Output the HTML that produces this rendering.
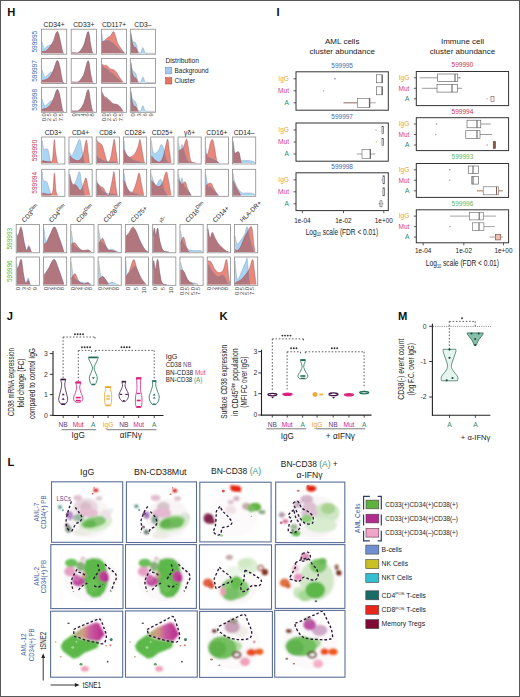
<!DOCTYPE html>
<html><head><meta charset="utf-8"><title>Figure</title>
<style>
html,body{margin:0;padding:0;background:#fff;}
body{width:520px;height:697px;overflow:hidden;}
svg{display:block;font-family:"Liberation Sans", sans-serif;}
</style></head>
<body>
<svg width="520" height="697" viewBox="0 0 520 697">
<rect x="0" y="0" width="520" height="697" fill="#fff"/>
<text x="7.2" y="16.2" font-size="11.2" fill="#111" font-weight="bold">H</text>
<text x="54.1" y="26.5" font-size="6.7" fill="#222" text-anchor="middle">CD34+</text>
<text x="83.8" y="26.5" font-size="6.7" fill="#222" text-anchor="middle">CD33+</text>
<text x="114" y="26.5" font-size="6.7" fill="#222" text-anchor="middle">CD117+</text>
<text x="142.9" y="26.5" font-size="6.7" fill="#222" text-anchor="middle">CD3–</text>
<text x="37.4" y="41.7" font-size="6.5" fill="#3f6aa8" text-anchor="middle" transform="rotate(-90 37.4 41.7)">599995</text>
<clipPath id="h1"><path d="M42.1,41.85 C42.42,43 43.22,47.96 44.02,48.72 C44.82,49.48 45.42,47.38 46.9,46.43 C48.38,45.48 51.3,45.29 52.9,43 C54.5,40.71 55.5,34.03 56.5,32.69 C57.5,31.35 57.9,31.74 58.9,34.98 C59.9,38.22 61.7,49.1 62.5,52.16 C63.3,55.21 63.5,53.11 63.7,53.3 L63.7,53.3 L42.1,53.3 Z"/></clipPath>
<path d="M42.1,41.85 C42.42,43 43.22,47.96 44.02,48.72 C44.82,49.48 45.42,47.38 46.9,46.43 C48.38,45.48 51.3,45.29 52.9,43 C54.5,40.71 55.5,34.03 56.5,32.69 C57.5,31.35 57.9,31.74 58.9,34.98 C59.9,38.22 61.7,49.1 62.5,52.16 C63.3,55.21 63.5,53.11 63.7,53.3 L63.7,53.3 L42.1,53.3 Z" fill="#a9d5f4"/>
<path d="M42.1,51.01 C42.7,51.01 44.5,51.58 45.7,51.01 C46.9,50.44 48.1,49.1 49.3,47.58 C50.5,46.05 51.62,44.52 52.9,41.85 C54.18,39.18 55.9,32.31 56.98,31.54 C58.06,30.78 58.46,34.03 59.38,37.27 C60.3,40.51 61.78,48.34 62.5,51.01 C63.22,53.68 63.5,52.92 63.7,53.3 L63.7,53.3 L42.1,53.3 Z" fill="#e8887a"/>
<path d="M42.1,51.01 C42.7,51.01 44.5,51.58 45.7,51.01 C46.9,50.44 48.1,49.1 49.3,47.58 C50.5,46.05 51.62,44.52 52.9,41.85 C54.18,39.18 55.9,32.31 56.98,31.54 C58.06,30.78 58.46,34.03 59.38,37.27 C60.3,40.51 61.78,48.34 62.5,51.01 C63.22,53.68 63.5,52.92 63.7,53.3 L63.7,53.3 L42.1,53.3 Z" fill="#b2767f" clip-path="url(#h1)"/>
<path d="M42.1,41.85 C42.42,43 43.22,47.96 44.02,48.72 C44.82,49.48 45.42,47.38 46.9,46.43 C48.38,45.48 51.3,45.29 52.9,43 C54.5,40.71 55.5,34.03 56.5,32.69 C57.5,31.35 57.9,31.74 58.9,34.98 C59.9,38.22 61.7,49.1 62.5,52.16 C63.3,55.21 63.5,53.11 63.7,53.3" fill="none" stroke="#7d8fb0" stroke-width="0.5" stroke-opacity="0.8"/>
<path d="M42.1,51.01 C42.7,51.01 44.5,51.58 45.7,51.01 C46.9,50.44 48.1,49.1 49.3,47.58 C50.5,46.05 51.62,44.52 52.9,41.85 C54.18,39.18 55.9,32.31 56.98,31.54 C58.06,30.78 58.46,34.03 59.38,37.27 C60.3,40.51 61.78,48.34 62.5,51.01 C63.22,53.68 63.5,52.92 63.7,53.3" fill="none" stroke="#8e4a55" stroke-width="0.5" stroke-opacity="0.8"/>
<rect x="41.5" y="29.2" width="25.2" height="25" fill="none" stroke="#8c8c8c" stroke-width="0.8"/>
<clipPath id="h2"><path d="M71.8,52.61 C72.2,52.65 73,52.92 74.2,52.84 C75.4,52.77 77.4,53.41 79,52.16 C80.6,50.9 82.28,48.72 83.8,45.29 C85.32,41.85 87,31.74 88.12,31.54 C89.24,31.35 89.84,40.7 90.52,44.14 C91.2,47.58 91.72,50.63 92.2,52.16 C92.68,53.68 93.2,53.11 93.4,53.3 L93.4,53.3 L71.8,53.3 Z"/></clipPath>
<path d="M71.8,52.61 C72.2,52.65 73,52.92 74.2,52.84 C75.4,52.77 77.4,53.41 79,52.16 C80.6,50.9 82.28,48.72 83.8,45.29 C85.32,41.85 87,31.74 88.12,31.54 C89.24,31.35 89.84,40.7 90.52,44.14 C91.2,47.58 91.72,50.63 92.2,52.16 C92.68,53.68 93.2,53.11 93.4,53.3 L93.4,53.3 L71.8,53.3 Z" fill="#a9d5f4"/>
<path d="M71.8,52.61 C72.2,52.65 73,52.92 74.2,52.84 C75.4,52.77 77.4,53.41 79,52.16 C80.6,50.9 82.28,48.72 83.8,45.29 C85.32,41.85 87,31.74 88.12,31.54 C89.24,31.35 89.84,40.7 90.52,44.14 C91.2,47.58 91.72,50.63 92.2,52.16 C92.68,53.68 93.2,53.11 93.4,53.3 L93.4,53.3 L71.8,53.3 Z" fill="#e8887a"/>
<path d="M71.8,52.61 C72.2,52.65 73,52.92 74.2,52.84 C75.4,52.77 77.4,53.41 79,52.16 C80.6,50.9 82.28,48.72 83.8,45.29 C85.32,41.85 87,31.74 88.12,31.54 C89.24,31.35 89.84,40.7 90.52,44.14 C91.2,47.58 91.72,50.63 92.2,52.16 C92.68,53.68 93.2,53.11 93.4,53.3 L93.4,53.3 L71.8,53.3 Z" fill="#b2767f" clip-path="url(#h2)"/>
<path d="M71.8,52.61 C72.2,52.65 73,52.92 74.2,52.84 C75.4,52.77 77.4,53.41 79,52.16 C80.6,50.9 82.28,48.72 83.8,45.29 C85.32,41.85 87,31.74 88.12,31.54 C89.24,31.35 89.84,40.7 90.52,44.14 C91.2,47.58 91.72,50.63 92.2,52.16 C92.68,53.68 93.2,53.11 93.4,53.3" fill="none" stroke="#7d8fb0" stroke-width="0.5" stroke-opacity="0.8"/>
<path d="M71.8,52.61 C72.2,52.65 73,52.92 74.2,52.84 C75.4,52.77 77.4,53.41 79,52.16 C80.6,50.9 82.28,48.72 83.8,45.29 C85.32,41.85 87,31.74 88.12,31.54 C89.24,31.35 89.84,40.7 90.52,44.14 C91.2,47.58 91.72,50.63 92.2,52.16 C92.68,53.68 93.2,53.11 93.4,53.3" fill="none" stroke="#8e4a55" stroke-width="0.5" stroke-opacity="0.8"/>
<rect x="71.2" y="29.2" width="25.2" height="25" fill="none" stroke="#8c8c8c" stroke-width="0.8"/>
<clipPath id="h3"><path d="M102,33.84 C102.16,34.98 102.36,39.56 102.96,40.7 C103.56,41.85 104.56,40.7 105.6,40.7 C106.64,40.7 108,40.32 109.2,40.7 C110.4,41.09 111.6,42.04 112.8,43 C114,43.95 115,45.09 116.4,46.43 C117.8,47.77 119.8,49.87 121.2,51.01 C122.6,52.16 124.2,52.92 124.8,53.3 L124.8,53.3 L102,53.3 Z"/></clipPath>
<path d="M102,33.84 C102.16,34.98 102.36,39.56 102.96,40.7 C103.56,41.85 104.56,40.7 105.6,40.7 C106.64,40.7 108,40.32 109.2,40.7 C110.4,41.09 111.6,42.04 112.8,43 C114,43.95 115,45.09 116.4,46.43 C117.8,47.77 119.8,49.87 121.2,51.01 C122.6,52.16 124.2,52.92 124.8,53.3 L124.8,53.3 L102,53.3 Z" fill="#a9d5f4"/>
<path d="M102,41.85 C102.4,41.66 103.4,41.47 104.4,40.7 C105.4,39.94 107,38.03 108,37.27 C109,36.51 109.48,37.08 110.4,36.12 C111.32,35.17 112.6,31.35 113.52,31.54 C114.44,31.74 115.24,35.36 115.92,37.27 C116.6,39.18 116.72,41.09 117.6,43 C118.48,44.9 120,47 121.2,48.72 C122.4,50.44 124.2,52.54 124.8,53.3 L124.8,53.3 L102,53.3 Z" fill="#e8887a"/>
<path d="M102,41.85 C102.4,41.66 103.4,41.47 104.4,40.7 C105.4,39.94 107,38.03 108,37.27 C109,36.51 109.48,37.08 110.4,36.12 C111.32,35.17 112.6,31.35 113.52,31.54 C114.44,31.74 115.24,35.36 115.92,37.27 C116.6,39.18 116.72,41.09 117.6,43 C118.48,44.9 120,47 121.2,48.72 C122.4,50.44 124.2,52.54 124.8,53.3 L124.8,53.3 L102,53.3 Z" fill="#b2767f" clip-path="url(#h3)"/>
<path d="M102,33.84 C102.16,34.98 102.36,39.56 102.96,40.7 C103.56,41.85 104.56,40.7 105.6,40.7 C106.64,40.7 108,40.32 109.2,40.7 C110.4,41.09 111.6,42.04 112.8,43 C114,43.95 115,45.09 116.4,46.43 C117.8,47.77 119.8,49.87 121.2,51.01 C122.6,52.16 124.2,52.92 124.8,53.3" fill="none" stroke="#7d8fb0" stroke-width="0.5" stroke-opacity="0.8"/>
<path d="M102,41.85 C102.4,41.66 103.4,41.47 104.4,40.7 C105.4,39.94 107,38.03 108,37.27 C109,36.51 109.48,37.08 110.4,36.12 C111.32,35.17 112.6,31.35 113.52,31.54 C114.44,31.74 115.24,35.36 115.92,37.27 C116.6,39.18 116.72,41.09 117.6,43 C118.48,44.9 120,47 121.2,48.72 C122.4,50.44 124.2,52.54 124.8,53.3" fill="none" stroke="#8e4a55" stroke-width="0.5" stroke-opacity="0.8"/>
<rect x="101.4" y="29.2" width="25.2" height="25" fill="none" stroke="#8c8c8c" stroke-width="0.8"/>
<clipPath id="h4"><path d="M130.9,32.69 C131.1,33.84 131.7,38.03 132.1,39.56 C132.5,41.09 132.7,41.28 133.3,41.85 C133.9,42.42 134.9,41.47 135.7,43 C136.5,44.52 137.46,49.37 138.1,51.01 C138.74,52.65 139.06,52.61 139.54,52.84 C140.02,53.07 140.42,53.26 140.98,52.38 C141.54,51.51 142.26,47.58 142.9,47.58 C143.54,47.58 144.22,51.47 144.82,52.38 C145.42,53.3 144.82,52.92 146.5,53.07 C148.18,53.22 153.5,53.26 154.9,53.3 L154.9,53.3 L130.9,53.3 Z"/></clipPath>
<path d="M130.9,32.69 C131.1,33.84 131.7,38.03 132.1,39.56 C132.5,41.09 132.7,41.28 133.3,41.85 C133.9,42.42 134.9,41.47 135.7,43 C136.5,44.52 137.46,49.37 138.1,51.01 C138.74,52.65 139.06,52.61 139.54,52.84 C140.02,53.07 140.42,53.26 140.98,52.38 C141.54,51.51 142.26,47.58 142.9,47.58 C143.54,47.58 144.22,51.47 144.82,52.38 C145.42,53.3 144.82,52.92 146.5,53.07 C148.18,53.22 153.5,53.26 154.9,53.3 L154.9,53.3 L130.9,53.3 Z" fill="#a9d5f4"/>
<path d="M130.9,33.84 C131.1,35.17 131.62,39.75 132.1,41.85 C132.58,43.95 133.18,45.48 133.78,46.43 C134.38,47.38 135.06,46.62 135.7,47.58 C136.34,48.53 137.14,51.2 137.62,52.16 C138.1,53.11 138.42,53.11 138.58,53.3 L138.58,53.3 L130.9,53.3 Z" fill="#e8887a"/>
<path d="M130.9,33.84 C131.1,35.17 131.62,39.75 132.1,41.85 C132.58,43.95 133.18,45.48 133.78,46.43 C134.38,47.38 135.06,46.62 135.7,47.58 C136.34,48.53 137.14,51.2 137.62,52.16 C138.1,53.11 138.42,53.11 138.58,53.3 L138.58,53.3 L130.9,53.3 Z" fill="#b2767f" clip-path="url(#h4)"/>
<path d="M130.9,32.69 C131.1,33.84 131.7,38.03 132.1,39.56 C132.5,41.09 132.7,41.28 133.3,41.85 C133.9,42.42 134.9,41.47 135.7,43 C136.5,44.52 137.46,49.37 138.1,51.01 C138.74,52.65 139.06,52.61 139.54,52.84 C140.02,53.07 140.42,53.26 140.98,52.38 C141.54,51.51 142.26,47.58 142.9,47.58 C143.54,47.58 144.22,51.47 144.82,52.38 C145.42,53.3 144.82,52.92 146.5,53.07 C148.18,53.22 153.5,53.26 154.9,53.3" fill="none" stroke="#7d8fb0" stroke-width="0.5" stroke-opacity="0.8"/>
<path d="M130.9,33.84 C131.1,35.17 131.62,39.75 132.1,41.85 C132.58,43.95 133.18,45.48 133.78,46.43 C134.38,47.38 135.06,46.62 135.7,47.58 C136.34,48.53 137.14,51.2 137.62,52.16 C138.1,53.11 138.42,53.11 138.58,53.3" fill="none" stroke="#8e4a55" stroke-width="0.5" stroke-opacity="0.8"/>
<rect x="130.3" y="29.2" width="25.2" height="25" fill="none" stroke="#8c8c8c" stroke-width="0.8"/>
<text x="37.4" y="71" font-size="6.5" fill="#3f6aa8" text-anchor="middle" transform="rotate(-90 37.4 71)">599997</text>
<clipPath id="h5"><path d="M42.1,70 C42.5,71.15 43.7,75.92 44.5,76.88 C45.3,77.83 45.9,76.49 46.9,75.73 C47.9,74.97 49.5,73.06 50.5,72.3 C51.5,71.53 51.82,73.06 52.9,71.15 C53.98,69.24 55.9,61.8 56.98,60.84 C58.06,59.89 58.46,61.99 59.38,65.42 C60.3,68.86 61.78,78.59 62.5,81.45 C63.22,84.32 63.5,82.41 63.7,82.6 L63.7,82.6 L42.1,82.6 Z"/></clipPath>
<path d="M42.1,70 C42.5,71.15 43.7,75.92 44.5,76.88 C45.3,77.83 45.9,76.49 46.9,75.73 C47.9,74.97 49.5,73.06 50.5,72.3 C51.5,71.53 51.82,73.06 52.9,71.15 C53.98,69.24 55.9,61.8 56.98,60.84 C58.06,59.89 58.46,61.99 59.38,65.42 C60.3,68.86 61.78,78.59 62.5,81.45 C63.22,84.32 63.5,82.41 63.7,82.6 L63.7,82.6 L42.1,82.6 Z" fill="#a9d5f4"/>
<path d="M42.1,80.31 C42.9,80.12 45.5,79.93 46.9,79.16 C48.3,78.4 49.3,77.45 50.5,75.73 C51.7,74.01 53.02,71.34 54.1,68.86 C55.18,66.38 56.1,61.42 56.98,60.84 C57.86,60.27 58.46,61.99 59.38,65.42 C60.3,68.86 61.78,78.59 62.5,81.45 C63.22,84.32 63.5,82.41 63.7,82.6 L63.7,82.6 L42.1,82.6 Z" fill="#e8887a"/>
<path d="M42.1,80.31 C42.9,80.12 45.5,79.93 46.9,79.16 C48.3,78.4 49.3,77.45 50.5,75.73 C51.7,74.01 53.02,71.34 54.1,68.86 C55.18,66.38 56.1,61.42 56.98,60.84 C57.86,60.27 58.46,61.99 59.38,65.42 C60.3,68.86 61.78,78.59 62.5,81.45 C63.22,84.32 63.5,82.41 63.7,82.6 L63.7,82.6 L42.1,82.6 Z" fill="#b2767f" clip-path="url(#h5)"/>
<path d="M42.1,70 C42.5,71.15 43.7,75.92 44.5,76.88 C45.3,77.83 45.9,76.49 46.9,75.73 C47.9,74.97 49.5,73.06 50.5,72.3 C51.5,71.53 51.82,73.06 52.9,71.15 C53.98,69.24 55.9,61.8 56.98,60.84 C58.06,59.89 58.46,61.99 59.38,65.42 C60.3,68.86 61.78,78.59 62.5,81.45 C63.22,84.32 63.5,82.41 63.7,82.6" fill="none" stroke="#7d8fb0" stroke-width="0.5" stroke-opacity="0.8"/>
<path d="M42.1,80.31 C42.9,80.12 45.5,79.93 46.9,79.16 C48.3,78.4 49.3,77.45 50.5,75.73 C51.7,74.01 53.02,71.34 54.1,68.86 C55.18,66.38 56.1,61.42 56.98,60.84 C57.86,60.27 58.46,61.99 59.38,65.42 C60.3,68.86 61.78,78.59 62.5,81.45 C63.22,84.32 63.5,82.41 63.7,82.6" fill="none" stroke="#8e4a55" stroke-width="0.5" stroke-opacity="0.8"/>
<rect x="41.5" y="58.5" width="25.2" height="25" fill="none" stroke="#8c8c8c" stroke-width="0.8"/>
<clipPath id="h6"><path d="M71.8,81.91 C72.2,81.95 73,82.22 74.2,82.14 C75.4,82.07 77.4,82.71 79,81.45 C80.6,80.2 82.28,78.02 83.8,74.58 C85.32,71.15 87,61.04 88.12,60.84 C89.24,60.65 89.84,70 90.52,73.44 C91.2,76.88 91.72,79.93 92.2,81.45 C92.68,82.98 93.2,82.41 93.4,82.6 L93.4,82.6 L71.8,82.6 Z"/></clipPath>
<path d="M71.8,81.91 C72.2,81.95 73,82.22 74.2,82.14 C75.4,82.07 77.4,82.71 79,81.45 C80.6,80.2 82.28,78.02 83.8,74.58 C85.32,71.15 87,61.04 88.12,60.84 C89.24,60.65 89.84,70 90.52,73.44 C91.2,76.88 91.72,79.93 92.2,81.45 C92.68,82.98 93.2,82.41 93.4,82.6 L93.4,82.6 L71.8,82.6 Z" fill="#a9d5f4"/>
<path d="M71.8,81.91 C72.2,81.95 73,82.22 74.2,82.14 C75.4,82.07 77.4,82.71 79,81.45 C80.6,80.2 82.28,78.02 83.8,74.58 C85.32,71.15 87,61.04 88.12,60.84 C89.24,60.65 89.84,70 90.52,73.44 C91.2,76.88 91.72,79.93 92.2,81.45 C92.68,82.98 93.2,82.41 93.4,82.6 L93.4,82.6 L71.8,82.6 Z" fill="#e8887a"/>
<path d="M71.8,81.91 C72.2,81.95 73,82.22 74.2,82.14 C75.4,82.07 77.4,82.71 79,81.45 C80.6,80.2 82.28,78.02 83.8,74.58 C85.32,71.15 87,61.04 88.12,60.84 C89.24,60.65 89.84,70 90.52,73.44 C91.2,76.88 91.72,79.93 92.2,81.45 C92.68,82.98 93.2,82.41 93.4,82.6 L93.4,82.6 L71.8,82.6 Z" fill="#b2767f" clip-path="url(#h6)"/>
<path d="M71.8,81.91 C72.2,81.95 73,82.22 74.2,82.14 C75.4,82.07 77.4,82.71 79,81.45 C80.6,80.2 82.28,78.02 83.8,74.58 C85.32,71.15 87,61.04 88.12,60.84 C89.24,60.65 89.84,70 90.52,73.44 C91.2,76.88 91.72,79.93 92.2,81.45 C92.68,82.98 93.2,82.41 93.4,82.6" fill="none" stroke="#7d8fb0" stroke-width="0.5" stroke-opacity="0.8"/>
<path d="M71.8,81.91 C72.2,81.95 73,82.22 74.2,82.14 C75.4,82.07 77.4,82.71 79,81.45 C80.6,80.2 82.28,78.02 83.8,74.58 C85.32,71.15 87,61.04 88.12,60.84 C89.24,60.65 89.84,70 90.52,73.44 C91.2,76.88 91.72,79.93 92.2,81.45 C92.68,82.98 93.2,82.41 93.4,82.6" fill="none" stroke="#8e4a55" stroke-width="0.5" stroke-opacity="0.8"/>
<rect x="71.2" y="58.5" width="25.2" height="25" fill="none" stroke="#8c8c8c" stroke-width="0.8"/>
<clipPath id="h7"><path d="M102,65.42 C102.4,65.81 103.6,67.14 104.4,67.72 C105.2,68.29 106,68.29 106.8,68.86 C107.6,69.43 108.2,70.39 109.2,71.15 C110.2,71.91 111.8,72.68 112.8,73.44 C113.8,74.2 114.2,74.78 115.2,75.73 C116.2,76.68 117.6,78.02 118.8,79.16 C120,80.31 121.8,82.03 122.4,82.6 L122.4,82.6 L102,82.6 Z"/></clipPath>
<path d="M102,65.42 C102.4,65.81 103.6,67.14 104.4,67.72 C105.2,68.29 106,68.29 106.8,68.86 C107.6,69.43 108.2,70.39 109.2,71.15 C110.2,71.91 111.8,72.68 112.8,73.44 C113.8,74.2 114.2,74.78 115.2,75.73 C116.2,76.68 117.6,78.02 118.8,79.16 C120,80.31 121.8,82.03 122.4,82.6 L122.4,82.6 L102,82.6 Z" fill="#a9d5f4"/>
<path d="M102,64.28 C102.4,64.47 103.6,65.23 104.4,65.42 C105.2,65.62 105.8,64.85 106.8,65.42 C107.8,66 109.2,68.1 110.4,68.86 C111.6,69.62 113,69.43 114,70 C115,70.58 115.4,70.96 116.4,72.3 C117.4,73.63 118.8,76.3 120,78.02 C121.2,79.74 123,81.84 123.6,82.6 L123.6,82.6 L102,82.6 Z" fill="#e8887a"/>
<path d="M102,64.28 C102.4,64.47 103.6,65.23 104.4,65.42 C105.2,65.62 105.8,64.85 106.8,65.42 C107.8,66 109.2,68.1 110.4,68.86 C111.6,69.62 113,69.43 114,70 C115,70.58 115.4,70.96 116.4,72.3 C117.4,73.63 118.8,76.3 120,78.02 C121.2,79.74 123,81.84 123.6,82.6 L123.6,82.6 L102,82.6 Z" fill="#b2767f" clip-path="url(#h7)"/>
<path d="M102,65.42 C102.4,65.81 103.6,67.14 104.4,67.72 C105.2,68.29 106,68.29 106.8,68.86 C107.6,69.43 108.2,70.39 109.2,71.15 C110.2,71.91 111.8,72.68 112.8,73.44 C113.8,74.2 114.2,74.78 115.2,75.73 C116.2,76.68 117.6,78.02 118.8,79.16 C120,80.31 121.8,82.03 122.4,82.6" fill="none" stroke="#7d8fb0" stroke-width="0.5" stroke-opacity="0.8"/>
<path d="M102,64.28 C102.4,64.47 103.6,65.23 104.4,65.42 C105.2,65.62 105.8,64.85 106.8,65.42 C107.8,66 109.2,68.1 110.4,68.86 C111.6,69.62 113,69.43 114,70 C115,70.58 115.4,70.96 116.4,72.3 C117.4,73.63 118.8,76.3 120,78.02 C121.2,79.74 123,81.84 123.6,82.6" fill="none" stroke="#8e4a55" stroke-width="0.5" stroke-opacity="0.8"/>
<rect x="101.4" y="58.5" width="25.2" height="25" fill="none" stroke="#8c8c8c" stroke-width="0.8"/>
<clipPath id="h8"><path d="M130.9,61.99 C131.1,63.14 131.7,67.33 132.1,68.86 C132.5,70.39 132.7,70.39 133.3,71.15 C133.9,71.91 134.9,71.72 135.7,73.44 C136.5,75.16 137.46,80 138.1,81.45 C138.74,82.91 139.06,82.1 139.54,82.14 C140.02,82.18 140.42,82.56 140.98,81.68 C141.54,80.81 142.26,76.88 142.9,76.88 C143.54,76.88 144.22,80.77 144.82,81.68 C145.42,82.6 144.82,82.22 146.5,82.37 C148.18,82.52 153.5,82.56 154.9,82.6 L154.9,82.6 L130.9,82.6 Z"/></clipPath>
<path d="M130.9,61.99 C131.1,63.14 131.7,67.33 132.1,68.86 C132.5,70.39 132.7,70.39 133.3,71.15 C133.9,71.91 134.9,71.72 135.7,73.44 C136.5,75.16 137.46,80 138.1,81.45 C138.74,82.91 139.06,82.1 139.54,82.14 C140.02,82.18 140.42,82.56 140.98,81.68 C141.54,80.81 142.26,76.88 142.9,76.88 C143.54,76.88 144.22,80.77 144.82,81.68 C145.42,82.6 144.82,82.22 146.5,82.37 C148.18,82.52 153.5,82.56 154.9,82.6 L154.9,82.6 L130.9,82.6 Z" fill="#a9d5f4"/>
<path d="M130.9,63.14 C131.1,64.66 131.62,70 132.1,72.3 C132.58,74.59 133.18,75.92 133.78,76.88 C134.38,77.83 135.06,77.18 135.7,78.02 C136.34,78.86 137.14,81.15 137.62,81.91 C138.1,82.68 138.42,82.49 138.58,82.6 L138.58,82.6 L130.9,82.6 Z" fill="#e8887a"/>
<path d="M130.9,63.14 C131.1,64.66 131.62,70 132.1,72.3 C132.58,74.59 133.18,75.92 133.78,76.88 C134.38,77.83 135.06,77.18 135.7,78.02 C136.34,78.86 137.14,81.15 137.62,81.91 C138.1,82.68 138.42,82.49 138.58,82.6 L138.58,82.6 L130.9,82.6 Z" fill="#b2767f" clip-path="url(#h8)"/>
<path d="M130.9,61.99 C131.1,63.14 131.7,67.33 132.1,68.86 C132.5,70.39 132.7,70.39 133.3,71.15 C133.9,71.91 134.9,71.72 135.7,73.44 C136.5,75.16 137.46,80 138.1,81.45 C138.74,82.91 139.06,82.1 139.54,82.14 C140.02,82.18 140.42,82.56 140.98,81.68 C141.54,80.81 142.26,76.88 142.9,76.88 C143.54,76.88 144.22,80.77 144.82,81.68 C145.42,82.6 144.82,82.22 146.5,82.37 C148.18,82.52 153.5,82.56 154.9,82.6" fill="none" stroke="#7d8fb0" stroke-width="0.5" stroke-opacity="0.8"/>
<path d="M130.9,63.14 C131.1,64.66 131.62,70 132.1,72.3 C132.58,74.59 133.18,75.92 133.78,76.88 C134.38,77.83 135.06,77.18 135.7,78.02 C136.34,78.86 137.14,81.15 137.62,81.91 C138.1,82.68 138.42,82.49 138.58,82.6" fill="none" stroke="#8e4a55" stroke-width="0.5" stroke-opacity="0.8"/>
<rect x="130.3" y="58.5" width="25.2" height="25" fill="none" stroke="#8c8c8c" stroke-width="0.8"/>
<text x="37.4" y="99.8" font-size="6.5" fill="#3f6aa8" text-anchor="middle" transform="rotate(-90 37.4 99.8)">599998</text>
<clipPath id="h9"><path d="M42.1,98.8 C42.5,99.95 43.7,104.72 44.5,105.67 C45.3,106.63 45.9,105.29 46.9,104.53 C47.9,103.77 49.5,101.86 50.5,101.09 C51.5,100.33 51.82,101.86 52.9,99.95 C53.98,98.04 55.9,90.6 56.98,89.64 C58.06,88.69 58.46,90.79 59.38,94.22 C60.3,97.66 61.78,107.39 62.5,110.25 C63.22,113.12 63.5,111.21 63.7,111.4 L63.7,111.4 L42.1,111.4 Z"/></clipPath>
<path d="M42.1,98.8 C42.5,99.95 43.7,104.72 44.5,105.67 C45.3,106.63 45.9,105.29 46.9,104.53 C47.9,103.77 49.5,101.86 50.5,101.09 C51.5,100.33 51.82,101.86 52.9,99.95 C53.98,98.04 55.9,90.6 56.98,89.64 C58.06,88.69 58.46,90.79 59.38,94.22 C60.3,97.66 61.78,107.39 62.5,110.25 C63.22,113.12 63.5,111.21 63.7,111.4 L63.7,111.4 L42.1,111.4 Z" fill="#a9d5f4"/>
<path d="M42.1,109.11 C42.9,108.92 45.5,108.73 46.9,107.96 C48.3,107.2 49.3,106.25 50.5,104.53 C51.7,102.81 53.02,100.14 54.1,97.66 C55.18,95.18 56.1,90.22 56.98,89.64 C57.86,89.07 58.46,90.79 59.38,94.22 C60.3,97.66 61.78,107.39 62.5,110.25 C63.22,113.12 63.5,111.21 63.7,111.4 L63.7,111.4 L42.1,111.4 Z" fill="#e8887a"/>
<path d="M42.1,109.11 C42.9,108.92 45.5,108.73 46.9,107.96 C48.3,107.2 49.3,106.25 50.5,104.53 C51.7,102.81 53.02,100.14 54.1,97.66 C55.18,95.18 56.1,90.22 56.98,89.64 C57.86,89.07 58.46,90.79 59.38,94.22 C60.3,97.66 61.78,107.39 62.5,110.25 C63.22,113.12 63.5,111.21 63.7,111.4 L63.7,111.4 L42.1,111.4 Z" fill="#b2767f" clip-path="url(#h9)"/>
<path d="M42.1,98.8 C42.5,99.95 43.7,104.72 44.5,105.67 C45.3,106.63 45.9,105.29 46.9,104.53 C47.9,103.77 49.5,101.86 50.5,101.09 C51.5,100.33 51.82,101.86 52.9,99.95 C53.98,98.04 55.9,90.6 56.98,89.64 C58.06,88.69 58.46,90.79 59.38,94.22 C60.3,97.66 61.78,107.39 62.5,110.25 C63.22,113.12 63.5,111.21 63.7,111.4" fill="none" stroke="#7d8fb0" stroke-width="0.5" stroke-opacity="0.8"/>
<path d="M42.1,109.11 C42.9,108.92 45.5,108.73 46.9,107.96 C48.3,107.2 49.3,106.25 50.5,104.53 C51.7,102.81 53.02,100.14 54.1,97.66 C55.18,95.18 56.1,90.22 56.98,89.64 C57.86,89.07 58.46,90.79 59.38,94.22 C60.3,97.66 61.78,107.39 62.5,110.25 C63.22,113.12 63.5,111.21 63.7,111.4" fill="none" stroke="#8e4a55" stroke-width="0.5" stroke-opacity="0.8"/>
<rect x="41.5" y="87.3" width="25.2" height="25" fill="none" stroke="#8c8c8c" stroke-width="0.8"/>
<clipPath id="h10"><path d="M71.8,110.71 C72.2,110.75 73,111.02 74.2,110.94 C75.4,110.87 77.4,111.51 79,110.25 C80.6,109 82.28,106.82 83.8,103.38 C85.32,99.95 87,89.84 88.12,89.64 C89.24,89.45 89.84,98.8 90.52,102.24 C91.2,105.67 91.72,108.73 92.2,110.25 C92.68,111.78 93.2,111.21 93.4,111.4 L93.4,111.4 L71.8,111.4 Z"/></clipPath>
<path d="M71.8,110.71 C72.2,110.75 73,111.02 74.2,110.94 C75.4,110.87 77.4,111.51 79,110.25 C80.6,109 82.28,106.82 83.8,103.38 C85.32,99.95 87,89.84 88.12,89.64 C89.24,89.45 89.84,98.8 90.52,102.24 C91.2,105.67 91.72,108.73 92.2,110.25 C92.68,111.78 93.2,111.21 93.4,111.4 L93.4,111.4 L71.8,111.4 Z" fill="#a9d5f4"/>
<path d="M71.8,110.71 C72.2,110.75 73,111.02 74.2,110.94 C75.4,110.87 77.4,111.51 79,110.25 C80.6,109 82.28,106.82 83.8,103.38 C85.32,99.95 87,89.84 88.12,89.64 C89.24,89.45 89.84,98.8 90.52,102.24 C91.2,105.67 91.72,108.73 92.2,110.25 C92.68,111.78 93.2,111.21 93.4,111.4 L93.4,111.4 L71.8,111.4 Z" fill="#e8887a"/>
<path d="M71.8,110.71 C72.2,110.75 73,111.02 74.2,110.94 C75.4,110.87 77.4,111.51 79,110.25 C80.6,109 82.28,106.82 83.8,103.38 C85.32,99.95 87,89.84 88.12,89.64 C89.24,89.45 89.84,98.8 90.52,102.24 C91.2,105.67 91.72,108.73 92.2,110.25 C92.68,111.78 93.2,111.21 93.4,111.4 L93.4,111.4 L71.8,111.4 Z" fill="#b2767f" clip-path="url(#h10)"/>
<path d="M71.8,110.71 C72.2,110.75 73,111.02 74.2,110.94 C75.4,110.87 77.4,111.51 79,110.25 C80.6,109 82.28,106.82 83.8,103.38 C85.32,99.95 87,89.84 88.12,89.64 C89.24,89.45 89.84,98.8 90.52,102.24 C91.2,105.67 91.72,108.73 92.2,110.25 C92.68,111.78 93.2,111.21 93.4,111.4" fill="none" stroke="#7d8fb0" stroke-width="0.5" stroke-opacity="0.8"/>
<path d="M71.8,110.71 C72.2,110.75 73,111.02 74.2,110.94 C75.4,110.87 77.4,111.51 79,110.25 C80.6,109 82.28,106.82 83.8,103.38 C85.32,99.95 87,89.84 88.12,89.64 C89.24,89.45 89.84,98.8 90.52,102.24 C91.2,105.67 91.72,108.73 92.2,110.25 C92.68,111.78 93.2,111.21 93.4,111.4" fill="none" stroke="#8e4a55" stroke-width="0.5" stroke-opacity="0.8"/>
<rect x="71.2" y="87.3" width="25.2" height="25" fill="none" stroke="#8c8c8c" stroke-width="0.8"/>
<clipPath id="h11"><path d="M102,93.08 C102.4,93.84 103.6,96.71 104.4,97.66 C105.2,98.61 106,98.23 106.8,98.8 C107.6,99.38 108.2,100.22 109.2,101.09 C110.2,101.97 111.8,103.5 112.8,104.07 C113.8,104.64 114.4,104.34 115.2,104.53 C116,104.72 116.8,104.76 117.6,105.22 C118.4,105.67 119.08,106.25 120,107.28 C120.92,108.31 122.6,110.71 123.12,111.4 L123.12,111.4 L102,111.4 Z"/></clipPath>
<path d="M102,93.08 C102.4,93.84 103.6,96.71 104.4,97.66 C105.2,98.61 106,98.23 106.8,98.8 C107.6,99.38 108.2,100.22 109.2,101.09 C110.2,101.97 111.8,103.5 112.8,104.07 C113.8,104.64 114.4,104.34 115.2,104.53 C116,104.72 116.8,104.76 117.6,105.22 C118.4,105.67 119.08,106.25 120,107.28 C120.92,108.31 122.6,110.71 123.12,111.4 L123.12,111.4 L102,111.4 Z" fill="#a9d5f4"/>
<path d="M102,91.94 C102.4,92.7 103.6,95.56 104.4,96.52 C105.2,97.47 106,97.09 106.8,97.66 C107.6,98.23 108.2,99 109.2,99.95 C110.2,100.9 111.8,102.7 112.8,103.38 C113.8,104.07 114.4,103.88 115.2,104.07 C116,104.26 116.8,104.07 117.6,104.53 C118.4,104.99 119.08,105.67 120,106.82 C120.92,107.96 122.6,110.64 123.12,111.4 L123.12,111.4 L102,111.4 Z" fill="#e8887a"/>
<path d="M102,91.94 C102.4,92.7 103.6,95.56 104.4,96.52 C105.2,97.47 106,97.09 106.8,97.66 C107.6,98.23 108.2,99 109.2,99.95 C110.2,100.9 111.8,102.7 112.8,103.38 C113.8,104.07 114.4,103.88 115.2,104.07 C116,104.26 116.8,104.07 117.6,104.53 C118.4,104.99 119.08,105.67 120,106.82 C120.92,107.96 122.6,110.64 123.12,111.4 L123.12,111.4 L102,111.4 Z" fill="#b2767f" clip-path="url(#h11)"/>
<path d="M102,93.08 C102.4,93.84 103.6,96.71 104.4,97.66 C105.2,98.61 106,98.23 106.8,98.8 C107.6,99.38 108.2,100.22 109.2,101.09 C110.2,101.97 111.8,103.5 112.8,104.07 C113.8,104.64 114.4,104.34 115.2,104.53 C116,104.72 116.8,104.76 117.6,105.22 C118.4,105.67 119.08,106.25 120,107.28 C120.92,108.31 122.6,110.71 123.12,111.4" fill="none" stroke="#7d8fb0" stroke-width="0.5" stroke-opacity="0.8"/>
<path d="M102,91.94 C102.4,92.7 103.6,95.56 104.4,96.52 C105.2,97.47 106,97.09 106.8,97.66 C107.6,98.23 108.2,99 109.2,99.95 C110.2,100.9 111.8,102.7 112.8,103.38 C113.8,104.07 114.4,103.88 115.2,104.07 C116,104.26 116.8,104.07 117.6,104.53 C118.4,104.99 119.08,105.67 120,106.82 C120.92,107.96 122.6,110.64 123.12,111.4" fill="none" stroke="#8e4a55" stroke-width="0.5" stroke-opacity="0.8"/>
<rect x="101.4" y="87.3" width="25.2" height="25" fill="none" stroke="#8c8c8c" stroke-width="0.8"/>
<clipPath id="h12"><path d="M130.9,90.79 C131.1,91.93 131.7,96.13 132.1,97.66 C132.5,99.19 132.7,99.19 133.3,99.95 C133.9,100.71 134.9,100.52 135.7,102.24 C136.5,103.96 137.46,108.8 138.1,110.25 C138.74,111.71 139.06,110.9 139.54,110.94 C140.02,110.98 140.42,111.36 140.98,110.48 C141.54,109.61 142.26,105.67 142.9,105.67 C143.54,105.67 144.22,109.57 144.82,110.48 C145.42,111.4 144.82,111.02 146.5,111.17 C148.18,111.32 153.5,111.36 154.9,111.4 L154.9,111.4 L130.9,111.4 Z"/></clipPath>
<path d="M130.9,90.79 C131.1,91.93 131.7,96.13 132.1,97.66 C132.5,99.19 132.7,99.19 133.3,99.95 C133.9,100.71 134.9,100.52 135.7,102.24 C136.5,103.96 137.46,108.8 138.1,110.25 C138.74,111.71 139.06,110.9 139.54,110.94 C140.02,110.98 140.42,111.36 140.98,110.48 C141.54,109.61 142.26,105.67 142.9,105.67 C143.54,105.67 144.22,109.57 144.82,110.48 C145.42,111.4 144.82,111.02 146.5,111.17 C148.18,111.32 153.5,111.36 154.9,111.4 L154.9,111.4 L130.9,111.4 Z" fill="#a9d5f4"/>
<path d="M130.9,91.94 C131.1,93.46 131.62,98.81 132.1,101.09 C132.58,103.38 133.18,104.72 133.78,105.67 C134.38,106.63 135.06,105.98 135.7,106.82 C136.34,107.66 137.14,109.95 137.62,110.71 C138.1,111.48 138.42,111.29 138.58,111.4 L138.58,111.4 L130.9,111.4 Z" fill="#e8887a"/>
<path d="M130.9,91.94 C131.1,93.46 131.62,98.81 132.1,101.09 C132.58,103.38 133.18,104.72 133.78,105.67 C134.38,106.63 135.06,105.98 135.7,106.82 C136.34,107.66 137.14,109.95 137.62,110.71 C138.1,111.48 138.42,111.29 138.58,111.4 L138.58,111.4 L130.9,111.4 Z" fill="#b2767f" clip-path="url(#h12)"/>
<path d="M130.9,90.79 C131.1,91.93 131.7,96.13 132.1,97.66 C132.5,99.19 132.7,99.19 133.3,99.95 C133.9,100.71 134.9,100.52 135.7,102.24 C136.5,103.96 137.46,108.8 138.1,110.25 C138.74,111.71 139.06,110.9 139.54,110.94 C140.02,110.98 140.42,111.36 140.98,110.48 C141.54,109.61 142.26,105.67 142.9,105.67 C143.54,105.67 144.22,109.57 144.82,110.48 C145.42,111.4 144.82,111.02 146.5,111.17 C148.18,111.32 153.5,111.36 154.9,111.4" fill="none" stroke="#7d8fb0" stroke-width="0.5" stroke-opacity="0.8"/>
<path d="M130.9,91.94 C131.1,93.46 131.62,98.81 132.1,101.09 C132.58,103.38 133.18,104.72 133.78,105.67 C134.38,106.63 135.06,105.98 135.7,106.82 C136.34,107.66 137.14,109.95 137.62,110.71 C138.1,111.48 138.42,111.29 138.58,111.4" fill="none" stroke="#8e4a55" stroke-width="0.5" stroke-opacity="0.8"/>
<rect x="130.3" y="87.3" width="25.2" height="25" fill="none" stroke="#8c8c8c" stroke-width="0.8"/>
<text x="45.92" y="113.2" font-size="5.8" fill="#444" text-anchor="end" transform="rotate(-90 45.92 113.2)">0.0</text>
<text x="51.2" y="113.2" font-size="5.8" fill="#444" text-anchor="end" transform="rotate(-90 51.2 113.2)">2.5</text>
<text x="57.2" y="113.2" font-size="5.8" fill="#444" text-anchor="end" transform="rotate(-90 57.2 113.2)">5.0</text>
<text x="62.72" y="113.2" font-size="5.8" fill="#444" text-anchor="end" transform="rotate(-90 62.72 113.2)">7.5</text>
<text x="75.62" y="113.2" font-size="5.8" fill="#444" text-anchor="end" transform="rotate(-90 75.62 113.2)">0</text>
<text x="80.18" y="113.2" font-size="5.8" fill="#444" text-anchor="end" transform="rotate(-90 80.18 113.2)">2</text>
<text x="84.74" y="113.2" font-size="5.8" fill="#444" text-anchor="end" transform="rotate(-90 84.74 113.2)">4</text>
<text x="89.3" y="113.2" font-size="5.8" fill="#444" text-anchor="end" transform="rotate(-90 89.3 113.2)">6</text>
<text x="93.86" y="113.2" font-size="5.8" fill="#444" text-anchor="end" transform="rotate(-90 93.86 113.2)">8</text>
<text x="105.82" y="113.2" font-size="5.8" fill="#444" text-anchor="end" transform="rotate(-90 105.82 113.2)">0.0</text>
<text x="111.1" y="113.2" font-size="5.8" fill="#444" text-anchor="end" transform="rotate(-90 111.1 113.2)">2.5</text>
<text x="117.1" y="113.2" font-size="5.8" fill="#444" text-anchor="end" transform="rotate(-90 117.1 113.2)">5.0</text>
<text x="122.62" y="113.2" font-size="5.8" fill="#444" text-anchor="end" transform="rotate(-90 122.62 113.2)">7.5</text>
<text x="134.72" y="113.2" font-size="5.8" fill="#444" text-anchor="end" transform="rotate(-90 134.72 113.2)">0</text>
<text x="140.72" y="113.2" font-size="5.8" fill="#444" text-anchor="end" transform="rotate(-90 140.72 113.2)">3</text>
<text x="146.72" y="113.2" font-size="5.8" fill="#444" text-anchor="end" transform="rotate(-90 146.72 113.2)">6</text>
<text x="152.72" y="113.2" font-size="5.8" fill="#444" text-anchor="end" transform="rotate(-90 152.72 113.2)">9</text>
<text x="165.4" y="62.9" font-size="6.5" fill="#222" textLength="33.6" lengthAdjust="spacingAndGlyphs">Distribution</text>
<rect x="165.6" y="67.4" width="6.2" height="6.4" fill="#a4cbee" stroke="#6f8fb5" stroke-width="0.6"/>
<rect x="165.6" y="77.6" width="6.2" height="6.4" fill="#e57468" stroke="#b05050" stroke-width="0.6"/>
<text x="174.6" y="73" font-size="6.5" fill="#222" textLength="34" lengthAdjust="spacingAndGlyphs">Background</text>
<text x="174.6" y="83.2" font-size="6.5" fill="#222">Cluster</text>
<text x="53.3" y="134.5" font-size="6.7" fill="#222" text-anchor="middle">CD3+</text>
<text x="80.56" y="134.5" font-size="6.7" fill="#222" text-anchor="middle">CD4+</text>
<text x="107.82" y="134.5" font-size="6.7" fill="#222" text-anchor="middle">CD8+</text>
<text x="135.08" y="134.5" font-size="6.7" fill="#222" text-anchor="middle">CD28+</text>
<text x="162.34" y="134.5" font-size="6.7" fill="#222" text-anchor="middle">CD25+</text>
<text x="189.6" y="134.5" font-size="6.7" fill="#222" text-anchor="middle">γδ+</text>
<text x="216.86" y="134.5" font-size="6.7" fill="#222" text-anchor="middle">CD16+</text>
<text x="244.12" y="134.5" font-size="6.7" fill="#222" text-anchor="middle">CD14–</text>
<text x="37.4" y="150.5" font-size="6.5" fill="#c8354b" text-anchor="middle" transform="rotate(-90 37.4 150.5)">599990</text>
<clipPath id="h13"><path d="M42.3,140.69 C42.48,141.94 43.03,146.71 43.4,148.16 C43.77,149.61 43.77,149.2 44.5,149.41 C45.23,149.61 46.88,147.75 47.8,149.41 C48.72,151.06 49.45,157.08 50,159.36 C50.55,161.65 50.92,162.48 51.1,163.1 L51.1,163.1 L42.3,163.1 Z"/></clipPath>
<path d="M42.3,140.69 C42.48,141.94 43.03,146.71 43.4,148.16 C43.77,149.61 43.77,149.2 44.5,149.41 C45.23,149.61 46.88,147.75 47.8,149.41 C48.72,151.06 49.45,157.08 50,159.36 C50.55,161.65 50.92,162.48 51.1,163.1 L51.1,163.1 L42.3,163.1 Z" fill="#a9d5f4"/>
<path d="M42.3,160.61 C43.4,160.82 47.25,161.85 48.9,161.85 C50.55,161.85 51.47,162.48 52.2,160.61 C52.93,158.74 52.93,154.18 53.3,150.65 C53.67,147.12 54.03,139.44 54.4,139.44 C54.77,139.44 55.02,146.91 55.5,150.65 C55.98,154.38 56.82,159.78 57.26,161.85 C57.7,163.93 57.99,162.89 58.14,163.1 L58.14,163.1 L42.3,163.1 Z" fill="#e8887a"/>
<path d="M42.3,160.61 C43.4,160.82 47.25,161.85 48.9,161.85 C50.55,161.85 51.47,162.48 52.2,160.61 C52.93,158.74 52.93,154.18 53.3,150.65 C53.67,147.12 54.03,139.44 54.4,139.44 C54.77,139.44 55.02,146.91 55.5,150.65 C55.98,154.38 56.82,159.78 57.26,161.85 C57.7,163.93 57.99,162.89 58.14,163.1 L58.14,163.1 L42.3,163.1 Z" fill="#b2767f" clip-path="url(#h13)"/>
<path d="M42.3,140.69 C42.48,141.94 43.03,146.71 43.4,148.16 C43.77,149.61 43.77,149.2 44.5,149.41 C45.23,149.61 46.88,147.75 47.8,149.41 C48.72,151.06 49.45,157.08 50,159.36 C50.55,161.65 50.92,162.48 51.1,163.1" fill="none" stroke="#7d8fb0" stroke-width="0.5" stroke-opacity="0.8"/>
<path d="M42.3,160.61 C43.4,160.82 47.25,161.85 48.9,161.85 C50.55,161.85 51.47,162.48 52.2,160.61 C52.93,158.74 52.93,154.18 53.3,150.65 C53.67,147.12 54.03,139.44 54.4,139.44 C54.77,139.44 55.02,146.91 55.5,150.65 C55.98,154.38 56.82,159.78 57.26,161.85 C57.7,163.93 57.99,162.89 58.14,163.1" fill="none" stroke="#8e4a55" stroke-width="0.5" stroke-opacity="0.8"/>
<rect x="41.7" y="137" width="23.2" height="27" fill="none" stroke="#8c8c8c" stroke-width="0.8"/>
<clipPath id="h14"><path d="M69.56,151.89 C69.93,152.52 70.84,156.04 71.76,155.63 C72.68,155.22 73.78,152.1 75.06,149.41 C76.34,146.71 78.36,139.65 79.46,139.44 C80.56,139.24 80.93,144.63 81.66,148.16 C82.39,151.69 83.31,158.12 83.86,160.61 C84.41,163.1 84.78,162.69 84.96,163.1 L84.96,163.1 L69.56,163.1 Z"/></clipPath>
<path d="M69.56,151.89 C69.93,152.52 70.84,156.04 71.76,155.63 C72.68,155.22 73.78,152.1 75.06,149.41 C76.34,146.71 78.36,139.65 79.46,139.44 C80.56,139.24 80.93,144.63 81.66,148.16 C82.39,151.69 83.31,158.12 83.86,160.61 C84.41,163.1 84.78,162.69 84.96,163.1 L84.96,163.1 L69.56,163.1 Z" fill="#a9d5f4"/>
<path d="M69.56,155.63 C70.29,156.25 72.49,158.53 73.96,159.36 C75.43,160.19 76.89,161.23 78.36,160.61 C79.83,159.99 81.59,158.53 82.76,155.63 C83.93,152.72 84.74,145.67 85.4,143.18 C86.06,140.69 86.24,139.03 86.72,140.69 C87.2,142.35 87.82,149.4 88.26,153.14 C88.7,156.88 89.18,161.44 89.36,163.1 L89.36,163.1 L69.56,163.1 Z" fill="#e8887a"/>
<path d="M69.56,155.63 C70.29,156.25 72.49,158.53 73.96,159.36 C75.43,160.19 76.89,161.23 78.36,160.61 C79.83,159.99 81.59,158.53 82.76,155.63 C83.93,152.72 84.74,145.67 85.4,143.18 C86.06,140.69 86.24,139.03 86.72,140.69 C87.2,142.35 87.82,149.4 88.26,153.14 C88.7,156.88 89.18,161.44 89.36,163.1 L89.36,163.1 L69.56,163.1 Z" fill="#b2767f" clip-path="url(#h14)"/>
<path d="M69.56,151.89 C69.93,152.52 70.84,156.04 71.76,155.63 C72.68,155.22 73.78,152.1 75.06,149.41 C76.34,146.71 78.36,139.65 79.46,139.44 C80.56,139.24 80.93,144.63 81.66,148.16 C82.39,151.69 83.31,158.12 83.86,160.61 C84.41,163.1 84.78,162.69 84.96,163.1" fill="none" stroke="#7d8fb0" stroke-width="0.5" stroke-opacity="0.8"/>
<path d="M69.56,155.63 C70.29,156.25 72.49,158.53 73.96,159.36 C75.43,160.19 76.89,161.23 78.36,160.61 C79.83,159.99 81.59,158.53 82.76,155.63 C83.93,152.72 84.74,145.67 85.4,143.18 C86.06,140.69 86.24,139.03 86.72,140.69 C87.2,142.35 87.82,149.4 88.26,153.14 C88.7,156.88 89.18,161.44 89.36,163.1" fill="none" stroke="#8e4a55" stroke-width="0.5" stroke-opacity="0.8"/>
<rect x="68.96" y="137" width="23.2" height="27" fill="none" stroke="#8c8c8c" stroke-width="0.8"/>
<clipPath id="h15"><path d="M96.82,155.63 C97.19,156.04 97.92,157.29 99.02,158.12 C100.12,158.95 101.95,159.99 103.42,160.61 C104.89,161.23 105.99,161.65 107.82,161.85 C109.65,162.06 112.77,161.65 114.42,161.85 C116.07,162.06 117.17,162.89 117.72,163.1 L117.72,163.1 L96.82,163.1 Z"/></clipPath>
<path d="M96.82,155.63 C97.19,156.04 97.92,157.29 99.02,158.12 C100.12,158.95 101.95,159.99 103.42,160.61 C104.89,161.23 105.99,161.65 107.82,161.85 C109.65,162.06 112.77,161.65 114.42,161.85 C116.07,162.06 117.17,162.89 117.72,163.1 L117.72,163.1 L96.82,163.1 Z" fill="#a9d5f4"/>
<path d="M96.82,139.44 C97,139.86 97.37,141.31 97.92,141.94 C98.47,142.56 99.39,142.56 100.12,143.18 C100.85,143.8 101.59,144.01 102.32,145.67 C103.05,147.33 103.79,150.65 104.52,153.14 C105.25,155.63 105.99,159.16 106.72,160.61 C107.45,162.06 108.19,162.69 108.92,161.85 C109.65,161.02 110.39,158.74 111.12,155.63 C111.85,152.52 112.77,145.88 113.32,143.18 C113.87,140.48 113.98,138.2 114.42,139.44 C114.86,140.69 115.41,146.71 115.96,150.65 C116.51,154.59 117.43,161.02 117.72,163.1 L117.72,163.1 L96.82,163.1 Z" fill="#e8887a"/>
<path d="M96.82,139.44 C97,139.86 97.37,141.31 97.92,141.94 C98.47,142.56 99.39,142.56 100.12,143.18 C100.85,143.8 101.59,144.01 102.32,145.67 C103.05,147.33 103.79,150.65 104.52,153.14 C105.25,155.63 105.99,159.16 106.72,160.61 C107.45,162.06 108.19,162.69 108.92,161.85 C109.65,161.02 110.39,158.74 111.12,155.63 C111.85,152.52 112.77,145.88 113.32,143.18 C113.87,140.48 113.98,138.2 114.42,139.44 C114.86,140.69 115.41,146.71 115.96,150.65 C116.51,154.59 117.43,161.02 117.72,163.1 L117.72,163.1 L96.82,163.1 Z" fill="#b2767f" clip-path="url(#h15)"/>
<path d="M96.82,155.63 C97.19,156.04 97.92,157.29 99.02,158.12 C100.12,158.95 101.95,159.99 103.42,160.61 C104.89,161.23 105.99,161.65 107.82,161.85 C109.65,162.06 112.77,161.65 114.42,161.85 C116.07,162.06 117.17,162.89 117.72,163.1" fill="none" stroke="#7d8fb0" stroke-width="0.5" stroke-opacity="0.8"/>
<path d="M96.82,139.44 C97,139.86 97.37,141.31 97.92,141.94 C98.47,142.56 99.39,142.56 100.12,143.18 C100.85,143.8 101.59,144.01 102.32,145.67 C103.05,147.33 103.79,150.65 104.52,153.14 C105.25,155.63 105.99,159.16 106.72,160.61 C107.45,162.06 108.19,162.69 108.92,161.85 C109.65,161.02 110.39,158.74 111.12,155.63 C111.85,152.52 112.77,145.88 113.32,143.18 C113.87,140.48 113.98,138.2 114.42,139.44 C114.86,140.69 115.41,146.71 115.96,150.65 C116.51,154.59 117.43,161.02 117.72,163.1" fill="none" stroke="#8e4a55" stroke-width="0.5" stroke-opacity="0.8"/>
<rect x="96.22" y="137" width="23.2" height="27" fill="none" stroke="#8c8c8c" stroke-width="0.8"/>
<clipPath id="h16"><path d="M124.08,140.69 C124.26,142.76 124.81,150.86 125.18,153.14 C125.55,155.42 125.73,153.76 126.28,154.38 C126.83,155.01 127.01,155.84 128.48,156.88 C129.95,157.91 132.51,159.57 135.08,160.61 C137.65,161.65 142.41,162.69 143.88,163.1 L143.88,163.1 L124.08,163.1 Z"/></clipPath>
<path d="M124.08,140.69 C124.26,142.76 124.81,150.86 125.18,153.14 C125.55,155.42 125.73,153.76 126.28,154.38 C126.83,155.01 127.01,155.84 128.48,156.88 C129.95,157.91 132.51,159.57 135.08,160.61 C137.65,161.65 142.41,162.69 143.88,163.1 L143.88,163.1 L124.08,163.1 Z" fill="#a9d5f4"/>
<path d="M124.08,149.41 C124.63,150.44 126.28,154.38 127.38,155.63 C128.48,156.88 129.4,157.29 130.68,156.88 C131.96,156.46 133.8,155.01 135.08,153.14 C136.36,151.27 137.57,147.95 138.38,145.67 C139.19,143.39 139.37,139.03 139.92,139.44 C140.47,139.86 141.02,144.63 141.68,148.16 C142.34,151.69 143.33,158.12 143.88,160.61 C144.43,163.1 144.8,162.69 144.98,163.1 L144.98,163.1 L124.08,163.1 Z" fill="#e8887a"/>
<path d="M124.08,149.41 C124.63,150.44 126.28,154.38 127.38,155.63 C128.48,156.88 129.4,157.29 130.68,156.88 C131.96,156.46 133.8,155.01 135.08,153.14 C136.36,151.27 137.57,147.95 138.38,145.67 C139.19,143.39 139.37,139.03 139.92,139.44 C140.47,139.86 141.02,144.63 141.68,148.16 C142.34,151.69 143.33,158.12 143.88,160.61 C144.43,163.1 144.8,162.69 144.98,163.1 L144.98,163.1 L124.08,163.1 Z" fill="#b2767f" clip-path="url(#h16)"/>
<path d="M124.08,140.69 C124.26,142.76 124.81,150.86 125.18,153.14 C125.55,155.42 125.73,153.76 126.28,154.38 C126.83,155.01 127.01,155.84 128.48,156.88 C129.95,157.91 132.51,159.57 135.08,160.61 C137.65,161.65 142.41,162.69 143.88,163.1" fill="none" stroke="#7d8fb0" stroke-width="0.5" stroke-opacity="0.8"/>
<path d="M124.08,149.41 C124.63,150.44 126.28,154.38 127.38,155.63 C128.48,156.88 129.4,157.29 130.68,156.88 C131.96,156.46 133.8,155.01 135.08,153.14 C136.36,151.27 137.57,147.95 138.38,145.67 C139.19,143.39 139.37,139.03 139.92,139.44 C140.47,139.86 141.02,144.63 141.68,148.16 C142.34,151.69 143.33,158.12 143.88,160.61 C144.43,163.1 144.8,162.69 144.98,163.1" fill="none" stroke="#8e4a55" stroke-width="0.5" stroke-opacity="0.8"/>
<rect x="123.48" y="137" width="23.2" height="27" fill="none" stroke="#8c8c8c" stroke-width="0.8"/>
<clipPath id="h17"><path d="M151.34,140.69 C151.63,142.56 152.37,149.82 153.1,151.89 C153.83,153.97 154.75,153.55 155.74,153.14 C156.73,152.72 158.12,150.86 159.04,149.41 C159.96,147.95 160.51,144.63 161.24,144.42 C161.97,144.22 162.52,145.46 163.44,148.16 C164.36,150.86 165.64,158.12 166.74,160.61 C167.84,163.1 169.49,162.69 170.04,163.1 L170.04,163.1 L151.34,163.1 Z"/></clipPath>
<path d="M151.34,140.69 C151.63,142.56 152.37,149.82 153.1,151.89 C153.83,153.97 154.75,153.55 155.74,153.14 C156.73,152.72 158.12,150.86 159.04,149.41 C159.96,147.95 160.51,144.63 161.24,144.42 C161.97,144.22 162.52,145.46 163.44,148.16 C164.36,150.86 165.64,158.12 166.74,160.61 C167.84,163.1 169.49,162.69 170.04,163.1 L170.04,163.1 L151.34,163.1 Z" fill="#a9d5f4"/>
<path d="M151.34,155.63 C152.07,156.46 154.27,159.57 155.74,160.61 C157.21,161.65 158.86,162.69 160.14,161.85 C161.42,161.02 162.41,158.74 163.44,155.63 C164.47,152.52 165.57,145.88 166.3,143.18 C167.03,140.48 167.33,138.2 167.84,139.44 C168.35,140.69 168.83,146.71 169.38,150.65 C169.93,154.59 170.85,161.02 171.14,163.1 L171.14,163.1 L151.34,163.1 Z" fill="#e8887a"/>
<path d="M151.34,155.63 C152.07,156.46 154.27,159.57 155.74,160.61 C157.21,161.65 158.86,162.69 160.14,161.85 C161.42,161.02 162.41,158.74 163.44,155.63 C164.47,152.52 165.57,145.88 166.3,143.18 C167.03,140.48 167.33,138.2 167.84,139.44 C168.35,140.69 168.83,146.71 169.38,150.65 C169.93,154.59 170.85,161.02 171.14,163.1 L171.14,163.1 L151.34,163.1 Z" fill="#b2767f" clip-path="url(#h17)"/>
<path d="M151.34,140.69 C151.63,142.56 152.37,149.82 153.1,151.89 C153.83,153.97 154.75,153.55 155.74,153.14 C156.73,152.72 158.12,150.86 159.04,149.41 C159.96,147.95 160.51,144.63 161.24,144.42 C161.97,144.22 162.52,145.46 163.44,148.16 C164.36,150.86 165.64,158.12 166.74,160.61 C167.84,163.1 169.49,162.69 170.04,163.1" fill="none" stroke="#7d8fb0" stroke-width="0.5" stroke-opacity="0.8"/>
<path d="M151.34,155.63 C152.07,156.46 154.27,159.57 155.74,160.61 C157.21,161.65 158.86,162.69 160.14,161.85 C161.42,161.02 162.41,158.74 163.44,155.63 C164.47,152.52 165.57,145.88 166.3,143.18 C167.03,140.48 167.33,138.2 167.84,139.44 C168.35,140.69 168.83,146.71 169.38,150.65 C169.93,154.59 170.85,161.02 171.14,163.1" fill="none" stroke="#8e4a55" stroke-width="0.5" stroke-opacity="0.8"/>
<rect x="150.74" y="137" width="23.2" height="27" fill="none" stroke="#8c8c8c" stroke-width="0.8"/>
<clipPath id="h18"><path d="M178.6,143.18 C178.89,144.42 179.81,150.44 180.36,150.65 C180.91,150.86 181.28,144.42 181.9,144.42 C182.52,144.42 183.18,147.95 184.1,150.65 C185.02,153.35 186.12,158.53 187.4,160.61 C188.68,162.69 191.07,162.69 191.8,163.1 L191.8,163.1 L178.6,163.1 Z"/></clipPath>
<path d="M178.6,143.18 C178.89,144.42 179.81,150.44 180.36,150.65 C180.91,150.86 181.28,144.42 181.9,144.42 C182.52,144.42 183.18,147.95 184.1,150.65 C185.02,153.35 186.12,158.53 187.4,160.61 C188.68,162.69 191.07,162.69 191.8,163.1 L191.8,163.1 L178.6,163.1 Z" fill="#a9d5f4"/>
<path d="M178.6,150.65 C179.33,150.23 181.9,149.61 183,148.16 C184.1,146.71 184.54,143.39 185.2,141.94 C185.86,140.48 186.41,138.41 186.96,139.44 C187.51,140.48 187.88,144.63 188.5,148.16 C189.12,151.69 189.78,158.2 190.7,160.61 C191.62,163.02 193.08,162.19 194,162.6 C194.92,163.02 195.83,163.02 196.2,163.1 L196.2,163.1 L178.6,163.1 Z" fill="#e8887a"/>
<path d="M178.6,150.65 C179.33,150.23 181.9,149.61 183,148.16 C184.1,146.71 184.54,143.39 185.2,141.94 C185.86,140.48 186.41,138.41 186.96,139.44 C187.51,140.48 187.88,144.63 188.5,148.16 C189.12,151.69 189.78,158.2 190.7,160.61 C191.62,163.02 193.08,162.19 194,162.6 C194.92,163.02 195.83,163.02 196.2,163.1 L196.2,163.1 L178.6,163.1 Z" fill="#b2767f" clip-path="url(#h18)"/>
<path d="M178.6,143.18 C178.89,144.42 179.81,150.44 180.36,150.65 C180.91,150.86 181.28,144.42 181.9,144.42 C182.52,144.42 183.18,147.95 184.1,150.65 C185.02,153.35 186.12,158.53 187.4,160.61 C188.68,162.69 191.07,162.69 191.8,163.1" fill="none" stroke="#7d8fb0" stroke-width="0.5" stroke-opacity="0.8"/>
<path d="M178.6,150.65 C179.33,150.23 181.9,149.61 183,148.16 C184.1,146.71 184.54,143.39 185.2,141.94 C185.86,140.48 186.41,138.41 186.96,139.44 C187.51,140.48 187.88,144.63 188.5,148.16 C189.12,151.69 189.78,158.2 190.7,160.61 C191.62,163.02 193.08,162.19 194,162.6 C194.92,163.02 195.83,163.02 196.2,163.1" fill="none" stroke="#8e4a55" stroke-width="0.5" stroke-opacity="0.8"/>
<rect x="178" y="137" width="23.2" height="27" fill="none" stroke="#8c8c8c" stroke-width="0.8"/>
<clipPath id="h19"><path d="M205.86,148.16 C206.04,149.41 206.23,153.97 206.96,155.63 C207.69,157.29 208.79,157.29 210.26,158.12 C211.73,158.95 214.29,159.78 215.76,160.61 C217.23,161.44 218.51,162.69 219.06,163.1 L219.06,163.1 L205.86,163.1 Z"/></clipPath>
<path d="M205.86,148.16 C206.04,149.41 206.23,153.97 206.96,155.63 C207.69,157.29 208.79,157.29 210.26,158.12 C211.73,158.95 214.29,159.78 215.76,160.61 C217.23,161.44 218.51,162.69 219.06,163.1 L219.06,163.1 L205.86,163.1 Z" fill="#a9d5f4"/>
<path d="M205.86,154.38 C206.23,154.18 207.33,155.01 208.06,153.14 C208.79,151.27 209.53,145.46 210.26,143.18 C210.99,140.9 211.8,139.03 212.46,139.44 C213.12,139.86 213.49,142.14 214.22,145.67 C214.95,149.2 216.05,157.7 216.86,160.61 C217.67,163.51 218.69,162.69 219.06,163.1 L219.06,163.1 L205.86,163.1 Z" fill="#e8887a"/>
<path d="M205.86,154.38 C206.23,154.18 207.33,155.01 208.06,153.14 C208.79,151.27 209.53,145.46 210.26,143.18 C210.99,140.9 211.8,139.03 212.46,139.44 C213.12,139.86 213.49,142.14 214.22,145.67 C214.95,149.2 216.05,157.7 216.86,160.61 C217.67,163.51 218.69,162.69 219.06,163.1 L219.06,163.1 L205.86,163.1 Z" fill="#b2767f" clip-path="url(#h19)"/>
<path d="M205.86,148.16 C206.04,149.41 206.23,153.97 206.96,155.63 C207.69,157.29 208.79,157.29 210.26,158.12 C211.73,158.95 214.29,159.78 215.76,160.61 C217.23,161.44 218.51,162.69 219.06,163.1" fill="none" stroke="#7d8fb0" stroke-width="0.5" stroke-opacity="0.8"/>
<path d="M205.86,154.38 C206.23,154.18 207.33,155.01 208.06,153.14 C208.79,151.27 209.53,145.46 210.26,143.18 C210.99,140.9 211.8,139.03 212.46,139.44 C213.12,139.86 213.49,142.14 214.22,145.67 C214.95,149.2 216.05,157.7 216.86,160.61 C217.67,163.51 218.69,162.69 219.06,163.1" fill="none" stroke="#8e4a55" stroke-width="0.5" stroke-opacity="0.8"/>
<rect x="205.26" y="137" width="23.2" height="27" fill="none" stroke="#8c8c8c" stroke-width="0.8"/>
<clipPath id="h20"><path d="M233.12,140.69 C233.3,142.35 233.85,148.57 234.22,150.65 C234.59,152.72 234.77,152.93 235.32,153.14 C235.87,153.35 236.86,151.89 237.52,151.89 C238.18,151.89 238.73,151.77 239.28,153.14 C239.83,154.51 240.01,158.87 240.82,160.11 C241.63,161.36 242.84,160.53 244.12,160.61 C245.4,160.69 247.24,160.53 248.52,160.61 C249.8,160.69 250.9,160.9 251.82,161.11 C252.74,161.32 253.47,161.52 254.02,161.85 C254.57,162.19 254.94,162.89 255.12,163.1 L255.12,163.1 L233.12,163.1 Z"/></clipPath>
<path d="M233.12,140.69 C233.3,142.35 233.85,148.57 234.22,150.65 C234.59,152.72 234.77,152.93 235.32,153.14 C235.87,153.35 236.86,151.89 237.52,151.89 C238.18,151.89 238.73,151.77 239.28,153.14 C239.83,154.51 240.01,158.87 240.82,160.11 C241.63,161.36 242.84,160.53 244.12,160.61 C245.4,160.69 247.24,160.53 248.52,160.61 C249.8,160.69 250.9,160.9 251.82,161.11 C252.74,161.32 253.47,161.52 254.02,161.85 C254.57,162.19 254.94,162.89 255.12,163.1 L255.12,163.1 L233.12,163.1 Z" fill="#a9d5f4"/>
<path d="M233.12,141.94 C233.3,143.59 233.85,150.03 234.22,151.89 C234.59,153.76 234.77,153.14 235.32,153.14 C235.87,153.14 236.86,151.89 237.52,151.89 C238.18,151.89 238.73,151.48 239.28,153.14 C239.83,154.8 240.38,160.19 240.82,161.85 C241.26,163.51 241.74,162.89 241.92,163.1 L241.92,163.1 L233.12,163.1 Z" fill="#e8887a"/>
<path d="M233.12,141.94 C233.3,143.59 233.85,150.03 234.22,151.89 C234.59,153.76 234.77,153.14 235.32,153.14 C235.87,153.14 236.86,151.89 237.52,151.89 C238.18,151.89 238.73,151.48 239.28,153.14 C239.83,154.8 240.38,160.19 240.82,161.85 C241.26,163.51 241.74,162.89 241.92,163.1 L241.92,163.1 L233.12,163.1 Z" fill="#b2767f" clip-path="url(#h20)"/>
<path d="M233.12,140.69 C233.3,142.35 233.85,148.57 234.22,150.65 C234.59,152.72 234.77,152.93 235.32,153.14 C235.87,153.35 236.86,151.89 237.52,151.89 C238.18,151.89 238.73,151.77 239.28,153.14 C239.83,154.51 240.01,158.87 240.82,160.11 C241.63,161.36 242.84,160.53 244.12,160.61 C245.4,160.69 247.24,160.53 248.52,160.61 C249.8,160.69 250.9,160.9 251.82,161.11 C252.74,161.32 253.47,161.52 254.02,161.85 C254.57,162.19 254.94,162.89 255.12,163.1" fill="none" stroke="#7d8fb0" stroke-width="0.5" stroke-opacity="0.8"/>
<path d="M233.12,141.94 C233.3,143.59 233.85,150.03 234.22,151.89 C234.59,153.76 234.77,153.14 235.32,153.14 C235.87,153.14 236.86,151.89 237.52,151.89 C238.18,151.89 238.73,151.48 239.28,153.14 C239.83,154.8 240.38,160.19 240.82,161.85 C241.26,163.51 241.74,162.89 241.92,163.1" fill="none" stroke="#8e4a55" stroke-width="0.5" stroke-opacity="0.8"/>
<rect x="232.52" y="137" width="23.2" height="27" fill="none" stroke="#8c8c8c" stroke-width="0.8"/>
<text x="37.4" y="182.8" font-size="6.5" fill="#c8354b" text-anchor="middle" transform="rotate(-90 37.4 182.8)">599994</text>
<clipPath id="h21"><path d="M42.3,171.75 C42.48,173.2 42.67,178.8 43.4,180.46 C44.13,182.12 45.78,180.46 46.7,181.71 C47.62,182.95 48.17,185.65 48.9,187.93 C49.63,190.21 50.73,194.16 51.1,195.4 L51.1,195.4 L42.3,195.4 Z"/></clipPath>
<path d="M42.3,171.75 C42.48,173.2 42.67,178.8 43.4,180.46 C44.13,182.12 45.78,180.46 46.7,181.71 C47.62,182.95 48.17,185.65 48.9,187.93 C49.63,190.21 50.73,194.16 51.1,195.4 L51.1,195.4 L42.3,195.4 Z" fill="#a9d5f4"/>
<path d="M42.3,192.91 C43.58,193.12 48.24,194.57 50,194.16 C51.76,193.74 52.13,193.95 52.86,190.42 C53.59,186.89 53.89,172.99 54.4,172.99 C54.91,172.99 55.39,186.69 55.94,190.42 C56.49,194.16 57.41,194.57 57.7,195.4 L57.7,195.4 L42.3,195.4 Z" fill="#e8887a"/>
<path d="M42.3,192.91 C43.58,193.12 48.24,194.57 50,194.16 C51.76,193.74 52.13,193.95 52.86,190.42 C53.59,186.89 53.89,172.99 54.4,172.99 C54.91,172.99 55.39,186.69 55.94,190.42 C56.49,194.16 57.41,194.57 57.7,195.4 L57.7,195.4 L42.3,195.4 Z" fill="#b2767f" clip-path="url(#h21)"/>
<path d="M42.3,171.75 C42.48,173.2 42.67,178.8 43.4,180.46 C44.13,182.12 45.78,180.46 46.7,181.71 C47.62,182.95 48.17,185.65 48.9,187.93 C49.63,190.21 50.73,194.16 51.1,195.4" fill="none" stroke="#7d8fb0" stroke-width="0.5" stroke-opacity="0.8"/>
<path d="M42.3,192.91 C43.58,193.12 48.24,194.57 50,194.16 C51.76,193.74 52.13,193.95 52.86,190.42 C53.59,186.89 53.89,172.99 54.4,172.99 C54.91,172.99 55.39,186.69 55.94,190.42 C56.49,194.16 57.41,194.57 57.7,195.4" fill="none" stroke="#8e4a55" stroke-width="0.5" stroke-opacity="0.8"/>
<rect x="41.7" y="169.3" width="23.2" height="27" fill="none" stroke="#8c8c8c" stroke-width="0.8"/>
<clipPath id="h22"><path d="M69.56,174.24 C70.11,176.1 71.76,184.4 72.86,185.44 C73.96,186.48 75.06,182.74 76.16,180.46 C77.26,178.18 78.54,171.33 79.46,171.75 C80.38,172.16 80.93,179.42 81.66,182.95 C82.39,186.48 83.31,190.83 83.86,192.91 C84.41,194.99 84.78,194.99 84.96,195.4 L84.96,195.4 L69.56,195.4 Z"/></clipPath>
<path d="M69.56,174.24 C70.11,176.1 71.76,184.4 72.86,185.44 C73.96,186.48 75.06,182.74 76.16,180.46 C77.26,178.18 78.54,171.33 79.46,171.75 C80.38,172.16 80.93,179.42 81.66,182.95 C82.39,186.48 83.31,190.83 83.86,192.91 C84.41,194.99 84.78,194.99 84.96,195.4 L84.96,195.4 L69.56,195.4 Z" fill="#a9d5f4"/>
<path d="M69.56,174.24 C69.93,175.69 70.66,181.08 71.76,182.95 C72.86,184.82 74.69,184.19 76.16,185.44 C77.63,186.69 79.28,190.84 80.56,190.42 C81.84,190.01 82.94,185.02 83.86,182.95 C84.78,180.88 85.33,177.14 86.06,177.97 C86.79,178.8 87.64,185.03 88.26,187.93 C88.88,190.84 89.54,194.16 89.8,195.4 L89.8,195.4 L69.56,195.4 Z" fill="#e8887a"/>
<path d="M69.56,174.24 C69.93,175.69 70.66,181.08 71.76,182.95 C72.86,184.82 74.69,184.19 76.16,185.44 C77.63,186.69 79.28,190.84 80.56,190.42 C81.84,190.01 82.94,185.02 83.86,182.95 C84.78,180.88 85.33,177.14 86.06,177.97 C86.79,178.8 87.64,185.03 88.26,187.93 C88.88,190.84 89.54,194.16 89.8,195.4 L89.8,195.4 L69.56,195.4 Z" fill="#b2767f" clip-path="url(#h22)"/>
<path d="M69.56,174.24 C70.11,176.1 71.76,184.4 72.86,185.44 C73.96,186.48 75.06,182.74 76.16,180.46 C77.26,178.18 78.54,171.33 79.46,171.75 C80.38,172.16 80.93,179.42 81.66,182.95 C82.39,186.48 83.31,190.83 83.86,192.91 C84.41,194.99 84.78,194.99 84.96,195.4" fill="none" stroke="#7d8fb0" stroke-width="0.5" stroke-opacity="0.8"/>
<path d="M69.56,174.24 C69.93,175.69 70.66,181.08 71.76,182.95 C72.86,184.82 74.69,184.19 76.16,185.44 C77.63,186.69 79.28,190.84 80.56,190.42 C81.84,190.01 82.94,185.02 83.86,182.95 C84.78,180.88 85.33,177.14 86.06,177.97 C86.79,178.8 87.64,185.03 88.26,187.93 C88.88,190.84 89.54,194.16 89.8,195.4" fill="none" stroke="#8e4a55" stroke-width="0.5" stroke-opacity="0.8"/>
<rect x="68.96" y="169.3" width="23.2" height="27" fill="none" stroke="#8c8c8c" stroke-width="0.8"/>
<clipPath id="h23"><path d="M96.82,180.46 C97.37,181.71 98.65,185.86 100.12,187.93 C101.59,190 103.24,191.87 105.62,192.91 C108,193.95 112.4,193.74 114.42,194.16 C116.44,194.57 117.17,195.19 117.72,195.4 L117.72,195.4 L96.82,195.4 Z"/></clipPath>
<path d="M96.82,180.46 C97.37,181.71 98.65,185.86 100.12,187.93 C101.59,190 103.24,191.87 105.62,192.91 C108,193.95 112.4,193.74 114.42,194.16 C116.44,194.57 117.17,195.19 117.72,195.4 L117.72,195.4 L96.82,195.4 Z" fill="#a9d5f4"/>
<path d="M96.82,182.95 C97.55,183.57 100.12,185.85 101.22,186.69 C102.32,187.52 102.5,186.69 103.42,187.93 C104.34,189.18 105.8,192.99 106.72,194.16 C107.64,195.32 108,197.18 108.92,194.9 C109.84,192.62 111.38,184.32 112.22,180.46 C113.06,176.6 113.39,170.92 113.98,171.75 C114.57,172.57 115.19,181.5 115.74,185.44 C116.29,189.38 117.02,193.74 117.28,195.4 L117.28,195.4 L96.82,195.4 Z" fill="#e8887a"/>
<path d="M96.82,182.95 C97.55,183.57 100.12,185.85 101.22,186.69 C102.32,187.52 102.5,186.69 103.42,187.93 C104.34,189.18 105.8,192.99 106.72,194.16 C107.64,195.32 108,197.18 108.92,194.9 C109.84,192.62 111.38,184.32 112.22,180.46 C113.06,176.6 113.39,170.92 113.98,171.75 C114.57,172.57 115.19,181.5 115.74,185.44 C116.29,189.38 117.02,193.74 117.28,195.4 L117.28,195.4 L96.82,195.4 Z" fill="#b2767f" clip-path="url(#h23)"/>
<path d="M96.82,180.46 C97.37,181.71 98.65,185.86 100.12,187.93 C101.59,190 103.24,191.87 105.62,192.91 C108,193.95 112.4,193.74 114.42,194.16 C116.44,194.57 117.17,195.19 117.72,195.4" fill="none" stroke="#7d8fb0" stroke-width="0.5" stroke-opacity="0.8"/>
<path d="M96.82,182.95 C97.55,183.57 100.12,185.85 101.22,186.69 C102.32,187.52 102.5,186.69 103.42,187.93 C104.34,189.18 105.8,192.99 106.72,194.16 C107.64,195.32 108,197.18 108.92,194.9 C109.84,192.62 111.38,184.32 112.22,180.46 C113.06,176.6 113.39,170.92 113.98,171.75 C114.57,172.57 115.19,181.5 115.74,185.44 C116.29,189.38 117.02,193.74 117.28,195.4" fill="none" stroke="#8e4a55" stroke-width="0.5" stroke-opacity="0.8"/>
<rect x="96.22" y="169.3" width="23.2" height="27" fill="none" stroke="#8c8c8c" stroke-width="0.8"/>
<clipPath id="h24"><path d="M124.08,172.99 C124.52,175.48 125.62,184.82 126.72,187.93 C127.82,191.04 128.92,190.63 130.68,191.66 C132.44,192.7 135.08,193.53 137.28,194.16 C139.48,194.78 142.78,195.19 143.88,195.4 L143.88,195.4 L124.08,195.4 Z"/></clipPath>
<path d="M124.08,172.99 C124.52,175.48 125.62,184.82 126.72,187.93 C127.82,191.04 128.92,190.63 130.68,191.66 C132.44,192.7 135.08,193.53 137.28,194.16 C139.48,194.78 142.78,195.19 143.88,195.4 L143.88,195.4 L124.08,195.4 Z" fill="#a9d5f4"/>
<path d="M124.08,180.46 C124.63,181.71 126.1,185.86 127.38,187.93 C128.66,190 130.31,193.74 131.78,192.91 C133.25,192.08 134.97,186.27 136.18,182.95 C137.39,179.63 138.2,172.99 139.04,172.99 C139.88,172.99 140.43,179.21 141.24,182.95 C142.05,186.69 143.44,193.32 143.88,195.4 L143.88,195.4 L124.08,195.4 Z" fill="#e8887a"/>
<path d="M124.08,180.46 C124.63,181.71 126.1,185.86 127.38,187.93 C128.66,190 130.31,193.74 131.78,192.91 C133.25,192.08 134.97,186.27 136.18,182.95 C137.39,179.63 138.2,172.99 139.04,172.99 C139.88,172.99 140.43,179.21 141.24,182.95 C142.05,186.69 143.44,193.32 143.88,195.4 L143.88,195.4 L124.08,195.4 Z" fill="#b2767f" clip-path="url(#h24)"/>
<path d="M124.08,172.99 C124.52,175.48 125.62,184.82 126.72,187.93 C127.82,191.04 128.92,190.63 130.68,191.66 C132.44,192.7 135.08,193.53 137.28,194.16 C139.48,194.78 142.78,195.19 143.88,195.4" fill="none" stroke="#7d8fb0" stroke-width="0.5" stroke-opacity="0.8"/>
<path d="M124.08,180.46 C124.63,181.71 126.1,185.86 127.38,187.93 C128.66,190 130.31,193.74 131.78,192.91 C133.25,192.08 134.97,186.27 136.18,182.95 C137.39,179.63 138.2,172.99 139.04,172.99 C139.88,172.99 140.43,179.21 141.24,182.95 C142.05,186.69 143.44,193.32 143.88,195.4" fill="none" stroke="#8e4a55" stroke-width="0.5" stroke-opacity="0.8"/>
<rect x="123.48" y="169.3" width="23.2" height="27" fill="none" stroke="#8c8c8c" stroke-width="0.8"/>
<clipPath id="h25"><path d="M151.34,174.24 C152.07,176.1 154.2,184.61 155.74,185.44 C157.28,186.27 159.11,178.38 160.58,179.22 C162.05,180.05 163.33,187.72 164.54,190.42 C165.75,193.12 167.29,194.57 167.84,195.4 L167.84,195.4 L151.34,195.4 Z"/></clipPath>
<path d="M151.34,174.24 C152.07,176.1 154.2,184.61 155.74,185.44 C157.28,186.27 159.11,178.38 160.58,179.22 C162.05,180.05 163.33,187.72 164.54,190.42 C165.75,193.12 167.29,194.57 167.84,195.4 L167.84,195.4 L151.34,195.4 Z" fill="#a9d5f4"/>
<path d="M151.34,180.46 C152.44,181.5 156.11,186.27 157.94,186.69 C159.77,187.1 160.95,185.44 162.34,182.95 C163.73,180.46 165.2,171.75 166.3,171.75 C167.4,171.75 168.13,179.01 168.94,182.95 C169.75,186.89 170.77,193.32 171.14,195.4 L171.14,195.4 L151.34,195.4 Z" fill="#e8887a"/>
<path d="M151.34,180.46 C152.44,181.5 156.11,186.27 157.94,186.69 C159.77,187.1 160.95,185.44 162.34,182.95 C163.73,180.46 165.2,171.75 166.3,171.75 C167.4,171.75 168.13,179.01 168.94,182.95 C169.75,186.89 170.77,193.32 171.14,195.4 L171.14,195.4 L151.34,195.4 Z" fill="#b2767f" clip-path="url(#h25)"/>
<path d="M151.34,174.24 C152.07,176.1 154.2,184.61 155.74,185.44 C157.28,186.27 159.11,178.38 160.58,179.22 C162.05,180.05 163.33,187.72 164.54,190.42 C165.75,193.12 167.29,194.57 167.84,195.4" fill="none" stroke="#7d8fb0" stroke-width="0.5" stroke-opacity="0.8"/>
<path d="M151.34,180.46 C152.44,181.5 156.11,186.27 157.94,186.69 C159.77,187.1 160.95,185.44 162.34,182.95 C163.73,180.46 165.2,171.75 166.3,171.75 C167.4,171.75 168.13,179.01 168.94,182.95 C169.75,186.89 170.77,193.32 171.14,195.4" fill="none" stroke="#8e4a55" stroke-width="0.5" stroke-opacity="0.8"/>
<rect x="150.74" y="169.3" width="23.2" height="27" fill="none" stroke="#8c8c8c" stroke-width="0.8"/>
<clipPath id="h26"><path d="M178.6,174.24 C178.97,175.69 180.25,182.33 180.8,182.95 C181.35,183.57 181.35,177.56 181.9,177.97 C182.45,178.38 182.82,182.95 184.1,185.44 C185.38,187.93 188.32,191.25 189.6,192.91 C190.88,194.57 191.43,194.99 191.8,195.4 L191.8,195.4 L178.6,195.4 Z"/></clipPath>
<path d="M178.6,174.24 C178.97,175.69 180.25,182.33 180.8,182.95 C181.35,183.57 181.35,177.56 181.9,177.97 C182.45,178.38 182.82,182.95 184.1,185.44 C185.38,187.93 188.32,191.25 189.6,192.91 C190.88,194.57 191.43,194.99 191.8,195.4 L191.8,195.4 L178.6,195.4 Z" fill="#a9d5f4"/>
<path d="M178.6,179.22 C179.15,180.05 180.8,183.78 181.9,184.19 C183,184.61 184.28,181.08 185.2,181.71 C186.12,182.33 186.48,185.65 187.4,187.93 C188.32,190.21 190.15,194.16 190.7,195.4 L190.7,195.4 L178.6,195.4 Z" fill="#e8887a"/>
<path d="M178.6,179.22 C179.15,180.05 180.8,183.78 181.9,184.19 C183,184.61 184.28,181.08 185.2,181.71 C186.12,182.33 186.48,185.65 187.4,187.93 C188.32,190.21 190.15,194.16 190.7,195.4 L190.7,195.4 L178.6,195.4 Z" fill="#b2767f" clip-path="url(#h26)"/>
<path d="M178.6,174.24 C178.97,175.69 180.25,182.33 180.8,182.95 C181.35,183.57 181.35,177.56 181.9,177.97 C182.45,178.38 182.82,182.95 184.1,185.44 C185.38,187.93 188.32,191.25 189.6,192.91 C190.88,194.57 191.43,194.99 191.8,195.4" fill="none" stroke="#7d8fb0" stroke-width="0.5" stroke-opacity="0.8"/>
<path d="M178.6,179.22 C179.15,180.05 180.8,183.78 181.9,184.19 C183,184.61 184.28,181.08 185.2,181.71 C186.12,182.33 186.48,185.65 187.4,187.93 C188.32,190.21 190.15,194.16 190.7,195.4" fill="none" stroke="#8e4a55" stroke-width="0.5" stroke-opacity="0.8"/>
<rect x="178" y="169.3" width="23.2" height="27" fill="none" stroke="#8c8c8c" stroke-width="0.8"/>
<clipPath id="h27"><path d="M205.86,174.24 C206.23,176.31 207.33,184.61 208.06,186.69 C208.79,188.76 208.98,185.65 210.26,186.69 C211.54,187.72 214.29,191.46 215.76,192.91 C217.23,194.36 218.51,194.99 219.06,195.4 L219.06,195.4 L205.86,195.4 Z"/></clipPath>
<path d="M205.86,174.24 C206.23,176.31 207.33,184.61 208.06,186.69 C208.79,188.76 208.98,185.65 210.26,186.69 C211.54,187.72 214.29,191.46 215.76,192.91 C217.23,194.36 218.51,194.99 219.06,195.4 L219.06,195.4 L205.86,195.4 Z" fill="#a9d5f4"/>
<path d="M205.86,185.44 C206.67,185.03 209.42,182.53 210.7,182.95 C211.98,183.36 212.35,185.86 213.56,187.93 C214.77,190 217.23,194.16 217.96,195.4 L217.96,195.4 L205.86,195.4 Z" fill="#e8887a"/>
<path d="M205.86,185.44 C206.67,185.03 209.42,182.53 210.7,182.95 C211.98,183.36 212.35,185.86 213.56,187.93 C214.77,190 217.23,194.16 217.96,195.4 L217.96,195.4 L205.86,195.4 Z" fill="#b2767f" clip-path="url(#h27)"/>
<path d="M205.86,174.24 C206.23,176.31 207.33,184.61 208.06,186.69 C208.79,188.76 208.98,185.65 210.26,186.69 C211.54,187.72 214.29,191.46 215.76,192.91 C217.23,194.36 218.51,194.99 219.06,195.4" fill="none" stroke="#7d8fb0" stroke-width="0.5" stroke-opacity="0.8"/>
<path d="M205.86,185.44 C206.67,185.03 209.42,182.53 210.7,182.95 C211.98,183.36 212.35,185.86 213.56,187.93 C214.77,190 217.23,194.16 217.96,195.4" fill="none" stroke="#8e4a55" stroke-width="0.5" stroke-opacity="0.8"/>
<rect x="205.26" y="169.3" width="23.2" height="27" fill="none" stroke="#8c8c8c" stroke-width="0.8"/>
<clipPath id="h28"><path d="M233.12,172.99 C233.3,174.24 233.85,178.8 234.22,180.46 C234.59,182.12 234.77,181.7 235.32,182.95 C235.87,184.19 236.42,186.27 237.52,187.93 C238.62,189.59 240.45,192.08 241.92,192.91 C243.39,193.74 244.49,192.83 246.32,192.91 C248.15,192.99 251.45,192.99 252.92,193.41 C254.39,193.82 254.75,195.07 255.12,195.4 L255.12,195.4 L233.12,195.4 Z"/></clipPath>
<path d="M233.12,172.99 C233.3,174.24 233.85,178.8 234.22,180.46 C234.59,182.12 234.77,181.7 235.32,182.95 C235.87,184.19 236.42,186.27 237.52,187.93 C238.62,189.59 240.45,192.08 241.92,192.91 C243.39,193.74 244.49,192.83 246.32,192.91 C248.15,192.99 251.45,192.99 252.92,193.41 C254.39,193.82 254.75,195.07 255.12,195.4 L255.12,195.4 L233.12,195.4 Z" fill="#a9d5f4"/>
<path d="M233.12,180.46 C233.67,181.71 235.14,185.44 236.42,187.93 C237.7,190.42 240.09,194.16 240.82,195.4 L240.82,195.4 L233.12,195.4 Z" fill="#e8887a"/>
<path d="M233.12,180.46 C233.67,181.71 235.14,185.44 236.42,187.93 C237.7,190.42 240.09,194.16 240.82,195.4 L240.82,195.4 L233.12,195.4 Z" fill="#b2767f" clip-path="url(#h28)"/>
<path d="M233.12,172.99 C233.3,174.24 233.85,178.8 234.22,180.46 C234.59,182.12 234.77,181.7 235.32,182.95 C235.87,184.19 236.42,186.27 237.52,187.93 C238.62,189.59 240.45,192.08 241.92,192.91 C243.39,193.74 244.49,192.83 246.32,192.91 C248.15,192.99 251.45,192.99 252.92,193.41 C254.39,193.82 254.75,195.07 255.12,195.4" fill="none" stroke="#7d8fb0" stroke-width="0.5" stroke-opacity="0.8"/>
<path d="M233.12,180.46 C233.67,181.71 235.14,185.44 236.42,187.93 C237.7,190.42 240.09,194.16 240.82,195.4" fill="none" stroke="#8e4a55" stroke-width="0.5" stroke-opacity="0.8"/>
<rect x="232.52" y="169.3" width="23.2" height="27" fill="none" stroke="#8c8c8c" stroke-width="0.8"/>
<text x="24.2" y="222.8" font-size="6.4" fill="#222" transform="rotate(-45 24.2 222.8)">CD3<tspan font-size="5" dy="-2.8">Dim</tspan></text>
<text x="51.49" y="222.8" font-size="6.4" fill="#222" transform="rotate(-45 51.49 222.8)">CD4<tspan font-size="5" dy="-2.8">Dim</tspan></text>
<text x="78.78" y="222.8" font-size="6.4" fill="#222" transform="rotate(-45 78.78 222.8)">CD8<tspan font-size="5" dy="-2.8">Dim</tspan></text>
<text x="106.07" y="222.8" font-size="6.4" fill="#222" transform="rotate(-45 106.07 222.8)">CD28<tspan font-size="5" dy="-2.8">Dim</tspan></text>
<text x="133.36" y="222.8" font-size="6.4" fill="#222" transform="rotate(-45 133.36 222.8)">CD25+</text>
<text x="160.65" y="222.8" font-size="4.6" fill="#222" transform="rotate(-45 160.65 222.8)">γδ–</text>
<text x="187.94" y="222.8" font-size="6.4" fill="#222" transform="rotate(-45 187.94 222.8)">CD16<tspan font-size="5" dy="-2.8">Dim</tspan></text>
<text x="215.23" y="222.8" font-size="6.4" fill="#222" transform="rotate(-45 215.23 222.8)">CD14+</text>
<text x="242.52" y="222.8" font-size="6.4" fill="#222" transform="rotate(-45 242.52 222.8)">HLA-DR+</text>
<text x="12.4" y="238.65" font-size="6.5" fill="#4cb84c" text-anchor="middle" transform="rotate(-90 12.4 238.65)">599993</text>
<clipPath id="h29"><path d="M16.8,233.56 C16.98,234 17.17,237.05 17.9,236.18 C18.63,235.31 20.1,227.01 21.2,228.32 C22.3,229.63 23.58,240.33 24.5,244.04 C25.42,247.75 25.97,250.37 26.7,250.59 C27.43,250.81 28.17,245.22 28.9,245.35 C29.63,245.48 30.55,250.28 31.1,251.38 C31.65,252.47 32.02,251.81 32.2,251.9 L32.2,251.9 L16.8,251.9 Z"/></clipPath>
<path d="M16.8,233.56 C16.98,234 17.17,237.05 17.9,236.18 C18.63,235.31 20.1,227.01 21.2,228.32 C22.3,229.63 23.58,240.33 24.5,244.04 C25.42,247.75 25.97,250.37 26.7,250.59 C27.43,250.81 28.17,245.22 28.9,245.35 C29.63,245.48 30.55,250.28 31.1,251.38 C31.65,252.47 32.02,251.81 32.2,251.9 L32.2,251.9 L16.8,251.9 Z" fill="#a9d5f4"/>
<path d="M16.8,236.18 C17.17,235.74 18.27,235.09 19,233.56 C19.73,232.03 20.28,225.26 21.2,227.01 C22.12,228.76 23.58,240.11 24.5,244.04 C25.42,247.97 25.97,250.15 26.7,250.59 C27.43,251.03 28.17,246.44 28.9,246.66 C29.63,246.88 30.73,251.03 31.1,251.9 L31.1,251.9 L16.8,251.9 Z" fill="#e8887a"/>
<path d="M16.8,236.18 C17.17,235.74 18.27,235.09 19,233.56 C19.73,232.03 20.28,225.26 21.2,227.01 C22.12,228.76 23.58,240.11 24.5,244.04 C25.42,247.97 25.97,250.15 26.7,250.59 C27.43,251.03 28.17,246.44 28.9,246.66 C29.63,246.88 30.73,251.03 31.1,251.9 L31.1,251.9 L16.8,251.9 Z" fill="#b2767f" clip-path="url(#h29)"/>
<path d="M16.8,233.56 C16.98,234 17.17,237.05 17.9,236.18 C18.63,235.31 20.1,227.01 21.2,228.32 C22.3,229.63 23.58,240.33 24.5,244.04 C25.42,247.75 25.97,250.37 26.7,250.59 C27.43,250.81 28.17,245.22 28.9,245.35 C29.63,245.48 30.55,250.28 31.1,251.38 C31.65,252.47 32.02,251.81 32.2,251.9" fill="none" stroke="#7d8fb0" stroke-width="0.5" stroke-opacity="0.8"/>
<path d="M16.8,236.18 C17.17,235.74 18.27,235.09 19,233.56 C19.73,232.03 20.28,225.26 21.2,227.01 C22.12,228.76 23.58,240.11 24.5,244.04 C25.42,247.97 25.97,250.15 26.7,250.59 C27.43,251.03 28.17,246.44 28.9,246.66 C29.63,246.88 30.73,251.03 31.1,251.9" fill="none" stroke="#8e4a55" stroke-width="0.5" stroke-opacity="0.8"/>
<rect x="16.2" y="224.5" width="23.2" height="28.3" fill="none" stroke="#8c8c8c" stroke-width="0.8"/>
<clipPath id="h30"><path d="M44.09,228.32 C44.27,230.07 44.82,236.62 45.19,238.8 C45.56,240.98 45.37,242.29 46.29,241.42 C47.21,240.55 49.3,235.96 50.69,233.56 C52.08,231.16 53.18,226.14 54.65,227.01 C56.12,227.88 57.95,234.65 59.49,238.8 C61.03,242.95 63.16,249.72 63.89,251.9 L63.89,251.9 L44.09,251.9 Z"/></clipPath>
<path d="M44.09,228.32 C44.27,230.07 44.82,236.62 45.19,238.8 C45.56,240.98 45.37,242.29 46.29,241.42 C47.21,240.55 49.3,235.96 50.69,233.56 C52.08,231.16 53.18,226.14 54.65,227.01 C56.12,227.88 57.95,234.65 59.49,238.8 C61.03,242.95 63.16,249.72 63.89,251.9 L63.89,251.9 L44.09,251.9 Z" fill="#a9d5f4"/>
<path d="M44.09,244.04 C44.64,243.6 46.29,243.17 47.39,241.42 C48.49,239.67 49.48,235.96 50.69,233.56 C51.9,231.16 53.18,226.14 54.65,227.01 C56.12,227.88 57.95,234.65 59.49,238.8 C61.03,242.95 63.16,249.72 63.89,251.9 L63.89,251.9 L44.09,251.9 Z" fill="#e8887a"/>
<path d="M44.09,244.04 C44.64,243.6 46.29,243.17 47.39,241.42 C48.49,239.67 49.48,235.96 50.69,233.56 C51.9,231.16 53.18,226.14 54.65,227.01 C56.12,227.88 57.95,234.65 59.49,238.8 C61.03,242.95 63.16,249.72 63.89,251.9 L63.89,251.9 L44.09,251.9 Z" fill="#b2767f" clip-path="url(#h30)"/>
<path d="M44.09,228.32 C44.27,230.07 44.82,236.62 45.19,238.8 C45.56,240.98 45.37,242.29 46.29,241.42 C47.21,240.55 49.3,235.96 50.69,233.56 C52.08,231.16 53.18,226.14 54.65,227.01 C56.12,227.88 57.95,234.65 59.49,238.8 C61.03,242.95 63.16,249.72 63.89,251.9" fill="none" stroke="#7d8fb0" stroke-width="0.5" stroke-opacity="0.8"/>
<path d="M44.09,244.04 C44.64,243.6 46.29,243.17 47.39,241.42 C48.49,239.67 49.48,235.96 50.69,233.56 C51.9,231.16 53.18,226.14 54.65,227.01 C56.12,227.88 57.95,234.65 59.49,238.8 C61.03,242.95 63.16,249.72 63.89,251.9" fill="none" stroke="#8e4a55" stroke-width="0.5" stroke-opacity="0.8"/>
<rect x="43.49" y="224.5" width="23.2" height="28.3" fill="none" stroke="#8c8c8c" stroke-width="0.8"/>
<clipPath id="h31"><path d="M71.38,230.94 C71.75,233.12 72.48,241.2 73.58,244.04 C74.68,246.88 76.51,246.88 77.98,247.97 C79.45,249.06 80.73,250.15 82.38,250.59 C84.03,251.03 86.41,250.37 87.88,250.59 C89.35,250.81 90.63,251.68 91.18,251.9 L91.18,251.9 L71.38,251.9 Z"/></clipPath>
<path d="M71.38,230.94 C71.75,233.12 72.48,241.2 73.58,244.04 C74.68,246.88 76.51,246.88 77.98,247.97 C79.45,249.06 80.73,250.15 82.38,250.59 C84.03,251.03 86.41,250.37 87.88,250.59 C89.35,250.81 90.63,251.68 91.18,251.9 L91.18,251.9 L71.38,251.9 Z" fill="#a9d5f4"/>
<path d="M71.38,244.04 C71.93,243.82 73.58,242.29 74.68,242.73 C75.78,243.17 76.7,245.35 77.98,246.66 C79.26,247.97 80.73,250.07 82.38,250.59 C84.03,251.11 86.41,249.59 87.88,249.8 C89.35,250.02 90.63,251.55 91.18,251.9 L91.18,251.9 L71.38,251.9 Z" fill="#e8887a"/>
<path d="M71.38,244.04 C71.93,243.82 73.58,242.29 74.68,242.73 C75.78,243.17 76.7,245.35 77.98,246.66 C79.26,247.97 80.73,250.07 82.38,250.59 C84.03,251.11 86.41,249.59 87.88,249.8 C89.35,250.02 90.63,251.55 91.18,251.9 L91.18,251.9 L71.38,251.9 Z" fill="#b2767f" clip-path="url(#h31)"/>
<path d="M71.38,230.94 C71.75,233.12 72.48,241.2 73.58,244.04 C74.68,246.88 76.51,246.88 77.98,247.97 C79.45,249.06 80.73,250.15 82.38,250.59 C84.03,251.03 86.41,250.37 87.88,250.59 C89.35,250.81 90.63,251.68 91.18,251.9" fill="none" stroke="#7d8fb0" stroke-width="0.5" stroke-opacity="0.8"/>
<path d="M71.38,244.04 C71.93,243.82 73.58,242.29 74.68,242.73 C75.78,243.17 76.7,245.35 77.98,246.66 C79.26,247.97 80.73,250.07 82.38,250.59 C84.03,251.11 86.41,249.59 87.88,249.8 C89.35,250.02 90.63,251.55 91.18,251.9" fill="none" stroke="#8e4a55" stroke-width="0.5" stroke-opacity="0.8"/>
<rect x="70.78" y="224.5" width="23.2" height="28.3" fill="none" stroke="#8c8c8c" stroke-width="0.8"/>
<clipPath id="h32"><path d="M98.67,229.63 C99.04,231.59 100.14,239.24 100.87,241.42 C101.6,243.6 101.79,241.42 103.07,242.73 C104.35,244.04 107.1,248.19 108.57,249.28 C110.04,250.37 110.22,248.84 111.87,249.28 C113.52,249.72 117.37,251.46 118.47,251.9 L118.47,251.9 L98.67,251.9 Z"/></clipPath>
<path d="M98.67,229.63 C99.04,231.59 100.14,239.24 100.87,241.42 C101.6,243.6 101.79,241.42 103.07,242.73 C104.35,244.04 107.1,248.19 108.57,249.28 C110.04,250.37 110.22,248.84 111.87,249.28 C113.52,249.72 117.37,251.46 118.47,251.9 L118.47,251.9 L98.67,251.9 Z" fill="#a9d5f4"/>
<path d="M98.67,244.04 C99.04,243.38 100.14,240.98 100.87,240.11 C101.6,239.24 101.97,237.27 103.07,238.8 C104.17,240.33 106,247.31 107.47,249.28 C108.94,251.25 110.4,250.15 111.87,250.59 C113.34,251.03 115.54,251.68 116.27,251.9 L116.27,251.9 L98.67,251.9 Z" fill="#e8887a"/>
<path d="M98.67,244.04 C99.04,243.38 100.14,240.98 100.87,240.11 C101.6,239.24 101.97,237.27 103.07,238.8 C104.17,240.33 106,247.31 107.47,249.28 C108.94,251.25 110.4,250.15 111.87,250.59 C113.34,251.03 115.54,251.68 116.27,251.9 L116.27,251.9 L98.67,251.9 Z" fill="#b2767f" clip-path="url(#h32)"/>
<path d="M98.67,229.63 C99.04,231.59 100.14,239.24 100.87,241.42 C101.6,243.6 101.79,241.42 103.07,242.73 C104.35,244.04 107.1,248.19 108.57,249.28 C110.04,250.37 110.22,248.84 111.87,249.28 C113.52,249.72 117.37,251.46 118.47,251.9" fill="none" stroke="#7d8fb0" stroke-width="0.5" stroke-opacity="0.8"/>
<path d="M98.67,244.04 C99.04,243.38 100.14,240.98 100.87,240.11 C101.6,239.24 101.97,237.27 103.07,238.8 C104.17,240.33 106,247.31 107.47,249.28 C108.94,251.25 110.4,250.15 111.87,250.59 C113.34,251.03 115.54,251.68 116.27,251.9" fill="none" stroke="#8e4a55" stroke-width="0.5" stroke-opacity="0.8"/>
<rect x="98.07" y="224.5" width="23.2" height="28.3" fill="none" stroke="#8c8c8c" stroke-width="0.8"/>
<clipPath id="h33"><path d="M125.96,236.18 C126.51,235.74 128.16,234.87 129.26,233.56 C130.36,232.25 131.46,228.76 132.56,228.32 C133.66,227.88 134.58,228.76 135.86,230.94 C137.14,233.12 138.79,238.36 140.26,241.42 C141.73,244.48 143.38,247.53 144.66,249.28 C145.94,251.03 147.41,251.46 147.96,251.9 L147.96,251.9 L125.96,251.9 Z"/></clipPath>
<path d="M125.96,236.18 C126.51,235.74 128.16,234.87 129.26,233.56 C130.36,232.25 131.46,228.76 132.56,228.32 C133.66,227.88 134.58,228.76 135.86,230.94 C137.14,233.12 138.79,238.36 140.26,241.42 C141.73,244.48 143.38,247.53 144.66,249.28 C145.94,251.03 147.41,251.46 147.96,251.9 L147.96,251.9 L125.96,251.9 Z" fill="#a9d5f4"/>
<path d="M125.96,236.18 C126.51,235.53 128.16,233.78 129.26,232.25 C130.36,230.72 131.46,227.23 132.56,227.01 C133.66,226.79 134.58,228.54 135.86,230.94 C137.14,233.34 138.79,238.36 140.26,241.42 C141.73,244.48 143.38,247.53 144.66,249.28 C145.94,251.03 147.41,251.46 147.96,251.9 L147.96,251.9 L125.96,251.9 Z" fill="#e8887a"/>
<path d="M125.96,236.18 C126.51,235.53 128.16,233.78 129.26,232.25 C130.36,230.72 131.46,227.23 132.56,227.01 C133.66,226.79 134.58,228.54 135.86,230.94 C137.14,233.34 138.79,238.36 140.26,241.42 C141.73,244.48 143.38,247.53 144.66,249.28 C145.94,251.03 147.41,251.46 147.96,251.9 L147.96,251.9 L125.96,251.9 Z" fill="#b2767f" clip-path="url(#h33)"/>
<path d="M125.96,236.18 C126.51,235.74 128.16,234.87 129.26,233.56 C130.36,232.25 131.46,228.76 132.56,228.32 C133.66,227.88 134.58,228.76 135.86,230.94 C137.14,233.12 138.79,238.36 140.26,241.42 C141.73,244.48 143.38,247.53 144.66,249.28 C145.94,251.03 147.41,251.46 147.96,251.9" fill="none" stroke="#7d8fb0" stroke-width="0.5" stroke-opacity="0.8"/>
<path d="M125.96,236.18 C126.51,235.53 128.16,233.78 129.26,232.25 C130.36,230.72 131.46,227.23 132.56,227.01 C133.66,226.79 134.58,228.54 135.86,230.94 C137.14,233.34 138.79,238.36 140.26,241.42 C141.73,244.48 143.38,247.53 144.66,249.28 C145.94,251.03 147.41,251.46 147.96,251.9" fill="none" stroke="#8e4a55" stroke-width="0.5" stroke-opacity="0.8"/>
<rect x="125.36" y="224.5" width="23.2" height="28.3" fill="none" stroke="#8c8c8c" stroke-width="0.8"/>
<clipPath id="h34"><path d="M153.25,236.18 C153.43,234.87 153.91,228.32 154.35,228.32 C154.79,228.32 155.34,236.18 155.89,236.18 C156.44,236.18 156.99,227.45 157.65,228.32 C158.31,229.19 158.93,237.71 159.85,241.42 C160.77,245.13 161.68,248.84 163.15,250.59 C164.62,252.34 167.73,251.68 168.65,251.9 L168.65,251.9 L153.25,251.9 Z"/></clipPath>
<path d="M153.25,236.18 C153.43,234.87 153.91,228.32 154.35,228.32 C154.79,228.32 155.34,236.18 155.89,236.18 C156.44,236.18 156.99,227.45 157.65,228.32 C158.31,229.19 158.93,237.71 159.85,241.42 C160.77,245.13 161.68,248.84 163.15,250.59 C164.62,252.34 167.73,251.68 168.65,251.9 L168.65,251.9 L153.25,251.9 Z" fill="#a9d5f4"/>
<path d="M153.25,236.18 C153.43,234.87 153.91,228.32 154.35,228.32 C154.79,228.32 155.34,236.18 155.89,236.18 C156.44,236.18 156.99,227.45 157.65,228.32 C158.31,229.19 158.93,237.71 159.85,241.42 C160.77,245.13 161.68,248.84 163.15,250.59 C164.62,252.34 167.73,251.68 168.65,251.9 L168.65,251.9 L153.25,251.9 Z" fill="#e8887a"/>
<path d="M153.25,236.18 C153.43,234.87 153.91,228.32 154.35,228.32 C154.79,228.32 155.34,236.18 155.89,236.18 C156.44,236.18 156.99,227.45 157.65,228.32 C158.31,229.19 158.93,237.71 159.85,241.42 C160.77,245.13 161.68,248.84 163.15,250.59 C164.62,252.34 167.73,251.68 168.65,251.9 L168.65,251.9 L153.25,251.9 Z" fill="#b2767f" clip-path="url(#h34)"/>
<path d="M153.25,236.18 C153.43,234.87 153.91,228.32 154.35,228.32 C154.79,228.32 155.34,236.18 155.89,236.18 C156.44,236.18 156.99,227.45 157.65,228.32 C158.31,229.19 158.93,237.71 159.85,241.42 C160.77,245.13 161.68,248.84 163.15,250.59 C164.62,252.34 167.73,251.68 168.65,251.9" fill="none" stroke="#7d8fb0" stroke-width="0.5" stroke-opacity="0.8"/>
<path d="M153.25,236.18 C153.43,234.87 153.91,228.32 154.35,228.32 C154.79,228.32 155.34,236.18 155.89,236.18 C156.44,236.18 156.99,227.45 157.65,228.32 C158.31,229.19 158.93,237.71 159.85,241.42 C160.77,245.13 161.68,248.84 163.15,250.59 C164.62,252.34 167.73,251.68 168.65,251.9" fill="none" stroke="#8e4a55" stroke-width="0.5" stroke-opacity="0.8"/>
<rect x="152.65" y="224.5" width="23.2" height="28.3" fill="none" stroke="#8c8c8c" stroke-width="0.8"/>
<clipPath id="h35"><path d="M180.54,230.94 C180.91,232.69 181.46,238.36 182.74,241.42 C184.02,244.48 186.41,247.75 188.24,249.28 C190.07,250.81 191.72,250.37 193.74,250.59 C195.76,250.81 198.87,250.37 200.34,250.59 C201.81,250.81 202.17,251.68 202.54,251.9 L202.54,251.9 L180.54,251.9 Z"/></clipPath>
<path d="M180.54,230.94 C180.91,232.69 181.46,238.36 182.74,241.42 C184.02,244.48 186.41,247.75 188.24,249.28 C190.07,250.81 191.72,250.37 193.74,250.59 C195.76,250.81 198.87,250.37 200.34,250.59 C201.81,250.81 202.17,251.68 202.54,251.9 L202.54,251.9 L180.54,251.9 Z" fill="#a9d5f4"/>
<path d="M180.54,244.04 C180.72,243.38 181.09,241.2 181.64,240.11 C182.19,239.02 182.92,235.96 183.84,237.49 C184.76,239.02 186.22,246.88 187.14,249.28 C188.06,251.68 188.97,251.46 189.34,251.9 L189.34,251.9 L180.54,251.9 Z" fill="#e8887a"/>
<path d="M180.54,244.04 C180.72,243.38 181.09,241.2 181.64,240.11 C182.19,239.02 182.92,235.96 183.84,237.49 C184.76,239.02 186.22,246.88 187.14,249.28 C188.06,251.68 188.97,251.46 189.34,251.9 L189.34,251.9 L180.54,251.9 Z" fill="#b2767f" clip-path="url(#h35)"/>
<path d="M180.54,230.94 C180.91,232.69 181.46,238.36 182.74,241.42 C184.02,244.48 186.41,247.75 188.24,249.28 C190.07,250.81 191.72,250.37 193.74,250.59 C195.76,250.81 198.87,250.37 200.34,250.59 C201.81,250.81 202.17,251.68 202.54,251.9" fill="none" stroke="#7d8fb0" stroke-width="0.5" stroke-opacity="0.8"/>
<path d="M180.54,244.04 C180.72,243.38 181.09,241.2 181.64,240.11 C182.19,239.02 182.92,235.96 183.84,237.49 C184.76,239.02 186.22,246.88 187.14,249.28 C188.06,251.68 188.97,251.46 189.34,251.9" fill="none" stroke="#8e4a55" stroke-width="0.5" stroke-opacity="0.8"/>
<rect x="179.94" y="224.5" width="23.2" height="28.3" fill="none" stroke="#8c8c8c" stroke-width="0.8"/>
<clipPath id="h36"><path d="M207.83,228.32 C208.2,230.07 209.3,237.93 210.03,238.8 C210.76,239.67 211.31,233.34 212.23,233.56 C213.15,233.78 214.43,238.14 215.53,240.11 C216.63,242.07 217.18,243.6 218.83,245.35 C220.48,247.1 223.78,249.5 225.43,250.59 C227.08,251.68 228.18,251.68 228.73,251.9 L228.73,251.9 L207.83,251.9 Z"/></clipPath>
<path d="M207.83,228.32 C208.2,230.07 209.3,237.93 210.03,238.8 C210.76,239.67 211.31,233.34 212.23,233.56 C213.15,233.78 214.43,238.14 215.53,240.11 C216.63,242.07 217.18,243.6 218.83,245.35 C220.48,247.1 223.78,249.5 225.43,250.59 C227.08,251.68 228.18,251.68 228.73,251.9 L228.73,251.9 L207.83,251.9 Z" fill="#a9d5f4"/>
<path d="M207.83,228.32 C208.2,230.07 209.3,238.15 210.03,238.8 C210.76,239.46 211.31,232.25 212.23,232.25 C213.15,232.25 214.43,236.84 215.53,238.8 C216.63,240.77 217.18,242.07 218.83,244.04 C220.48,246 223.78,249.28 225.43,250.59 C227.08,251.9 228.18,251.68 228.73,251.9 L228.73,251.9 L207.83,251.9 Z" fill="#e8887a"/>
<path d="M207.83,228.32 C208.2,230.07 209.3,238.15 210.03,238.8 C210.76,239.46 211.31,232.25 212.23,232.25 C213.15,232.25 214.43,236.84 215.53,238.8 C216.63,240.77 217.18,242.07 218.83,244.04 C220.48,246 223.78,249.28 225.43,250.59 C227.08,251.9 228.18,251.68 228.73,251.9 L228.73,251.9 L207.83,251.9 Z" fill="#b2767f" clip-path="url(#h36)"/>
<path d="M207.83,228.32 C208.2,230.07 209.3,237.93 210.03,238.8 C210.76,239.67 211.31,233.34 212.23,233.56 C213.15,233.78 214.43,238.14 215.53,240.11 C216.63,242.07 217.18,243.6 218.83,245.35 C220.48,247.1 223.78,249.5 225.43,250.59 C227.08,251.68 228.18,251.68 228.73,251.9" fill="none" stroke="#7d8fb0" stroke-width="0.5" stroke-opacity="0.8"/>
<path d="M207.83,228.32 C208.2,230.07 209.3,238.15 210.03,238.8 C210.76,239.46 211.31,232.25 212.23,232.25 C213.15,232.25 214.43,236.84 215.53,238.8 C216.63,240.77 217.18,242.07 218.83,244.04 C220.48,246 223.78,249.28 225.43,250.59 C227.08,251.9 228.18,251.68 228.73,251.9" fill="none" stroke="#8e4a55" stroke-width="0.5" stroke-opacity="0.8"/>
<rect x="207.23" y="224.5" width="23.2" height="28.3" fill="none" stroke="#8c8c8c" stroke-width="0.8"/>
<clipPath id="h37"><path d="M235.12,236.18 C235.49,237.49 236.22,243.6 237.32,244.04 C238.42,244.48 240.44,240.55 241.72,238.8 C243,237.05 244.1,235.53 245.02,233.56 C245.94,231.59 246.3,225.7 247.22,227.01 C248.14,228.32 249.42,237.27 250.52,241.42 C251.62,245.57 253.27,250.15 253.82,251.9 L253.82,251.9 L235.12,251.9 Z"/></clipPath>
<path d="M235.12,236.18 C235.49,237.49 236.22,243.6 237.32,244.04 C238.42,244.48 240.44,240.55 241.72,238.8 C243,237.05 244.1,235.53 245.02,233.56 C245.94,231.59 246.3,225.7 247.22,227.01 C248.14,228.32 249.42,237.27 250.52,241.42 C251.62,245.57 253.27,250.15 253.82,251.9 L253.82,251.9 L235.12,251.9 Z" fill="#a9d5f4"/>
<path d="M235.12,249.28 C235.49,249.5 236.4,251.03 237.32,250.59 C238.24,250.15 239.52,248.62 240.62,246.66 C241.72,244.69 242.82,241.2 243.92,238.8 C245.02,236.4 245.94,234.22 247.22,232.25 C248.5,230.28 250.52,225.04 251.62,227.01 C252.72,228.97 253.27,239.89 253.82,244.04 C254.37,248.19 254.74,250.59 254.92,251.9 L254.92,251.9 L235.12,251.9 Z" fill="#e8887a"/>
<path d="M235.12,249.28 C235.49,249.5 236.4,251.03 237.32,250.59 C238.24,250.15 239.52,248.62 240.62,246.66 C241.72,244.69 242.82,241.2 243.92,238.8 C245.02,236.4 245.94,234.22 247.22,232.25 C248.5,230.28 250.52,225.04 251.62,227.01 C252.72,228.97 253.27,239.89 253.82,244.04 C254.37,248.19 254.74,250.59 254.92,251.9 L254.92,251.9 L235.12,251.9 Z" fill="#b2767f" clip-path="url(#h37)"/>
<path d="M235.12,236.18 C235.49,237.49 236.22,243.6 237.32,244.04 C238.42,244.48 240.44,240.55 241.72,238.8 C243,237.05 244.1,235.53 245.02,233.56 C245.94,231.59 246.3,225.7 247.22,227.01 C248.14,228.32 249.42,237.27 250.52,241.42 C251.62,245.57 253.27,250.15 253.82,251.9" fill="none" stroke="#7d8fb0" stroke-width="0.5" stroke-opacity="0.8"/>
<path d="M235.12,249.28 C235.49,249.5 236.4,251.03 237.32,250.59 C238.24,250.15 239.52,248.62 240.62,246.66 C241.72,244.69 242.82,241.2 243.92,238.8 C245.02,236.4 245.94,234.22 247.22,232.25 C248.5,230.28 250.52,225.04 251.62,227.01 C252.72,228.97 253.27,239.89 253.82,244.04 C254.37,248.19 254.74,250.59 254.92,251.9" fill="none" stroke="#8e4a55" stroke-width="0.5" stroke-opacity="0.8"/>
<rect x="234.52" y="224.5" width="23.2" height="28.3" fill="none" stroke="#8c8c8c" stroke-width="0.8"/>
<text x="12.4" y="271.15" font-size="6.5" fill="#4cb84c" text-anchor="middle" transform="rotate(-90 12.4 271.15)">599996</text>
<clipPath id="h38"><path d="M16.8,263.44 C16.98,264.31 17.17,269.34 17.9,268.68 C18.63,268.02 20.28,258.64 21.2,259.51 C22.12,260.38 22.67,269.99 23.4,273.92 C24.13,277.85 24.79,282.44 25.6,283.09 C26.41,283.75 27.51,277.72 28.24,277.85 C28.97,277.98 29.52,282.78 30,283.88 C30.48,284.97 30.92,284.31 31.1,284.4 L31.1,284.4 L16.8,284.4 Z"/></clipPath>
<path d="M16.8,263.44 C16.98,264.31 17.17,269.34 17.9,268.68 C18.63,268.02 20.28,258.64 21.2,259.51 C22.12,260.38 22.67,269.99 23.4,273.92 C24.13,277.85 24.79,282.44 25.6,283.09 C26.41,283.75 27.51,277.72 28.24,277.85 C28.97,277.98 29.52,282.78 30,283.88 C30.48,284.97 30.92,284.31 31.1,284.4 L31.1,284.4 L16.8,284.4 Z" fill="#a9d5f4"/>
<path d="M16.8,268.68 C17.17,268.24 18.27,267.59 19,266.06 C19.73,264.53 20.47,258.2 21.2,259.51 C21.93,260.82 22.67,269.99 23.4,273.92 C24.13,277.85 24.79,282 25.6,283.09 C26.41,284.18 27.51,280.25 28.24,280.47 C28.97,280.69 29.71,283.75 30,284.4 L30,284.4 L16.8,284.4 Z" fill="#e8887a"/>
<path d="M16.8,268.68 C17.17,268.24 18.27,267.59 19,266.06 C19.73,264.53 20.47,258.2 21.2,259.51 C21.93,260.82 22.67,269.99 23.4,273.92 C24.13,277.85 24.79,282 25.6,283.09 C26.41,284.18 27.51,280.25 28.24,280.47 C28.97,280.69 29.71,283.75 30,284.4 L30,284.4 L16.8,284.4 Z" fill="#b2767f" clip-path="url(#h38)"/>
<path d="M16.8,263.44 C16.98,264.31 17.17,269.34 17.9,268.68 C18.63,268.02 20.28,258.64 21.2,259.51 C22.12,260.38 22.67,269.99 23.4,273.92 C24.13,277.85 24.79,282.44 25.6,283.09 C26.41,283.75 27.51,277.72 28.24,277.85 C28.97,277.98 29.52,282.78 30,283.88 C30.48,284.97 30.92,284.31 31.1,284.4" fill="none" stroke="#7d8fb0" stroke-width="0.5" stroke-opacity="0.8"/>
<path d="M16.8,268.68 C17.17,268.24 18.27,267.59 19,266.06 C19.73,264.53 20.47,258.2 21.2,259.51 C21.93,260.82 22.67,269.99 23.4,273.92 C24.13,277.85 24.79,282 25.6,283.09 C26.41,284.18 27.51,280.25 28.24,280.47 C28.97,280.69 29.71,283.75 30,284.4" fill="none" stroke="#8e4a55" stroke-width="0.5" stroke-opacity="0.8"/>
<rect x="16.2" y="257" width="23.2" height="28.3" fill="none" stroke="#8c8c8c" stroke-width="0.8"/>
<clipPath id="h39"><path d="M44.09,275.23 C44.82,274.14 46.84,271.3 48.49,268.68 C50.14,266.06 52.34,259.51 53.99,259.51 C55.64,259.51 56.74,264.53 58.39,268.68 C60.04,272.83 62.97,281.78 63.89,284.4 L63.89,284.4 L44.09,284.4 Z"/></clipPath>
<path d="M44.09,275.23 C44.82,274.14 46.84,271.3 48.49,268.68 C50.14,266.06 52.34,259.51 53.99,259.51 C55.64,259.51 56.74,264.53 58.39,268.68 C60.04,272.83 62.97,281.78 63.89,284.4 L63.89,284.4 L44.09,284.4 Z" fill="#a9d5f4"/>
<path d="M44.09,275.23 C44.82,274.14 46.84,271.3 48.49,268.68 C50.14,266.06 52.34,259.51 53.99,259.51 C55.64,259.51 56.74,264.53 58.39,268.68 C60.04,272.83 62.97,281.78 63.89,284.4 L63.89,284.4 L44.09,284.4 Z" fill="#e8887a"/>
<path d="M44.09,275.23 C44.82,274.14 46.84,271.3 48.49,268.68 C50.14,266.06 52.34,259.51 53.99,259.51 C55.64,259.51 56.74,264.53 58.39,268.68 C60.04,272.83 62.97,281.78 63.89,284.4 L63.89,284.4 L44.09,284.4 Z" fill="#b2767f" clip-path="url(#h39)"/>
<path d="M44.09,275.23 C44.82,274.14 46.84,271.3 48.49,268.68 C50.14,266.06 52.34,259.51 53.99,259.51 C55.64,259.51 56.74,264.53 58.39,268.68 C60.04,272.83 62.97,281.78 63.89,284.4" fill="none" stroke="#7d8fb0" stroke-width="0.5" stroke-opacity="0.8"/>
<path d="M44.09,275.23 C44.82,274.14 46.84,271.3 48.49,268.68 C50.14,266.06 52.34,259.51 53.99,259.51 C55.64,259.51 56.74,264.53 58.39,268.68 C60.04,272.83 62.97,281.78 63.89,284.4" fill="none" stroke="#8e4a55" stroke-width="0.5" stroke-opacity="0.8"/>
<rect x="43.49" y="257" width="23.2" height="28.3" fill="none" stroke="#8c8c8c" stroke-width="0.8"/>
<clipPath id="h40"><path d="M71.38,262.13 C71.75,264.53 72.11,273.26 73.58,276.54 C75.05,279.82 77.8,280.69 80.18,281.78 C82.56,282.87 86.05,282.65 87.88,283.09 C89.71,283.53 90.63,284.18 91.18,284.4 L91.18,284.4 L71.38,284.4 Z"/></clipPath>
<path d="M71.38,262.13 C71.75,264.53 72.11,273.26 73.58,276.54 C75.05,279.82 77.8,280.69 80.18,281.78 C82.56,282.87 86.05,282.65 87.88,283.09 C89.71,283.53 90.63,284.18 91.18,284.4 L91.18,284.4 L71.38,284.4 Z" fill="#a9d5f4"/>
<path d="M71.38,279.16 C71.56,278.72 71.82,277.41 72.48,276.54 C73.14,275.67 74.24,273.05 75.34,273.92 C76.44,274.79 77.54,280.12 79.08,281.78 C80.62,283.44 83.11,283.79 84.58,283.88 C86.05,283.96 86.96,282.22 87.88,282.3 C88.8,282.39 89.71,284.05 90.08,284.4 L90.08,284.4 L71.38,284.4 Z" fill="#e8887a"/>
<path d="M71.38,279.16 C71.56,278.72 71.82,277.41 72.48,276.54 C73.14,275.67 74.24,273.05 75.34,273.92 C76.44,274.79 77.54,280.12 79.08,281.78 C80.62,283.44 83.11,283.79 84.58,283.88 C86.05,283.96 86.96,282.22 87.88,282.3 C88.8,282.39 89.71,284.05 90.08,284.4 L90.08,284.4 L71.38,284.4 Z" fill="#b2767f" clip-path="url(#h40)"/>
<path d="M71.38,262.13 C71.75,264.53 72.11,273.26 73.58,276.54 C75.05,279.82 77.8,280.69 80.18,281.78 C82.56,282.87 86.05,282.65 87.88,283.09 C89.71,283.53 90.63,284.18 91.18,284.4" fill="none" stroke="#7d8fb0" stroke-width="0.5" stroke-opacity="0.8"/>
<path d="M71.38,279.16 C71.56,278.72 71.82,277.41 72.48,276.54 C73.14,275.67 74.24,273.05 75.34,273.92 C76.44,274.79 77.54,280.12 79.08,281.78 C80.62,283.44 83.11,283.79 84.58,283.88 C86.05,283.96 86.96,282.22 87.88,282.3 C88.8,282.39 89.71,284.05 90.08,284.4" fill="none" stroke="#8e4a55" stroke-width="0.5" stroke-opacity="0.8"/>
<rect x="70.78" y="257" width="23.2" height="28.3" fill="none" stroke="#8c8c8c" stroke-width="0.8"/>
<clipPath id="h41"><path d="M98.67,260.82 C99.04,263.44 100.14,273.92 100.87,276.54 C101.6,279.16 101.79,275.45 103.07,276.54 C104.35,277.63 107.1,282.13 108.57,283.09 C110.04,284.05 110.59,282.17 111.87,282.3 C113.15,282.44 115.17,283.53 116.27,283.88 C117.37,284.23 118.1,284.31 118.47,284.4 L118.47,284.4 L98.67,284.4 Z"/></clipPath>
<path d="M98.67,260.82 C99.04,263.44 100.14,273.92 100.87,276.54 C101.6,279.16 101.79,275.45 103.07,276.54 C104.35,277.63 107.1,282.13 108.57,283.09 C110.04,284.05 110.59,282.17 111.87,282.3 C113.15,282.44 115.17,283.53 116.27,283.88 C117.37,284.23 118.1,284.31 118.47,284.4 L118.47,284.4 L98.67,284.4 Z" fill="#a9d5f4"/>
<path d="M98.67,279.16 C99.04,278.94 100.14,278.29 100.87,277.85 C101.6,277.41 101.79,275.45 103.07,276.54 C104.35,277.63 107.65,283.09 108.57,284.4 L108.57,284.4 L98.67,284.4 Z" fill="#e8887a"/>
<path d="M98.67,279.16 C99.04,278.94 100.14,278.29 100.87,277.85 C101.6,277.41 101.79,275.45 103.07,276.54 C104.35,277.63 107.65,283.09 108.57,284.4 L108.57,284.4 L98.67,284.4 Z" fill="#b2767f" clip-path="url(#h41)"/>
<path d="M98.67,260.82 C99.04,263.44 100.14,273.92 100.87,276.54 C101.6,279.16 101.79,275.45 103.07,276.54 C104.35,277.63 107.1,282.13 108.57,283.09 C110.04,284.05 110.59,282.17 111.87,282.3 C113.15,282.44 115.17,283.53 116.27,283.88 C117.37,284.23 118.1,284.31 118.47,284.4" fill="none" stroke="#7d8fb0" stroke-width="0.5" stroke-opacity="0.8"/>
<path d="M98.67,279.16 C99.04,278.94 100.14,278.29 100.87,277.85 C101.6,277.41 101.79,275.45 103.07,276.54 C104.35,277.63 107.65,283.09 108.57,284.4" fill="none" stroke="#8e4a55" stroke-width="0.5" stroke-opacity="0.8"/>
<rect x="98.07" y="257" width="23.2" height="28.3" fill="none" stroke="#8c8c8c" stroke-width="0.8"/>
<clipPath id="h42"><path d="M125.96,260.82 C126.14,263 126.33,272.17 127.06,273.92 C127.79,275.67 129.08,272.61 130.36,271.3 C131.64,269.99 133.48,266.06 134.76,266.06 C136.04,266.06 136.96,269.12 138.06,271.3 C139.16,273.48 140.08,276.98 141.36,279.16 C142.64,281.34 145.03,283.53 145.76,284.4 L145.76,284.4 L125.96,284.4 Z"/></clipPath>
<path d="M125.96,260.82 C126.14,263 126.33,272.17 127.06,273.92 C127.79,275.67 129.08,272.61 130.36,271.3 C131.64,269.99 133.48,266.06 134.76,266.06 C136.04,266.06 136.96,269.12 138.06,271.3 C139.16,273.48 140.08,276.98 141.36,279.16 C142.64,281.34 145.03,283.53 145.76,284.4 L145.76,284.4 L125.96,284.4 Z" fill="#a9d5f4"/>
<path d="M125.96,276.54 C126.51,275.67 127.98,274.14 129.26,271.3 C130.54,268.46 132.38,259.95 133.66,259.51 C134.94,259.07 135.86,265.84 136.96,268.68 C138.06,271.52 138.79,273.92 140.26,276.54 C141.73,279.16 144.84,283.09 145.76,284.4 L145.76,284.4 L125.96,284.4 Z" fill="#e8887a"/>
<path d="M125.96,276.54 C126.51,275.67 127.98,274.14 129.26,271.3 C130.54,268.46 132.38,259.95 133.66,259.51 C134.94,259.07 135.86,265.84 136.96,268.68 C138.06,271.52 138.79,273.92 140.26,276.54 C141.73,279.16 144.84,283.09 145.76,284.4 L145.76,284.4 L125.96,284.4 Z" fill="#b2767f" clip-path="url(#h42)"/>
<path d="M125.96,260.82 C126.14,263 126.33,272.17 127.06,273.92 C127.79,275.67 129.08,272.61 130.36,271.3 C131.64,269.99 133.48,266.06 134.76,266.06 C136.04,266.06 136.96,269.12 138.06,271.3 C139.16,273.48 140.08,276.98 141.36,279.16 C142.64,281.34 145.03,283.53 145.76,284.4" fill="none" stroke="#7d8fb0" stroke-width="0.5" stroke-opacity="0.8"/>
<path d="M125.96,276.54 C126.51,275.67 127.98,274.14 129.26,271.3 C130.54,268.46 132.38,259.95 133.66,259.51 C134.94,259.07 135.86,265.84 136.96,268.68 C138.06,271.52 138.79,273.92 140.26,276.54 C141.73,279.16 144.84,283.09 145.76,284.4" fill="none" stroke="#8e4a55" stroke-width="0.5" stroke-opacity="0.8"/>
<rect x="125.36" y="257" width="23.2" height="28.3" fill="none" stroke="#8c8c8c" stroke-width="0.8"/>
<clipPath id="h43"><path d="M153.25,268.68 C153.32,267.37 153.32,260.6 153.69,260.82 C154.06,261.04 154.79,270.21 155.45,269.99 C156.11,269.77 156.92,258.86 157.65,259.51 C158.38,260.16 159.12,269.99 159.85,273.92 C160.58,277.85 160.95,281.34 162.05,283.09 C163.15,284.84 165.72,284.18 166.45,284.4 L166.45,284.4 L153.25,284.4 Z"/></clipPath>
<path d="M153.25,268.68 C153.32,267.37 153.32,260.6 153.69,260.82 C154.06,261.04 154.79,270.21 155.45,269.99 C156.11,269.77 156.92,258.86 157.65,259.51 C158.38,260.16 159.12,269.99 159.85,273.92 C160.58,277.85 160.95,281.34 162.05,283.09 C163.15,284.84 165.72,284.18 166.45,284.4 L166.45,284.4 L153.25,284.4 Z" fill="#a9d5f4"/>
<path d="M153.25,268.68 C153.32,267.37 153.32,260.6 153.69,260.82 C154.06,261.04 154.79,270.21 155.45,269.99 C156.11,269.77 156.92,258.86 157.65,259.51 C158.38,260.16 159.12,269.99 159.85,273.92 C160.58,277.85 160.95,281.34 162.05,283.09 C163.15,284.84 165.72,284.18 166.45,284.4 L166.45,284.4 L153.25,284.4 Z" fill="#e8887a"/>
<path d="M153.25,268.68 C153.32,267.37 153.32,260.6 153.69,260.82 C154.06,261.04 154.79,270.21 155.45,269.99 C156.11,269.77 156.92,258.86 157.65,259.51 C158.38,260.16 159.12,269.99 159.85,273.92 C160.58,277.85 160.95,281.34 162.05,283.09 C163.15,284.84 165.72,284.18 166.45,284.4 L166.45,284.4 L153.25,284.4 Z" fill="#b2767f" clip-path="url(#h43)"/>
<path d="M153.25,268.68 C153.32,267.37 153.32,260.6 153.69,260.82 C154.06,261.04 154.79,270.21 155.45,269.99 C156.11,269.77 156.92,258.86 157.65,259.51 C158.38,260.16 159.12,269.99 159.85,273.92 C160.58,277.85 160.95,281.34 162.05,283.09 C163.15,284.84 165.72,284.18 166.45,284.4" fill="none" stroke="#7d8fb0" stroke-width="0.5" stroke-opacity="0.8"/>
<path d="M153.25,268.68 C153.32,267.37 153.32,260.6 153.69,260.82 C154.06,261.04 154.79,270.21 155.45,269.99 C156.11,269.77 156.92,258.86 157.65,259.51 C158.38,260.16 159.12,269.99 159.85,273.92 C160.58,277.85 160.95,281.34 162.05,283.09 C163.15,284.84 165.72,284.18 166.45,284.4" fill="none" stroke="#8e4a55" stroke-width="0.5" stroke-opacity="0.8"/>
<rect x="152.65" y="257" width="23.2" height="28.3" fill="none" stroke="#8c8c8c" stroke-width="0.8"/>
<clipPath id="h44"><path d="M180.54,262.13 C180.91,263.44 182.01,268.02 182.74,269.99 C183.47,271.96 183.84,271.96 184.94,273.92 C186.04,275.88 187.69,280.25 189.34,281.78 C190.99,283.31 193.37,282.65 194.84,283.09 C196.31,283.53 197.59,284.18 198.14,284.4 L198.14,284.4 L180.54,284.4 Z"/></clipPath>
<path d="M180.54,262.13 C180.91,263.44 182.01,268.02 182.74,269.99 C183.47,271.96 183.84,271.96 184.94,273.92 C186.04,275.88 187.69,280.25 189.34,281.78 C190.99,283.31 193.37,282.65 194.84,283.09 C196.31,283.53 197.59,284.18 198.14,284.4 L198.14,284.4 L180.54,284.4 Z" fill="#a9d5f4"/>
<path d="M180.54,269.99 C181.09,270.21 182.74,269.77 183.84,271.3 C184.94,272.83 185.86,277.2 187.14,279.16 C188.42,281.12 190.44,282.22 191.54,283.09 C192.64,283.96 193.37,284.18 193.74,284.4 L193.74,284.4 L180.54,284.4 Z" fill="#e8887a"/>
<path d="M180.54,269.99 C181.09,270.21 182.74,269.77 183.84,271.3 C184.94,272.83 185.86,277.2 187.14,279.16 C188.42,281.12 190.44,282.22 191.54,283.09 C192.64,283.96 193.37,284.18 193.74,284.4 L193.74,284.4 L180.54,284.4 Z" fill="#b2767f" clip-path="url(#h44)"/>
<path d="M180.54,262.13 C180.91,263.44 182.01,268.02 182.74,269.99 C183.47,271.96 183.84,271.96 184.94,273.92 C186.04,275.88 187.69,280.25 189.34,281.78 C190.99,283.31 193.37,282.65 194.84,283.09 C196.31,283.53 197.59,284.18 198.14,284.4" fill="none" stroke="#7d8fb0" stroke-width="0.5" stroke-opacity="0.8"/>
<path d="M180.54,269.99 C181.09,270.21 182.74,269.77 183.84,271.3 C184.94,272.83 185.86,277.2 187.14,279.16 C188.42,281.12 190.44,282.22 191.54,283.09 C192.64,283.96 193.37,284.18 193.74,284.4" fill="none" stroke="#8e4a55" stroke-width="0.5" stroke-opacity="0.8"/>
<rect x="179.94" y="257" width="23.2" height="28.3" fill="none" stroke="#8c8c8c" stroke-width="0.8"/>
<clipPath id="h45"><path d="M207.83,263.44 C208.56,264.75 210.58,269.12 212.23,271.3 C213.88,273.48 215.9,275.88 217.73,276.54 C219.56,277.2 221.58,274.14 223.23,275.23 C224.88,276.32 226.53,281.56 227.63,283.09 C228.73,284.62 229.46,284.18 229.83,284.4 L229.83,284.4 L207.83,284.4 Z"/></clipPath>
<path d="M207.83,263.44 C208.56,264.75 210.58,269.12 212.23,271.3 C213.88,273.48 215.9,275.88 217.73,276.54 C219.56,277.2 221.58,274.14 223.23,275.23 C224.88,276.32 226.53,281.56 227.63,283.09 C228.73,284.62 229.46,284.18 229.83,284.4 L229.83,284.4 L207.83,284.4 Z" fill="#a9d5f4"/>
<path d="M207.83,260.82 C208.38,261.04 210.03,260.82 211.13,262.13 C212.23,263.44 213.15,266.93 214.43,268.68 C215.71,270.43 217.36,272.39 218.83,272.61 C220.3,272.83 221.95,272.17 223.23,269.99 C224.51,267.81 225.61,258.42 226.53,259.51 C227.45,260.6 228.18,272.39 228.73,276.54 C229.28,280.69 229.65,283.09 229.83,284.4 L229.83,284.4 L207.83,284.4 Z" fill="#e8887a"/>
<path d="M207.83,260.82 C208.38,261.04 210.03,260.82 211.13,262.13 C212.23,263.44 213.15,266.93 214.43,268.68 C215.71,270.43 217.36,272.39 218.83,272.61 C220.3,272.83 221.95,272.17 223.23,269.99 C224.51,267.81 225.61,258.42 226.53,259.51 C227.45,260.6 228.18,272.39 228.73,276.54 C229.28,280.69 229.65,283.09 229.83,284.4 L229.83,284.4 L207.83,284.4 Z" fill="#b2767f" clip-path="url(#h45)"/>
<path d="M207.83,263.44 C208.56,264.75 210.58,269.12 212.23,271.3 C213.88,273.48 215.9,275.88 217.73,276.54 C219.56,277.2 221.58,274.14 223.23,275.23 C224.88,276.32 226.53,281.56 227.63,283.09 C228.73,284.62 229.46,284.18 229.83,284.4" fill="none" stroke="#7d8fb0" stroke-width="0.5" stroke-opacity="0.8"/>
<path d="M207.83,260.82 C208.38,261.04 210.03,260.82 211.13,262.13 C212.23,263.44 213.15,266.93 214.43,268.68 C215.71,270.43 217.36,272.39 218.83,272.61 C220.3,272.83 221.95,272.17 223.23,269.99 C224.51,267.81 225.61,258.42 226.53,259.51 C227.45,260.6 228.18,272.39 228.73,276.54 C229.28,280.69 229.65,283.09 229.83,284.4" fill="none" stroke="#8e4a55" stroke-width="0.5" stroke-opacity="0.8"/>
<rect x="207.23" y="257" width="23.2" height="28.3" fill="none" stroke="#8c8c8c" stroke-width="0.8"/>
<clipPath id="h46"><path d="M235.12,260.82 C235.49,263.88 236.22,277.41 237.32,279.16 C238.42,280.91 240.25,274.36 241.72,271.3 C243.19,268.24 245.2,262.78 246.12,260.82 C247.04,258.86 246.67,256.02 247.22,259.51 C247.77,263 248.87,277.63 249.42,281.78 C249.97,285.93 250.34,283.96 250.52,284.4 L250.52,284.4 L235.12,284.4 Z"/></clipPath>
<path d="M235.12,260.82 C235.49,263.88 236.22,277.41 237.32,279.16 C238.42,280.91 240.25,274.36 241.72,271.3 C243.19,268.24 245.2,262.78 246.12,260.82 C247.04,258.86 246.67,256.02 247.22,259.51 C247.77,263 248.87,277.63 249.42,281.78 C249.97,285.93 250.34,283.96 250.52,284.4 L250.52,284.4 L235.12,284.4 Z" fill="#a9d5f4"/>
<path d="M235.12,283.09 C235.49,282.87 236.22,282.44 237.32,281.78 C238.42,281.12 240.25,280.47 241.72,279.16 C243.19,277.85 244.84,275.67 246.12,273.92 C247.4,272.17 248.32,271.08 249.42,268.68 C250.52,266.28 251.88,259.07 252.72,259.51 C253.56,259.95 253.93,267.15 254.48,271.3 C255.03,275.45 255.76,282.22 256.02,284.4 L256.02,284.4 L235.12,284.4 Z" fill="#e8887a"/>
<path d="M235.12,283.09 C235.49,282.87 236.22,282.44 237.32,281.78 C238.42,281.12 240.25,280.47 241.72,279.16 C243.19,277.85 244.84,275.67 246.12,273.92 C247.4,272.17 248.32,271.08 249.42,268.68 C250.52,266.28 251.88,259.07 252.72,259.51 C253.56,259.95 253.93,267.15 254.48,271.3 C255.03,275.45 255.76,282.22 256.02,284.4 L256.02,284.4 L235.12,284.4 Z" fill="#b2767f" clip-path="url(#h46)"/>
<path d="M235.12,260.82 C235.49,263.88 236.22,277.41 237.32,279.16 C238.42,280.91 240.25,274.36 241.72,271.3 C243.19,268.24 245.2,262.78 246.12,260.82 C247.04,258.86 246.67,256.02 247.22,259.51 C247.77,263 248.87,277.63 249.42,281.78 C249.97,285.93 250.34,283.96 250.52,284.4" fill="none" stroke="#7d8fb0" stroke-width="0.5" stroke-opacity="0.8"/>
<path d="M235.12,283.09 C235.49,282.87 236.22,282.44 237.32,281.78 C238.42,281.12 240.25,280.47 241.72,279.16 C243.19,277.85 244.84,275.67 246.12,273.92 C247.4,272.17 248.32,271.08 249.42,268.68 C250.52,266.28 251.88,259.07 252.72,259.51 C253.56,259.95 253.93,267.15 254.48,271.3 C255.03,275.45 255.76,282.22 256.02,284.4" fill="none" stroke="#8e4a55" stroke-width="0.5" stroke-opacity="0.8"/>
<rect x="234.52" y="257" width="23.2" height="28.3" fill="none" stroke="#8c8c8c" stroke-width="0.8"/>
<text x="20.46" y="287" font-size="5.8" fill="#444" text-anchor="end" transform="rotate(-90 20.46 287)">0</text>
<text x="25.96" y="287" font-size="5.8" fill="#444" text-anchor="end" transform="rotate(-90 25.96 287)">3</text>
<text x="31.46" y="287" font-size="5.8" fill="#444" text-anchor="end" transform="rotate(-90 31.46 287)">6</text>
<text x="36.96" y="287" font-size="5.8" fill="#444" text-anchor="end" transform="rotate(-90 36.96 287)">9</text>
<text x="47.75" y="287" font-size="5.8" fill="#444" text-anchor="end" transform="rotate(-90 47.75 287)">0</text>
<text x="51.93" y="287" font-size="5.8" fill="#444" text-anchor="end" transform="rotate(-90 51.93 287)">2</text>
<text x="56.11" y="287" font-size="5.8" fill="#444" text-anchor="end" transform="rotate(-90 56.11 287)">4</text>
<text x="60.29" y="287" font-size="5.8" fill="#444" text-anchor="end" transform="rotate(-90 60.29 287)">6</text>
<text x="64.47" y="287" font-size="5.8" fill="#444" text-anchor="end" transform="rotate(-90 64.47 287)">8</text>
<text x="75.04" y="287" font-size="5.8" fill="#444" text-anchor="end" transform="rotate(-90 75.04 287)">0</text>
<text x="79.22" y="287" font-size="5.8" fill="#444" text-anchor="end" transform="rotate(-90 79.22 287)">2</text>
<text x="83.4" y="287" font-size="5.8" fill="#444" text-anchor="end" transform="rotate(-90 83.4 287)">4</text>
<text x="87.58" y="287" font-size="5.8" fill="#444" text-anchor="end" transform="rotate(-90 87.58 287)">6</text>
<text x="91.76" y="287" font-size="5.8" fill="#444" text-anchor="end" transform="rotate(-90 91.76 287)">8</text>
<text x="102.33" y="287" font-size="5.8" fill="#444" text-anchor="end" transform="rotate(-90 102.33 287)">0</text>
<text x="106.51" y="287" font-size="5.8" fill="#444" text-anchor="end" transform="rotate(-90 106.51 287)">2</text>
<text x="110.69" y="287" font-size="5.8" fill="#444" text-anchor="end" transform="rotate(-90 110.69 287)">4</text>
<text x="114.87" y="287" font-size="5.8" fill="#444" text-anchor="end" transform="rotate(-90 114.87 287)">6</text>
<text x="119.05" y="287" font-size="5.8" fill="#444" text-anchor="end" transform="rotate(-90 119.05 287)">8</text>
<text x="129.62" y="287" font-size="5.8" fill="#444" text-anchor="end" transform="rotate(-90 129.62 287)">0</text>
<text x="137.76" y="287" font-size="5.8" fill="#444" text-anchor="end" transform="rotate(-90 137.76 287)">5</text>
<text x="145.9" y="287" font-size="5.8" fill="#444" text-anchor="end" transform="rotate(-90 145.9 287)">10</text>
<text x="156.91" y="287" font-size="5.8" fill="#444" text-anchor="end" transform="rotate(-90 156.91 287)">0</text>
<text x="165.05" y="287" font-size="5.8" fill="#444" text-anchor="end" transform="rotate(-90 165.05 287)">5</text>
<text x="173.19" y="287" font-size="5.8" fill="#444" text-anchor="end" transform="rotate(-90 173.19 287)">10</text>
<text x="184.2" y="287" font-size="5.8" fill="#444" text-anchor="end" transform="rotate(-90 184.2 287)">0.0</text>
<text x="189.04" y="287" font-size="5.8" fill="#444" text-anchor="end" transform="rotate(-90 189.04 287)">2.5</text>
<text x="194.54" y="287" font-size="5.8" fill="#444" text-anchor="end" transform="rotate(-90 194.54 287)">5.0</text>
<text x="199.6" y="287" font-size="5.8" fill="#444" text-anchor="end" transform="rotate(-90 199.6 287)">7.5</text>
<text x="211.49" y="287" font-size="5.8" fill="#444" text-anchor="end" transform="rotate(-90 211.49 287)">0</text>
<text x="215.67" y="287" font-size="5.8" fill="#444" text-anchor="end" transform="rotate(-90 215.67 287)">2</text>
<text x="219.85" y="287" font-size="5.8" fill="#444" text-anchor="end" transform="rotate(-90 219.85 287)">4</text>
<text x="224.03" y="287" font-size="5.8" fill="#444" text-anchor="end" transform="rotate(-90 224.03 287)">6</text>
<text x="228.21" y="287" font-size="5.8" fill="#444" text-anchor="end" transform="rotate(-90 228.21 287)">8</text>
<text x="238.78" y="287" font-size="5.8" fill="#444" text-anchor="end" transform="rotate(-90 238.78 287)">0.0</text>
<text x="243.62" y="287" font-size="5.8" fill="#444" text-anchor="end" transform="rotate(-90 243.62 287)">2.5</text>
<text x="249.12" y="287" font-size="5.8" fill="#444" text-anchor="end" transform="rotate(-90 249.12 287)">5.0</text>
<text x="254.18" y="287" font-size="5.8" fill="#444" text-anchor="end" transform="rotate(-90 254.18 287)">7.5</text>
<text x="276.6" y="15.9" font-size="11.2" fill="#111" font-weight="bold">I</text>
<text x="342.2" y="43.8" font-size="8" fill="#222" text-anchor="middle">AML cells</text>
<text x="342.2" y="54" font-size="8" fill="#222" text-anchor="middle" textLength="65.5" lengthAdjust="spacingAndGlyphs">cluster abundance</text>
<text x="462.5" y="43.8" font-size="8" fill="#222" text-anchor="middle">Immune cell</text>
<text x="462.5" y="54" font-size="8" fill="#222" text-anchor="middle" textLength="65.5" lengthAdjust="spacingAndGlyphs">cluster abundance</text>
<text x="342.15" y="67.6" font-size="6.5" fill="#3f6aa8" text-anchor="middle">599995</text>
<rect x="296.0" y="71.8" width="92.3" height="38.4" fill="none" stroke="#333" stroke-width="1"/>
<text x="289" y="81.1" font-size="6.6" fill="#eea23a" text-anchor="end">IgG</text>
<line x1="293.6" y1="78.8" x2="296" y2="78.8" stroke="#333" stroke-width="0.8"/>
<text x="289" y="93.1" font-size="6.6" fill="#d63b9a" text-anchor="end">Mut</text>
<line x1="293.6" y1="90.8" x2="296" y2="90.8" stroke="#333" stroke-width="0.8"/>
<text x="289" y="105.1" font-size="6.6" fill="#2f8a70" text-anchor="end">A</text>
<line x1="293.6" y1="102.8" x2="296" y2="102.8" stroke="#333" stroke-width="0.8"/>
<text x="342.15" y="118.8" font-size="6.5" fill="#3f6aa8" text-anchor="middle">599997</text>
<rect x="296.0" y="123.0" width="92.3" height="38.2" fill="none" stroke="#333" stroke-width="1"/>
<text x="289" y="132.3" font-size="6.6" fill="#eea23a" text-anchor="end">IgG</text>
<line x1="293.6" y1="130" x2="296" y2="130" stroke="#333" stroke-width="0.8"/>
<text x="289" y="144.3" font-size="6.6" fill="#d63b9a" text-anchor="end">Mut</text>
<line x1="293.6" y1="142" x2="296" y2="142" stroke="#333" stroke-width="0.8"/>
<text x="289" y="156.3" font-size="6.6" fill="#2f8a70" text-anchor="end">A</text>
<line x1="293.6" y1="154" x2="296" y2="154" stroke="#333" stroke-width="0.8"/>
<text x="342.15" y="168.6" font-size="6.5" fill="#3f6aa8" text-anchor="middle">599998</text>
<rect x="296.0" y="172.8" width="92.3" height="37.8" fill="none" stroke="#333" stroke-width="1"/>
<text x="289" y="182.1" font-size="6.6" fill="#eea23a" text-anchor="end">IgG</text>
<line x1="293.6" y1="179.8" x2="296" y2="179.8" stroke="#333" stroke-width="0.8"/>
<text x="289" y="194.1" font-size="6.6" fill="#d63b9a" text-anchor="end">Mut</text>
<line x1="293.6" y1="191.8" x2="296" y2="191.8" stroke="#333" stroke-width="0.8"/>
<text x="289" y="206.1" font-size="6.6" fill="#2f8a70" text-anchor="end">A</text>
<line x1="293.6" y1="203.8" x2="296" y2="203.8" stroke="#333" stroke-width="0.8"/>
<circle cx="335" cy="78.8" r="0.8" fill="#6f86c8"/>
<rect x="376.6" y="74.8" width="6" height="8" fill="#fff" stroke="#555" stroke-width="0.6"/>
<line x1="382" y1="74.8" x2="382" y2="82.8" stroke="#444" stroke-width="0.8999999999999999"/>
<circle cx="323.5" cy="90.8" r="0.8" fill="#c9b4a4"/>
<rect x="376.6" y="86.8" width="6" height="8" fill="#fff" stroke="#555" stroke-width="0.6"/>
<line x1="382" y1="86.8" x2="382" y2="94.8" stroke="#444" stroke-width="0.8999999999999999"/>
<line x1="343.5" y1="102.8" x2="357.3" y2="102.8" stroke="#6a6a6a" stroke-width="0.6"/>
<line x1="370" y1="102.8" x2="375.8" y2="102.8" stroke="#6a6a6a" stroke-width="0.6"/>
<rect x="357.3" y="98.3" width="12.7" height="9" fill="#fff" stroke="#6a6a6a" stroke-width="0.6"/>
<line x1="369.4" y1="98.3" x2="369.4" y2="107.3" stroke="#8a3030" stroke-width="0.8999999999999999"/>
<line x1="343.5" y1="102.8" x2="357.3" y2="102.8" stroke="#b07070" stroke-width="0.7"/>
<circle cx="376" cy="130" r="0.7" fill="#9fb0a0"/>
<rect x="382" y="126.5" width="1.4" height="7" fill="#fff" stroke="#444" stroke-width="0.6"/>
<circle cx="376.3" cy="142" r="0.7" fill="#c0c890"/>
<rect x="382" y="138.5" width="1.4" height="7" fill="#fff" stroke="#444" stroke-width="0.6"/>
<line x1="356.8" y1="154" x2="362" y2="154" stroke="#666" stroke-width="0.6"/>
<line x1="370.7" y1="154" x2="375.3" y2="154" stroke="#666" stroke-width="0.6"/>
<rect x="362" y="149.5" width="8.7" height="9" fill="#fff" stroke="#666" stroke-width="0.6"/>
<line x1="370.2" y1="149.5" x2="370.2" y2="158.5" stroke="#444" stroke-width="0.8999999999999999"/>
<rect x="383" y="175.8" width="1.4" height="8" fill="#fff" stroke="#444" stroke-width="0.6"/>
<circle cx="382" cy="179.8" r="0.6" fill="#7f90c8"/>
<rect x="383" y="187.8" width="1.4" height="8" fill="#fff" stroke="#444" stroke-width="0.6"/>
<circle cx="382" cy="191.8" r="0.6" fill="#b0c070"/>
<line x1="378.5" y1="203.8" x2="380" y2="203.8" stroke="#555" stroke-width="0.6"/>
<line x1="382" y1="203.8" x2="383.5" y2="203.8" stroke="#555" stroke-width="0.6"/>
<rect x="380" y="200.8" width="2" height="6" fill="#fff" stroke="#555" stroke-width="0.6"/>
<circle cx="380" cy="203.8" r="0.6" fill="#c07060"/>
<line x1="302.4" y1="210.6" x2="302.4" y2="213.2" stroke="#333" stroke-width="0.8"/>
<text x="302.4" y="222.6" font-size="6.4" fill="#222" text-anchor="middle">1e-04</text>
<line x1="343.5" y1="210.6" x2="343.5" y2="213.2" stroke="#333" stroke-width="0.8"/>
<text x="343.5" y="222.6" font-size="6.4" fill="#222" text-anchor="middle">1e-02</text>
<line x1="383.8" y1="210.6" x2="383.8" y2="213.2" stroke="#333" stroke-width="0.8"/>
<text x="383.8" y="222.6" font-size="6.4" fill="#222" text-anchor="middle">1e+00</text>
<text x="305.7" y="234.8" font-size="8.6" fill="#222" textLength="72.4" lengthAdjust="spacingAndGlyphs">Log<tspan font-size="5" dy="1.6">10</tspan><tspan dy="-1.6"> scale (FDR &lt; 0.01)</tspan></text>
<text x="462.45" y="67.3" font-size="6.5" fill="#c8354b" text-anchor="middle">599990</text>
<rect x="416.3" y="71.5" width="92.3" height="34.1" fill="none" stroke="#333" stroke-width="1"/>
<text x="409.4" y="80.1" font-size="6.6" fill="#eea23a" text-anchor="end">IgG</text>
<line x1="413.9" y1="77.8" x2="416.3" y2="77.8" stroke="#333" stroke-width="0.8"/>
<text x="409.4" y="90.6" font-size="6.6" fill="#d63b9a" text-anchor="end">Mut</text>
<line x1="413.9" y1="88.3" x2="416.3" y2="88.3" stroke="#333" stroke-width="0.8"/>
<text x="409.4" y="101.1" font-size="6.6" fill="#2f8a70" text-anchor="end">A</text>
<line x1="413.9" y1="98.8" x2="416.3" y2="98.8" stroke="#333" stroke-width="0.8"/>
<text x="462.45" y="113.5" font-size="6.5" fill="#c8354b" text-anchor="middle">599994</text>
<rect x="416.3" y="117.7" width="92.3" height="32.9" fill="none" stroke="#333" stroke-width="1"/>
<text x="409.4" y="126.3" font-size="6.6" fill="#eea23a" text-anchor="end">IgG</text>
<line x1="413.9" y1="124" x2="416.3" y2="124" stroke="#333" stroke-width="0.8"/>
<text x="409.4" y="136.8" font-size="6.6" fill="#d63b9a" text-anchor="end">Mut</text>
<line x1="413.9" y1="134.5" x2="416.3" y2="134.5" stroke="#333" stroke-width="0.8"/>
<text x="409.4" y="147.3" font-size="6.6" fill="#2f8a70" text-anchor="end">A</text>
<line x1="413.9" y1="145" x2="416.3" y2="145" stroke="#333" stroke-width="0.8"/>
<text x="462.45" y="159.3" font-size="6.5" fill="#5cb85c" text-anchor="middle">599993</text>
<rect x="416.3" y="163.5" width="92.3" height="33.9" fill="none" stroke="#333" stroke-width="1"/>
<text x="409.4" y="172.1" font-size="6.6" fill="#eea23a" text-anchor="end">IgG</text>
<line x1="413.9" y1="169.8" x2="416.3" y2="169.8" stroke="#333" stroke-width="0.8"/>
<text x="409.4" y="182.6" font-size="6.6" fill="#d63b9a" text-anchor="end">Mut</text>
<line x1="413.9" y1="180.3" x2="416.3" y2="180.3" stroke="#333" stroke-width="0.8"/>
<text x="409.4" y="193.1" font-size="6.6" fill="#2f8a70" text-anchor="end">A</text>
<line x1="413.9" y1="190.8" x2="416.3" y2="190.8" stroke="#333" stroke-width="0.8"/>
<text x="462.45" y="205.6" font-size="6.5" fill="#5cb85c" text-anchor="middle">599996</text>
<rect x="416.3" y="209.8" width="92.3" height="33" fill="none" stroke="#333" stroke-width="1"/>
<text x="409.4" y="218.4" font-size="6.6" fill="#eea23a" text-anchor="end">IgG</text>
<line x1="413.9" y1="216.1" x2="416.3" y2="216.1" stroke="#333" stroke-width="0.8"/>
<text x="409.4" y="228.9" font-size="6.6" fill="#d63b9a" text-anchor="end">Mut</text>
<line x1="413.9" y1="226.6" x2="416.3" y2="226.6" stroke="#333" stroke-width="0.8"/>
<text x="409.4" y="239.4" font-size="6.6" fill="#2f8a70" text-anchor="end">A</text>
<line x1="413.9" y1="237.1" x2="416.3" y2="237.1" stroke="#333" stroke-width="0.8"/>
<line x1="419.7" y1="77.8" x2="437.7" y2="77.8" stroke="#555" stroke-width="0.6"/>
<line x1="457.8" y1="77.8" x2="459.6" y2="77.8" stroke="#555" stroke-width="0.6"/>
<rect x="437.7" y="74" width="20.1" height="7.6" fill="#fff" stroke="#555" stroke-width="0.6"/>
<line x1="455" y1="74" x2="455" y2="81.6" stroke="#444" stroke-width="0.8999999999999999"/>
<circle cx="459.8" cy="77.8" r="0.8" fill="#6f86c8"/>
<line x1="422" y1="88.3" x2="437" y2="88.3" stroke="#555" stroke-width="0.6"/>
<line x1="457.3" y1="88.3" x2="462" y2="88.3" stroke="#555" stroke-width="0.6"/>
<rect x="437" y="84.5" width="20.3" height="7.6" fill="#fff" stroke="#555" stroke-width="0.6"/>
<line x1="452" y1="84.5" x2="452" y2="92.1" stroke="#444" stroke-width="0.8999999999999999"/>
<rect x="491" y="96.3" width="3" height="5" fill="#fff" stroke="#7a5040" stroke-width="0.6"/>
<circle cx="487" cy="98.8" r="0.7" fill="#e0a080"/>
<circle cx="436.5" cy="124" r="0.8" fill="#999"/>
<line x1="480.8" y1="124" x2="490.8" y2="124" stroke="#555" stroke-width="0.6"/>
<rect x="467" y="120.2" width="13.8" height="7.6" fill="#fff" stroke="#555" stroke-width="0.6"/>
<line x1="477" y1="120.2" x2="477" y2="127.8" stroke="#444" stroke-width="0.8999999999999999"/>
<circle cx="435.8" cy="134.5" r="0.8" fill="#aaa"/>
<line x1="480" y1="134.5" x2="492" y2="134.5" stroke="#555" stroke-width="0.6"/>
<rect x="465.8" y="130.7" width="14.2" height="7.6" fill="#fff" stroke="#555" stroke-width="0.6"/>
<line x1="477" y1="130.7" x2="477" y2="138.3" stroke="#444" stroke-width="0.8999999999999999"/>
<rect x="493.2" y="141.4" width="2.4" height="7.2" fill="#8a5a48" stroke="#5a3a30" stroke-width="0.5"/>
<circle cx="487.3" cy="145" r="0.7" fill="#e08070"/>
<circle cx="449.7" cy="169.8" r="0.8" fill="#999"/>
<rect x="468.4" y="166" width="10.1" height="7.6" fill="#fff" stroke="#555" stroke-width="0.6"/>
<line x1="473" y1="166" x2="473" y2="173.6" stroke="#444" stroke-width="0.8999999999999999"/>
<circle cx="449.7" cy="180.3" r="0.8" fill="#aaa"/>
<rect x="471.8" y="176.5" width="6.7" height="7.6" fill="#fff" stroke="#555" stroke-width="0.6"/>
<line x1="473" y1="176.5" x2="473" y2="184.1" stroke="#444" stroke-width="0.8999999999999999"/>
<line x1="477" y1="190.8" x2="483.2" y2="190.8" stroke="#666" stroke-width="0.6"/>
<line x1="498.4" y1="190.8" x2="502.8" y2="190.8" stroke="#666" stroke-width="0.6"/>
<rect x="483.2" y="186.8" width="15.2" height="8" fill="#fff" stroke="#666" stroke-width="0.6"/>
<line x1="496.5" y1="186.8" x2="496.5" y2="194.8" stroke="#7a4a3a" stroke-width="0.8999999999999999"/>
<line x1="477" y1="190.8" x2="483.2" y2="190.8" stroke="#d09070" stroke-width="0.8"/>
<line x1="498.4" y1="190.8" x2="502.8" y2="190.8" stroke="#d09070" stroke-width="0.8"/>
<line x1="450" y1="216.1" x2="469.3" y2="216.1" stroke="#666" stroke-width="0.6"/>
<line x1="483.4" y1="216.1" x2="495.9" y2="216.1" stroke="#666" stroke-width="0.6"/>
<rect x="469.3" y="212.3" width="14.1" height="7.6" fill="#fff" stroke="#666" stroke-width="0.6"/>
<line x1="479.2" y1="212.3" x2="479.2" y2="219.9" stroke="#444" stroke-width="0.8999999999999999"/>
<line x1="483.9" y1="226.6" x2="494.7" y2="226.6" stroke="#666" stroke-width="0.6"/>
<rect x="472.3" y="222.8" width="11.6" height="7.6" fill="#fff" stroke="#666" stroke-width="0.6"/>
<line x1="479" y1="222.8" x2="479" y2="230.4" stroke="#444" stroke-width="0.8999999999999999"/>
<circle cx="450" cy="226.6" r="0.8" fill="#aaa"/>
<line x1="489.6" y1="237.1" x2="495.4" y2="237.1" stroke="#8a5a4a" stroke-width="0.6"/>
<line x1="500.7" y1="237.1" x2="503" y2="237.1" stroke="#8a5a4a" stroke-width="0.6"/>
<rect x="495.4" y="234.35" width="5.3" height="5.5" fill="#fff" stroke="#8a5a4a" stroke-width="0.6"/>
<line x1="499.5" y1="234.35" x2="499.5" y2="239.85" stroke="#6a3a30" stroke-width="0.8999999999999999"/>
<rect x="495.4" y="234.35" width="5.3" height="5.5" fill="#ecc2b6" stroke="#8a5a4a" stroke-width="0.6"/>
<line x1="423.2" y1="242.8" x2="423.2" y2="245.4" stroke="#333" stroke-width="0.8"/>
<text x="423.2" y="253" font-size="6.4" fill="#222" text-anchor="middle">1e-04</text>
<line x1="463.8" y1="242.8" x2="463.8" y2="245.4" stroke="#333" stroke-width="0.8"/>
<text x="463.8" y="253" font-size="6.4" fill="#222" text-anchor="middle">1e-02</text>
<line x1="503.5" y1="242.8" x2="503.5" y2="245.4" stroke="#333" stroke-width="0.8"/>
<text x="503.5" y="253" font-size="6.4" fill="#222" text-anchor="middle">1e+00</text>
<text x="425.8" y="266.3" font-size="8.6" fill="#222" textLength="73.2" lengthAdjust="spacingAndGlyphs">Log<tspan font-size="5" dy="1.6">10</tspan><tspan dy="-1.6"> scale (FDR &lt; 0.01)</tspan></text>
<text x="6.8" y="320.3" font-size="11.2" fill="#111" font-weight="bold">J</text>
<text x="13.99" y="382.2" font-size="8.8" fill="#222" text-anchor="middle" textLength="68.3" lengthAdjust="spacingAndGlyphs" transform="rotate(-90 13.99 382.2)">CD38 mRNA expression</text>
<text x="24.29" y="383" font-size="8.8" fill="#222" text-anchor="middle" textLength="49" lengthAdjust="spacingAndGlyphs" transform="rotate(-90 24.29 383)">fold change (FC)</text>
<text x="34.69" y="383.5" font-size="8.8" fill="#222" text-anchor="middle" textLength="71" lengthAdjust="spacingAndGlyphs" transform="rotate(-90 34.69 383.5)">compared to control IgG</text>
<line x1="53" y1="350.9" x2="53" y2="416" stroke="#222" stroke-width="1.1"/>
<line x1="52.5" y1="415.5" x2="163.5" y2="415.5" stroke="#222" stroke-width="1.1"/>
<line x1="49.8" y1="353.6" x2="53" y2="353.6" stroke="#222" stroke-width="0.9"/>
<text x="47.8" y="356" font-size="6.8" fill="#333" text-anchor="end">3</text>
<line x1="49.8" y1="374.3" x2="53" y2="374.3" stroke="#222" stroke-width="0.9"/>
<text x="47.8" y="376.7" font-size="6.8" fill="#333" text-anchor="end">2</text>
<line x1="49.8" y1="394.6" x2="53" y2="394.6" stroke="#222" stroke-width="0.9"/>
<text x="47.8" y="397" font-size="6.8" fill="#333" text-anchor="end">1</text>
<line x1="49.8" y1="415.3" x2="53" y2="415.3" stroke="#222" stroke-width="0.9"/>
<text x="47.8" y="417.7" font-size="6.8" fill="#333" text-anchor="end">0</text>
<line x1="63.2" y1="415.5" x2="63.2" y2="418" stroke="#222" stroke-width="0.8"/>
<line x1="78.2" y1="415.5" x2="78.2" y2="418" stroke="#222" stroke-width="0.8"/>
<line x1="93.3" y1="415.5" x2="93.3" y2="418" stroke="#222" stroke-width="0.8"/>
<line x1="108.1" y1="415.5" x2="108.1" y2="418" stroke="#222" stroke-width="0.8"/>
<line x1="123.8" y1="415.5" x2="123.8" y2="418" stroke="#222" stroke-width="0.8"/>
<line x1="138.7" y1="415.5" x2="138.7" y2="418" stroke="#222" stroke-width="0.8"/>
<line x1="154.2" y1="415.5" x2="154.2" y2="418" stroke="#222" stroke-width="0.8"/>
<line x1="63.1" y1="337" x2="95" y2="337" stroke="#505050" stroke-width="0.95" stroke-dasharray="1.5 1.8"/>
<line x1="63.1" y1="337" x2="63.1" y2="378.5" stroke="#505050" stroke-width="0.95" stroke-dasharray="1.5 1.8"/>
<line x1="95" y1="337" x2="95" y2="340" stroke="#505050" stroke-width="0.95" stroke-dasharray="1.5 1.8"/>
<circle cx="74.95" cy="334.3" r="0.95" fill="#333"/>
<circle cx="77.65" cy="334.3" r="0.95" fill="#333"/>
<circle cx="80.35" cy="334.3" r="0.95" fill="#333"/>
<circle cx="83.05" cy="334.3" r="0.95" fill="#333"/>
<line x1="78.3" y1="350.4" x2="91.4" y2="350.4" stroke="#505050" stroke-width="0.95" stroke-dasharray="1.5 1.8"/>
<line x1="78.3" y1="350.4" x2="78.3" y2="381.5" stroke="#505050" stroke-width="0.95" stroke-dasharray="1.5 1.8"/>
<line x1="91.4" y1="350.4" x2="91.4" y2="354" stroke="#505050" stroke-width="0.95" stroke-dasharray="1.5 1.8"/>
<circle cx="81.95" cy="347.3" r="0.95" fill="#333"/>
<circle cx="84.65" cy="347.3" r="0.95" fill="#333"/>
<circle cx="87.35" cy="347.3" r="0.95" fill="#333"/>
<circle cx="90.05" cy="347.3" r="0.95" fill="#333"/>
<line x1="95.2" y1="350.4" x2="154.2" y2="350.4" stroke="#505050" stroke-width="0.95" stroke-dasharray="1.5 1.8"/>
<line x1="95.2" y1="350.4" x2="95.2" y2="354" stroke="#505050" stroke-width="0.95" stroke-dasharray="1.5 1.8"/>
<line x1="154.2" y1="350.4" x2="154.2" y2="380" stroke="#505050" stroke-width="0.95" stroke-dasharray="1.5 1.8"/>
<circle cx="121.45" cy="347.3" r="0.95" fill="#333"/>
<circle cx="124.15" cy="347.3" r="0.95" fill="#333"/>
<circle cx="126.85" cy="347.3" r="0.95" fill="#333"/>
<circle cx="129.55" cy="347.3" r="0.95" fill="#333"/>
<path d="M65.6,379.1 C65.57,379.44 65.55,380.29 65.4,381.13 C65.25,381.98 64.7,382.83 64.7,384.18 C64.7,385.53 65.07,387.57 65.4,389.26 C65.73,390.95 66.32,392.73 66.7,394.34 C67.08,395.95 67.65,397.64 67.7,398.91 C67.75,400.18 67.45,401.03 67,401.96 C66.55,402.89 65.33,404.08 65,404.5 L61.4,404.5 C61.07,404.08 59.85,402.89 59.4,401.96 C58.95,401.03 58.65,400.18 58.7,398.91 C58.75,397.64 59.32,395.95 59.7,394.34 C60.08,392.73 60.67,390.95 61,389.26 C61.33,387.57 61.7,385.53 61.7,384.18 C61.7,382.83 61.15,381.98 61,381.13 C60.85,380.29 60.83,379.44 60.8,379.1 Z" fill="#fff" stroke="#3d1447" stroke-width="0.8"/>
<rect x="60.9" y="378.9" width="4.6" height="1.4" fill="#3d1447"/>
<path d="M61.7,395.2 L64.7,395.2 L63.2,393.2 Z" fill="#3d1447"/>
<path d="M61.6,399.8 L64.8,399.8 L63.2,397.8 Z" fill="#3d1447"/>
<rect x="61.2" y="403.3" width="4" height="1.4" fill="#3d1447"/>
<path d="M80.8,382 C80.73,382.34 80.58,383.18 80.4,384.03 C80.22,384.88 79.65,385.72 79.7,387.07 C79.75,388.43 80.18,390.46 80.7,392.15 C81.22,393.84 82.52,395.87 82.8,397.23 C83.08,398.58 82.83,399.42 82.4,400.27 C81.97,401.12 80.57,401.96 80.2,402.3 L76.2,402.3 C75.83,401.96 74.43,401.12 74,400.27 C73.57,399.42 73.32,398.58 73.6,397.23 C73.88,395.87 75.18,393.84 75.7,392.15 C76.22,390.46 76.65,388.43 76.7,387.07 C76.75,385.72 76.18,384.88 76,384.03 C75.82,383.18 75.67,382.34 75.6,382 Z" fill="#fff" stroke="#d8207e" stroke-width="0.8"/>
<rect x="75.6" y="381.6" width="5.2" height="2" fill="#d8207e"/>
<rect x="75.7" y="396.8" width="5" height="1.6" fill="#d8207e"/>
<rect x="75.7" y="399.8" width="5" height="1.6" fill="#d8207e"/>
<path d="M98.3,357 C98.17,357.47 98.17,358.16 97.5,359.79 C96.83,361.42 94.75,364.9 94.3,366.76 C93.85,368.62 94.33,369.32 94.8,370.95 C95.27,372.58 96.75,374.9 97.1,376.53 C97.45,378.16 97.12,379.55 96.9,380.71 C96.68,381.88 96.15,382.81 95.8,383.5 C95.45,384.2 94.97,384.67 94.8,384.9 L91.8,384.9 C91.63,384.67 91.15,384.2 90.8,383.5 C90.45,382.81 89.92,381.88 89.7,380.71 C89.48,379.55 89.15,378.16 89.5,376.53 C89.85,374.9 91.33,372.58 91.8,370.95 C92.27,369.32 92.75,368.62 92.3,366.76 C91.85,364.9 89.77,361.42 89.1,359.79 C88.43,358.16 88.43,357.47 88.3,357 Z" fill="#fff" stroke="#1e6e58" stroke-width="0.8"/>
<rect x="89.05" y="356.9" width="8.5" height="1.4" fill="#1e6e58"/>
<path d="M91.8,377.3 L94.8,377.3 L93.3,379.3 Z" fill="#1e6e58"/>
<rect x="91.55" y="383.7" width="3.5" height="1.2" fill="#1e6e58"/>
<path d="M110.9,386.7 C110.87,386.95 110.8,387.75 110.7,388.23 C110.6,388.71 110.18,388.86 110.3,389.56 C110.42,390.27 111.17,391.32 111.4,392.43 C111.63,393.54 111.67,394.98 111.7,396.25 C111.73,397.52 111.7,398.8 111.6,400.07 C111.5,401.34 111.28,402.94 111.1,403.89 C110.92,404.84 110.6,405.48 110.5,405.8 L105.7,405.8 C105.6,405.48 105.28,404.84 105.1,403.89 C104.92,402.94 104.7,401.34 104.6,400.07 C104.5,398.8 104.47,397.52 104.5,396.25 C104.53,394.98 104.57,393.54 104.8,392.43 C105.03,391.32 105.78,390.27 105.9,389.56 C106.02,388.86 105.6,388.71 105.5,388.23 C105.4,387.75 105.33,386.95 105.3,386.7 Z" fill="#fff" stroke="#f0a028" stroke-width="0.8"/>
<rect x="105.6" y="386.6" width="5" height="1.4" fill="#f0a028"/>
<rect x="106.35" y="395.4" width="3.5" height="1.2" fill="#f0a028"/>
<rect x="106.35" y="398.4" width="3.5" height="1.2" fill="#f0a028"/>
<rect x="106.1" y="404.6" width="4" height="1.2" fill="#f0a028"/>
<path d="M125.8,381.3 C125.73,381.64 125.52,382.48 125.4,383.33 C125.28,384.18 124.78,385.02 125.1,386.38 C125.42,387.73 126.72,390.1 127.3,391.45 C127.88,392.8 128.52,393.31 128.6,394.5 C128.68,395.68 128.37,397.37 127.8,398.56 C127.23,399.74 125.63,401.09 125.2,401.6 L122.4,401.6 C121.97,401.09 120.37,399.74 119.8,398.56 C119.23,397.37 118.92,395.68 119,394.5 C119.08,393.31 119.72,392.8 120.3,391.45 C120.88,390.1 122.18,387.73 122.5,386.38 C122.82,385.02 122.32,384.18 122.2,383.33 C122.08,382.48 121.87,381.64 121.8,381.3 Z" fill="#fff" stroke="#3d1447" stroke-width="0.8"/>
<rect x="122" y="381.1" width="3.6" height="1.4" fill="#3d1447"/>
<rect x="119.8" y="393.8" width="2.4" height="1.2" fill="#3d1447"/>
<rect x="125.4" y="393.8" width="2.4" height="1.2" fill="#3d1447"/>
<path d="M122.5,399.9 L125.1,399.9 L123.8,401.5 Z" fill="#3d1447"/>
<path d="M141.2,377.7 C141.12,378.1 140.82,378.1 140.7,380.08 C140.58,382.07 140.33,387.04 140.5,389.62 C140.67,392.2 141.45,393.84 141.7,395.58 C141.95,397.32 141.98,398.56 142,400.05 C142.02,401.54 141.98,403.28 141.8,404.52 C141.62,405.76 141.05,407 140.9,407.5 L136.5,407.5 C136.35,407 135.78,405.76 135.6,404.52 C135.42,403.28 135.38,401.54 135.4,400.05 C135.42,398.56 135.45,397.32 135.7,395.58 C135.95,393.84 136.73,392.2 136.9,389.62 C137.07,387.04 136.82,382.07 136.7,380.08 C136.58,378.1 136.28,378.1 136.2,377.7 Z" fill="#fff" stroke="#d8207e" stroke-width="0.8"/>
<rect x="136.2" y="377.4" width="5" height="2" fill="#d8207e"/>
<rect x="136.95" y="392.9" width="3.5" height="1.2" fill="#d8207e"/>
<rect x="136.7" y="399.7" width="4" height="1.6" fill="#d8207e"/>
<rect x="136.5" y="406" width="4.4" height="1.6" fill="#d8207e"/>
<path d="M156.2,380.7 C156.13,381.1 155.83,382.09 155.8,383.09 C155.77,384.09 155.63,385.08 156,386.68 C156.37,388.27 157.47,391.06 158,392.65 C158.53,394.24 159.12,394.84 159.2,396.24 C159.28,397.63 159.07,399.62 158.5,401.02 C157.93,402.41 156.25,404 155.8,404.6 L152.6,404.6 C152.15,404 150.47,402.41 149.9,401.02 C149.33,399.62 149.12,397.63 149.2,396.24 C149.28,394.84 149.87,394.24 150.4,392.65 C150.93,391.06 152.03,388.27 152.4,386.68 C152.77,385.08 152.63,384.09 152.6,383.09 C152.57,382.09 152.27,381.1 152.2,380.7 Z" fill="#fff" stroke="#1e6e58" stroke-width="0.8"/>
<rect x="152.4" y="380.5" width="3.6" height="1.4" fill="#1e6e58"/>
<path d="M152.7,395.4 L155.7,395.4 L154.2,393.6 Z" fill="#1e6e58"/>
<path d="M152.7,398.5 L155.7,398.5 L154.2,396.7 Z" fill="#1e6e58"/>
<rect x="152.7" y="403.5" width="3" height="1.2" fill="#1e6e58"/>
<text x="63.2" y="426.5" font-size="6.6" fill="#5e3a78" text-anchor="middle">NB</text>
<text x="78.2" y="426.5" font-size="6.6" fill="#d8207e" text-anchor="middle">Mut</text>
<text x="93.3" y="426.5" font-size="6.6" fill="#2f8a70" text-anchor="middle">A</text>
<text x="108.1" y="426.5" font-size="6.6" fill="#f0a028" text-anchor="middle">IgG</text>
<text x="123.8" y="426.5" font-size="6.6" fill="#5e3a78" text-anchor="middle">NB</text>
<text x="138.7" y="426.5" font-size="6.6" fill="#d8207e" text-anchor="middle">Mut</text>
<text x="154.2" y="426.5" font-size="6.6" fill="#2f8a70" text-anchor="middle">A</text>
<line x1="61.5" y1="429.7" x2="96.2" y2="429.7" stroke="#444" stroke-width="0.7"/>
<line x1="106.5" y1="429.7" x2="156.6" y2="429.7" stroke="#444" stroke-width="0.7"/>
<text x="78.2" y="438" font-size="8.2" fill="#222" text-anchor="middle">IgG</text>
<text x="130.8" y="438" font-size="8.2" fill="#222" text-anchor="middle">αIFNγ</text>
<text x="165.8" y="358.8" font-size="7.2" fill="#222">IgG</text>
<text x="165.8" y="366.7" font-size="7.2" fill="#222" textLength="25.7" lengthAdjust="spacingAndGlyphs">CD38 <tspan fill="#6a4a80">NB</tspan></text>
<text x="165.8" y="374.5" font-size="7.2" fill="#222" textLength="39.8" lengthAdjust="spacingAndGlyphs">BN-CD38 <tspan fill="#e0408f">Mut</tspan></text>
<text x="165.8" y="382.2" font-size="7.2" fill="#222" textLength="36.5" lengthAdjust="spacingAndGlyphs">BN-CD38 <tspan fill="#3a9a80">(A)</tspan></text>
<text x="219.6" y="320.2" font-size="11.2" fill="#111" font-weight="bold">K</text>
<text x="227.19" y="381.8" font-size="8.8" fill="#222" text-anchor="middle" textLength="74" lengthAdjust="spacingAndGlyphs" transform="rotate(-90 227.19 381.8)">Surface CD38 expression</text>
<text x="238.0" y="382.5" font-size="8.8" fill="#222" text-anchor="middle" textLength="67.7" lengthAdjust="spacingAndGlyphs" transform="rotate(-90 237.6 382.5)">in CD45<tspan font-size="5.4" dy="-3">Dim</tspan><tspan dy="3"> population</tspan></text>
<text x="247.19" y="382.2" font-size="8.8" fill="#222" text-anchor="middle" textLength="51" lengthAdjust="spacingAndGlyphs" transform="rotate(-90 247.19 382.2)">(MFI FC over IgG)</text>
<line x1="261.5" y1="349.7" x2="261.5" y2="415.6" stroke="#222" stroke-width="1.1"/>
<line x1="261" y1="415.1" x2="371.5" y2="415.1" stroke="#222" stroke-width="1.1"/>
<line x1="258.3" y1="351.6" x2="261.5" y2="351.6" stroke="#222" stroke-width="0.9"/>
<text x="257.2" y="354" font-size="6.8" fill="#333" text-anchor="end">3</text>
<line x1="258.3" y1="372.9" x2="261.5" y2="372.9" stroke="#222" stroke-width="0.9"/>
<text x="257.2" y="375.3" font-size="6.8" fill="#333" text-anchor="end">2</text>
<line x1="258.3" y1="393.7" x2="261.5" y2="393.7" stroke="#222" stroke-width="0.9"/>
<text x="257.2" y="396.1" font-size="6.8" fill="#333" text-anchor="end">1</text>
<line x1="258.3" y1="415" x2="261.5" y2="415" stroke="#222" stroke-width="0.9"/>
<text x="257.2" y="417.4" font-size="6.8" fill="#333" text-anchor="end">0</text>
<line x1="272.3" y1="415.1" x2="272.3" y2="417.6" stroke="#222" stroke-width="0.8"/>
<line x1="287.2" y1="415.1" x2="287.2" y2="417.6" stroke="#222" stroke-width="0.8"/>
<line x1="302.6" y1="415.1" x2="302.6" y2="417.6" stroke="#222" stroke-width="0.8"/>
<line x1="317.1" y1="415.1" x2="317.1" y2="417.6" stroke="#222" stroke-width="0.8"/>
<line x1="333.2" y1="415.1" x2="333.2" y2="417.6" stroke="#222" stroke-width="0.8"/>
<line x1="348.9" y1="415.1" x2="348.9" y2="417.6" stroke="#222" stroke-width="0.8"/>
<line x1="364.2" y1="415.1" x2="364.2" y2="417.6" stroke="#222" stroke-width="0.8"/>
<line x1="272.3" y1="338.9" x2="303.4" y2="338.9" stroke="#505050" stroke-width="0.95" stroke-dasharray="1.5 1.8"/>
<line x1="272.3" y1="338.9" x2="272.3" y2="391" stroke="#505050" stroke-width="0.95" stroke-dasharray="1.5 1.8"/>
<line x1="303.4" y1="338.9" x2="303.4" y2="341.5" stroke="#505050" stroke-width="0.95" stroke-dasharray="1.5 1.8"/>
<circle cx="282.35" cy="335.6" r="0.95" fill="#333"/>
<circle cx="285.05" cy="335.6" r="0.95" fill="#333"/>
<circle cx="287.75" cy="335.6" r="0.95" fill="#333"/>
<circle cx="290.45" cy="335.6" r="0.95" fill="#333"/>
<line x1="287.1" y1="351.8" x2="300.5" y2="351.8" stroke="#505050" stroke-width="0.95" stroke-dasharray="1.5 1.8"/>
<line x1="287.1" y1="351.8" x2="287.1" y2="389.4" stroke="#505050" stroke-width="0.95" stroke-dasharray="1.5 1.8"/>
<line x1="300.5" y1="351.8" x2="300.5" y2="355" stroke="#505050" stroke-width="0.95" stroke-dasharray="1.5 1.8"/>
<circle cx="291.1" cy="348.2" r="0.95" fill="#333"/>
<circle cx="293.8" cy="348.2" r="0.95" fill="#333"/>
<circle cx="296.5" cy="348.2" r="0.95" fill="#333"/>
<line x1="305.3" y1="351.8" x2="364.1" y2="351.8" stroke="#505050" stroke-width="0.95" stroke-dasharray="1.5 1.8"/>
<line x1="305.3" y1="351.8" x2="305.3" y2="355" stroke="#505050" stroke-width="0.95" stroke-dasharray="1.5 1.8"/>
<line x1="364.1" y1="351.8" x2="364.1" y2="386.5" stroke="#505050" stroke-width="0.95" stroke-dasharray="1.5 1.8"/>
<circle cx="331.8" cy="348.2" r="0.95" fill="#333"/>
<circle cx="334.5" cy="348.2" r="0.95" fill="#333"/>
<circle cx="337.2" cy="348.2" r="0.95" fill="#333"/>
<path d="M305.4,359.6 C305.35,359.92 305.38,360.4 305.1,361.52 C304.82,362.64 303.67,364.72 303.7,366.32 C303.73,367.92 304.6,369.52 305.3,371.12 C306,372.72 307.77,374.64 307.9,375.92 C308.03,377.2 306.4,378.32 306.1,378.8 L299.7,378.8 C299.4,378.32 297.77,377.2 297.9,375.92 C298.03,374.64 299.8,372.72 300.5,371.12 C301.2,369.52 302.07,367.92 302.1,366.32 C302.13,364.72 300.98,362.64 300.7,361.52 C300.42,360.4 300.45,359.92 300.4,359.6 Z" fill="#fff" stroke="#1e6e58" stroke-width="0.8"/>
<rect x="300.6" y="359.4" width="4.6" height="1.6" fill="#1e6e58"/>
<rect x="300.4" y="375.2" width="5" height="1.6" fill="#1e6e58"/>
<rect x="300.9" y="377.7" width="4" height="1.2" fill="#1e6e58"/>
<ellipse cx="272.4" cy="394.6" rx="4.5" ry="1.3" fill="none" stroke="#3d1447" stroke-width="1.3"/>
<path d="M269,393 L271.6,393 L270.3,394.8 Z" fill="#3d1447"/>
<path d="M273.7,393.2 L276.3,393.2 L275,395 Z" fill="#3d1447"/>
<path d="M271.2,396.7 L274,396.7 L272.6,398.5 Z" fill="#3d1447"/>
<ellipse cx="287.5" cy="394.2" rx="4.6" ry="1.1" fill="none" stroke="#d8207e" stroke-width="1.3"/>
<rect x="284" y="393.3" width="7" height="1.8" fill="#d8207e"/>
<circle cx="315.0" cy="394.5" r="2.1" fill="#f2b030" stroke="#e09010" stroke-width="0.6"/>
<rect x="319.4" y="393.6" width="3.6" height="1.8" fill="#f2b030"/>
<ellipse cx="333.5" cy="394.3" rx="4.5" ry="1.4" fill="none" stroke="#3d1447" stroke-width="1.3"/>
<path d="M329.7,392.8 L332.3,392.8 L331,394.6 Z" fill="#3d1447"/>
<path d="M334.9,393 L337.5,393 L336.2,394.8 Z" fill="#3d1447"/>
<path d="M332.2,396.9 L335,396.9 L333.6,398.7 Z" fill="#3d1447"/>
<ellipse cx="349" cy="394.8" rx="4.5" ry="1.1" fill="none" stroke="#d8207e" stroke-width="1.3"/>
<rect x="345.5" y="393.9" width="7" height="1.8" fill="#d8207e"/>
<ellipse cx="364.2" cy="392.6" rx="4.5" ry="1.2" fill="none" stroke="#1e6e58" stroke-width="1.3"/>
<path d="M362.7,392.2 L365.7,392.2 L364.2,390.4 Z" fill="#1e6e58"/>
<rect x="360.25" y="392.5" width="2.5" height="1.4" fill="#1e6e58"/>
<rect x="365.65" y="392.5" width="2.5" height="1.4" fill="#1e6e58"/>
<text x="272.3" y="426.5" font-size="6.6" fill="#5e3a78" text-anchor="middle">NB</text>
<text x="287.2" y="426.5" font-size="6.6" fill="#d8207e" text-anchor="middle">Mut</text>
<text x="302.6" y="426.5" font-size="6.6" fill="#2f8a70" text-anchor="middle">A</text>
<text x="317.1" y="426.5" font-size="6.6" fill="#f0a028" text-anchor="middle">IgG</text>
<text x="333.2" y="426.5" font-size="6.6" fill="#5e3a78" text-anchor="middle">NB</text>
<text x="348.9" y="426.5" font-size="6.6" fill="#d8207e" text-anchor="middle">Mut</text>
<text x="364.2" y="426.5" font-size="6.6" fill="#2f8a70" text-anchor="middle">A</text>
<line x1="266.5" y1="428.8" x2="306.2" y2="428.8" stroke="#444" stroke-width="0.7"/>
<line x1="316.2" y1="428.8" x2="365.3" y2="428.8" stroke="#444" stroke-width="0.7"/>
<text x="287.3" y="439" font-size="8.2" fill="#222" text-anchor="middle">IgG</text>
<text x="340.4" y="439" font-size="8.2" fill="#222" text-anchor="middle">+ αIFNγ</text>
<text x="398" y="320.2" font-size="11.2" fill="#111" font-weight="bold">M</text>
<text x="403.79" y="369.2" font-size="8.8" fill="#222" text-anchor="middle" textLength="61" lengthAdjust="spacingAndGlyphs" transform="rotate(-90 403.79 369.2)">CD38(-) event count</text>
<text x="413.79" y="369.2" font-size="8.8" fill="#222" text-anchor="middle" textLength="52.3" lengthAdjust="spacingAndGlyphs" transform="rotate(-90 413.79 369.2)">(log F.C. over IgG)</text>
<line x1="432.4" y1="323.7" x2="432.4" y2="415.7" stroke="#222" stroke-width="1.1"/>
<line x1="431.9" y1="415.2" x2="490.4" y2="415.2" stroke="#222" stroke-width="1.1"/>
<line x1="429.2" y1="326.3" x2="432.4" y2="326.3" stroke="#222" stroke-width="0.9"/>
<text x="426.6" y="328.7" font-size="6.8" fill="#333" text-anchor="end">0</text>
<line x1="429.2" y1="361.5" x2="432.4" y2="361.5" stroke="#222" stroke-width="0.9"/>
<text x="426.6" y="363.9" font-size="6.8" fill="#333" text-anchor="end">-1</text>
<line x1="429.2" y1="397" x2="432.4" y2="397" stroke="#222" stroke-width="0.9"/>
<text x="426.6" y="399.4" font-size="6.8" fill="#333" text-anchor="end">-2</text>
<line x1="433" y1="326.4" x2="491" y2="326.4" stroke="#555" stroke-width="0.8" stroke-dasharray="0.9 1.3"/>
<line x1="449.5" y1="415.2" x2="449.5" y2="417.8" stroke="#222" stroke-width="0.8"/>
<line x1="475.4" y1="415.2" x2="475.4" y2="417.8" stroke="#222" stroke-width="0.8"/>
<line x1="449.3" y1="321.4" x2="475.2" y2="321.4" stroke="#505050" stroke-width="0.95" stroke-dasharray="1.5 1.8"/>
<line x1="449.3" y1="321.4" x2="449.3" y2="349" stroke="#505050" stroke-width="0.95" stroke-dasharray="1.5 1.8"/>
<line x1="475.2" y1="321.4" x2="475.2" y2="327" stroke="#505050" stroke-width="0.95" stroke-dasharray="1.5 1.8"/>
<circle cx="462" cy="318.2" r="0.95" fill="#333"/>
<path d="M455.9,349.3 C455.88,349.72 456.12,350.51 455.8,351.82 C455.48,353.13 454.72,354.97 454,357.18 C453.28,359.38 451.75,362.95 451.5,365.05 C451.25,367.15 451.53,367.94 452.5,369.78 C453.47,371.61 456.42,374.5 457.3,376.07 C458.18,377.65 457.77,378.44 457.8,379.23 C457.83,380.01 457.55,380.54 457.5,380.8 L441.5,380.8 C441.45,380.54 441.17,380.01 441.2,379.23 C441.23,378.44 440.82,377.65 441.7,376.07 C442.58,374.5 445.53,371.61 446.5,369.78 C447.47,367.94 447.75,367.15 447.5,365.05 C447.25,362.95 445.72,359.38 445,357.18 C444.28,354.97 443.52,353.13 443.2,351.82 C442.88,350.51 443.12,349.72 443.1,349.3 Z" fill="#e6f4ee" stroke="#2a6a5a" stroke-width="0.7"/>
<circle cx="449.5" cy="349.6" r="1.1" fill="#1a4a3a"/>
<circle cx="449.5" cy="357.8" r="1.1" fill="#1a4a3a"/>
<circle cx="452.5" cy="378.0" r="1.1" fill="#1a4a3a"/>
<circle cx="446.7" cy="380.3" r="1.1" fill="#1a4a3a"/>
<path d="M483.2,332.9 C483.12,333.21 483.37,333.73 482.7,334.76 C482.03,335.79 480.12,337.76 479.2,339.1 C478.28,340.44 477.67,341.79 477.2,342.82 C476.73,343.85 476.53,344.89 476.4,345.3 L474,345.3 C473.87,344.89 473.67,343.85 473.2,342.82 C472.73,341.79 472.12,340.44 471.2,339.1 C470.28,337.76 468.37,335.79 467.7,334.76 C467.03,333.73 467.28,333.21 467.2,332.9 Z" fill="#86bfaa" stroke="#2a5a4a" stroke-width="0.7"/>
<circle cx="471.5" cy="333.6" r="1.0" fill="#1a4a3a"/>
<circle cx="478.7" cy="333.6" r="1.0" fill="#1a4a3a"/>
<circle cx="475.2" cy="339.0" r="1.0" fill="#1a4a3a"/>
<circle cx="475.2" cy="345.0" r="1.0" fill="#1a4a3a"/>
<text x="449.5" y="426.8" font-size="6.8" fill="#2f8a70" text-anchor="middle">A</text>
<text x="475.6" y="426.8" font-size="6.8" fill="#2f8a70" text-anchor="middle">A</text>
<text x="475.6" y="440" font-size="7.6" fill="#222" text-anchor="middle">+ α-IFNγ</text>
<text x="7.6" y="465.8" font-size="11.2" fill="#111" font-weight="bold">L</text>
<text x="87.2" y="474.7" font-size="8.8" fill="#222" text-anchor="middle">IgG</text>
<text x="160.3" y="474.7" font-size="8.8" fill="#222" text-anchor="middle" textLength="52.5" lengthAdjust="spacingAndGlyphs">BN-CD38Mut</text>
<text x="211.0" y="474.4" font-size="8.8" fill="#222" textLength="50" lengthAdjust="spacingAndGlyphs">BN-CD38 <tspan fill="#2f9a78">(A)</tspan></text>
<text x="280.8" y="467.3" font-size="8.8" fill="#222" textLength="57" lengthAdjust="spacingAndGlyphs">BN-CD38 <tspan fill="#2f9a78">(A)</tspan> +</text>
<text x="309.6" y="478" font-size="8.8" fill="#222" text-anchor="middle" textLength="26" lengthAdjust="spacingAndGlyphs">α-IFNγ</text>
<text x="38.78" y="512" font-size="6.4" fill="#3e5c9a" text-anchor="middle" transform="rotate(-90 38.78 512)">AML-7</text>
<text x="46.28" y="512.1" font-size="6.4" fill="#3e5c9a" text-anchor="middle" textLength="33.2" lengthAdjust="spacingAndGlyphs" transform="rotate(-90 46.28 512.1)">CD34(+) PB</text>
<text x="38.78" y="576.4" font-size="6.4" fill="#3e5c9a" text-anchor="middle" transform="rotate(-90 38.78 576.4)">AML-2</text>
<text x="46.28" y="576.6" font-size="6.4" fill="#3e5c9a" text-anchor="middle" textLength="33.2" lengthAdjust="spacingAndGlyphs" transform="rotate(-90 46.28 576.6)">CD34(+) PB</text>
<text x="26.38" y="644.5" font-size="6.4" fill="#3e5c9a" text-anchor="middle" transform="rotate(-90 26.38 644.5)">AML-12</text>
<text x="34.18" y="644.8" font-size="6.4" fill="#3e5c9a" text-anchor="middle" textLength="32.7" lengthAdjust="spacingAndGlyphs" transform="rotate(-90 34.18 644.8)">CD34(+) PB</text>
<line x1="43.2" y1="680.5" x2="43.2" y2="656.5" stroke="#222" stroke-width="0.9"/>
<path d="M43.2,653.3 L41.3,658 L45.1,658 Z" fill="#222"/>
<text x="45.99" y="640.6" font-size="8.2" fill="#222" text-anchor="middle" textLength="17.8" lengthAdjust="spacingAndGlyphs" transform="rotate(-90 45.99 640.6)">tSNE2</text>
<line x1="50.6" y1="685" x2="76.5" y2="685" stroke="#222" stroke-width="0.9"/>
<path d="M79.6,685 L74.9,683.1 L74.9,686.9 Z" fill="#222"/>
<text x="82.7" y="688" font-size="8.2" fill="#222" textLength="18.5" lengthAdjust="spacingAndGlyphs">tSNE1</text>
<g fill="none" stroke="#2b3f6e" stroke-width="1.2"><path d="M369.8,496.3 L363.6,496.3 L363.6,509.5"/><path d="M363.6,514.5 L363.6,525.5"/><path d="M363.6,530.8 L363.6,540.8 L369.8,540.8"/><path d="M377.6,496.3 L381.3,496.3 L381.3,509.5"/><path d="M381.3,514.5 L381.3,525.5"/><path d="M381.3,530.8 L381.3,540.8 L377.6,540.8"/></g>
<text x="360.01" y="518.2" font-size="6.8" fill="#3e5c9a" text-anchor="middle" textLength="29.5" lengthAdjust="spacingAndGlyphs" transform="rotate(-90 360.01 518.2)">AML Cells</text>
<rect x="366.0" y="500.1" width="12.8" height="8.7" fill="#5bb33d" stroke="#5a3a4a" stroke-width="0.6"/>
<text x="385.3" y="506.7" font-size="6.6" fill="#222" textLength="72.5" lengthAdjust="spacingAndGlyphs">CD33(+)CD34(+)CD38(+)</text>
<rect x="366.0" y="514.2" width="12.8" height="8.7" fill="#b02d8d" stroke="#5a3a4a" stroke-width="0.6"/>
<text x="385.3" y="520.8" font-size="6.6" fill="#222" textLength="72.5" lengthAdjust="spacingAndGlyphs">CD33(+)CD34(+)CD38(–)</text>
<rect x="366.0" y="528.4" width="12.8" height="8.7" fill="#f2a3c8" stroke="#5a3a4a" stroke-width="0.6"/>
<text x="385.3" y="535" font-size="6.6" fill="#222" textLength="72.5" lengthAdjust="spacingAndGlyphs">CD33(+)CD34(–)CD38(+)</text>
<rect x="365.8" y="545.1" width="13" height="9" fill="#6f8fd2" stroke="#444" stroke-width="0.6"/>
<text x="381.6" y="551.9" font-size="6.8" fill="#222">B-cells</text>
<rect x="365.8" y="559.6" width="13" height="9" fill="#c8c024" stroke="#444" stroke-width="0.6"/>
<text x="381.6" y="566.4" font-size="6.8" fill="#222">NK Cells</text>
<rect x="365.8" y="573.5" width="13" height="9" fill="#33bfcf" stroke="#444" stroke-width="0.6"/>
<text x="381.6" y="580.3" font-size="6.8" fill="#222">NKT Cells</text>
<rect x="365.8" y="590.8" width="13" height="9" fill="#1a6a66" stroke="#444" stroke-width="0.6"/>
<text x="381.6" y="597.6" font-size="6.8" fill="#222">CD4<tspan font-size="4.4" dy="-2.6">POS</tspan><tspan dy="2.6"> T-cells</tspan></text>
<rect x="365.8" y="605.3" width="13" height="9" fill="#e8261a" stroke="#444" stroke-width="0.6"/>
<text x="381.6" y="612.1" font-size="6.8" fill="#222">CD8<tspan font-size="4.4" dy="-2.6">POS</tspan><tspan dy="2.6"> T-cells</tspan></text>
<rect x="365.8" y="619.6" width="13" height="9" fill="#7f0a36" stroke="#444" stroke-width="0.6"/>
<text x="381.6" y="626.4" font-size="6.8" fill="#222">Memory Tregs</text>
<filter id="bl" x="-10%" y="-10%" width="120%" height="120%"><feGaussianBlur stdDeviation="0.9"/></filter>
<clipPath id="c00"><rect x="51.5" y="481.8" width="71.2" height="60.5"/></clipPath>
<g clip-path="url(#c00)"><g filter="url(#bl)">
<ellipse cx="89.85" cy="517.71" rx="21.35" ry="19.92" fill="#f4eef1" fill-opacity="0.6"/>
<ellipse cx="95.54" cy="523.4" rx="17.08" ry="8.25" fill="#d4edc8" fill-opacity="0.9" transform="rotate(-12 95.54 523.4)"/>
<ellipse cx="85.58" cy="507.04" rx="12.1" ry="8.54" fill="#e6d4dc" fill-opacity="0.9"/>
<ellipse cx="77.75" cy="497.79" rx="4.27" ry="2.85" fill="#e4c0d2" fill-opacity="1"/>
<ellipse cx="99.1" cy="498.22" rx="3.13" ry="1.99" fill="#dcc2cc" fill-opacity="1"/>
<ellipse cx="85.58" cy="506.33" rx="5.69" ry="4.27" fill="#d6bcc6" fill-opacity="1"/>
<ellipse cx="88.42" cy="512.73" rx="9.96" ry="4.27" fill="#e6bcd2" fill-opacity="1"/>
<ellipse cx="105.5" cy="514.87" rx="5.69" ry="5.69" fill="#ece2e6" fill-opacity="1"/>
<ellipse cx="78.46" cy="517.71" rx="5.41" ry="3.98" fill="#9ab8a0" fill-opacity="1"/>
<ellipse cx="93.4" cy="522.41" rx="12.52" ry="5.41" fill="#86c874" fill-opacity="1" transform="rotate(-12 93.4 522.41)"/>
<ellipse cx="90.56" cy="523.83" rx="7.12" ry="3.7" fill="#64b450" fill-opacity="1" transform="rotate(-12 90.56 523.83)"/>
<ellipse cx="100.09" cy="520.56" rx="5.69" ry="4.27" fill="#84c474" fill-opacity="1"/>
<ellipse cx="59.96" cy="507.04" rx="1.85" ry="1.85" fill="#3a8a80" fill-opacity="1"/>
<ellipse cx="69.92" cy="515.58" rx="3.13" ry="4.55" fill="#b888c8" fill-opacity="1"/>
<ellipse cx="68.5" cy="529.1" rx="3.13" ry="3.7" fill="#7a927a" fill-opacity="1"/>
<ellipse cx="67.08" cy="525.25" rx="1.99" ry="1.99" fill="#8a6a8a" fill-opacity="1"/>
<ellipse cx="81.31" cy="532.65" rx="8.54" ry="3.56" fill="#ebebe4" fill-opacity="1"/>
<ellipse cx="95.82" cy="490.25" rx="2.56" ry="1.85" fill="#d01818" fill-opacity="1"/>
<ellipse cx="111.19" cy="510.6" rx="2.13" ry="2.85" fill="#e6ecee" fill-opacity="1"/>
</g>
<ellipse cx="62.81" cy="510.17" rx="1.02" ry="1.02" fill="#4a9a90" fill-opacity="0.85"/>
<ellipse cx="67.36" cy="514.15" rx="1.54" ry="1.54" fill="#7a4a8a" fill-opacity="0.85"/>
<ellipse cx="92.69" cy="493.66" rx="1.02" ry="0.77" fill="#e03030" fill-opacity="0.85"/>
<ellipse cx="94.12" cy="487.83" rx="0.77" ry="0.64" fill="#e04040" fill-opacity="0.85"/>
<text x="56.6" y="500.6" font-size="7.0" fill="#6a3d80" textLength="14.2" lengthAdjust="spacingAndGlyphs">LSCs</text>
<path d="M71.35,501.35 C71.11,502.11 70.44,504.29 69.92,505.9 C69.4,507.51 68.74,509.22 68.22,511.02 C67.69,512.83 67.17,514.82 66.79,516.72 C66.41,518.61 65.89,520.58 65.94,522.41 C65.99,524.23 66.46,526.27 67.08,527.67 C67.69,529.07 69.21,530.28 69.64,530.8" fill="none" stroke="#2a1a36" stroke-width="1.35" stroke-dasharray="2.6 2.0"/>
<path d="M75.33,507.32 C75.9,508.11 77.66,510.36 78.75,512.02 C79.84,513.68 81.64,515.7 81.88,517.28 C82.11,518.87 81.12,520.51 80.17,521.55 C79.22,522.6 77.28,522.53 76.18,523.55 C75.09,524.57 74.38,526.34 73.62,527.67 C72.86,529 71.96,530.88 71.63,531.52" fill="none" stroke="#2a1a36" stroke-width="1.35" stroke-dasharray="2.6 2.0"/>
</g>
<clipPath id="c01"><rect x="126.4" y="481.9" width="70.1" height="60.6"/></clipPath>
<g clip-path="url(#c01)"><g filter="url(#bl)">
<ellipse cx="167.69" cy="518.42" rx="21.35" ry="19.92" fill="#f4eef1" fill-opacity="0.6"/>
<ellipse cx="171.96" cy="523.4" rx="17.79" ry="8.54" fill="#d4ecc8" fill-opacity="0.9" transform="rotate(-12 171.96 523.4)"/>
<ellipse cx="155.6" cy="497.79" rx="4.98" ry="3.13" fill="#e4bcd0" fill-opacity="1"/>
<ellipse cx="177.65" cy="498.5" rx="3.56" ry="2.13" fill="#dcc2ca" fill-opacity="1"/>
<ellipse cx="163.42" cy="507.04" rx="6.4" ry="4.98" fill="#d6c2ca" fill-opacity="1"/>
<ellipse cx="162" cy="513.02" rx="9.25" ry="4.98" fill="#e4b8d2" fill-opacity="1"/>
<ellipse cx="184.77" cy="517" rx="5.69" ry="4.27" fill="#d8e4d8" fill-opacity="1"/>
<ellipse cx="171.96" cy="522.69" rx="13.09" ry="6.26" fill="#80c46c" fill-opacity="1" transform="rotate(-12 171.96 522.69)"/>
<ellipse cx="166.55" cy="523.4" rx="6.4" ry="4.27" fill="#60b24c" fill-opacity="1" transform="rotate(-12 166.55 523.4)"/>
<ellipse cx="176.52" cy="523.4" rx="6.4" ry="4.55" fill="#6cba58" fill-opacity="1"/>
<ellipse cx="154.88" cy="519.56" rx="3.56" ry="4.27" fill="#8aa890" fill-opacity="1"/>
<ellipse cx="136.38" cy="506.33" rx="1.99" ry="1.71" fill="#3a8a80" fill-opacity="1"/>
<ellipse cx="146.63" cy="515.15" rx="3.13" ry="3.7" fill="#a878b8" fill-opacity="1"/>
<ellipse cx="146.35" cy="531.94" rx="2.56" ry="2.56" fill="#6a8070" fill-opacity="1"/>
<ellipse cx="174.81" cy="490.67" rx="2.42" ry="1.85" fill="#d01818" fill-opacity="1"/>
<ellipse cx="160.58" cy="535.5" rx="8.54" ry="3.56" fill="#ecebe6" fill-opacity="1"/>
</g>
<ellipse cx="139.23" cy="509.88" rx="1.02" ry="1.02" fill="#4a9a90" fill-opacity="0.85"/>
<ellipse cx="144.21" cy="513.44" rx="1.54" ry="1.54" fill="#6a3a7a" fill-opacity="0.85"/>
<ellipse cx="143.5" cy="526.96" rx="1.54" ry="1.54" fill="#7a5a7a" fill-opacity="0.85"/>
<ellipse cx="170.54" cy="494.23" rx="1.02" ry="0.77" fill="#e03a3a" fill-opacity="0.85"/>
<ellipse cx="172.67" cy="487.83" rx="0.77" ry="0.64" fill="#e04040" fill-opacity="0.85"/>
<path d="M147.77,506.33 C147.29,507.04 145.75,509.05 144.92,510.6 C144.09,512.14 143.45,513.8 142.79,515.58 C142.12,517.36 141.1,519.37 140.94,521.27 C140.77,523.17 141.84,525.06 141.79,526.96 C141.74,528.86 140.84,531.71 140.65,532.65" fill="none" stroke="#2a1a36" stroke-width="1.35" stroke-dasharray="2.6 2.0"/>
<path d="M150.33,511.59 C151.04,512.38 153.49,514.49 154.6,516.29 C155.71,518.09 157.02,520.68 157.02,522.41 C157.02,524.14 155.71,525.56 154.6,526.68 C153.49,527.79 151.33,527.86 150.33,529.1 C149.33,530.33 148.91,533.25 148.62,534.08" fill="none" stroke="#2a1a36" stroke-width="1.35" stroke-dasharray="2.6 2.0"/>
</g>
<clipPath id="c02"><rect x="199.8" y="482.2" width="71.3" height="59.7"/></clipPath>
<g clip-path="url(#c02)"><g filter="url(#bl)">
<ellipse cx="233.58" cy="515.58" rx="24.19" ry="21.35" fill="#f7f3f3" fill-opacity="0.4"/>
<ellipse cx="230.73" cy="509.88" rx="5.69" ry="4.27" fill="#f0e2e8" fill-opacity="1"/>
<ellipse cx="235.71" cy="488.54" rx="5.41" ry="3.13" fill="#e62010" fill-opacity="1"/>
<ellipse cx="232.15" cy="486.4" rx="2.13" ry="1.42" fill="#e83020" fill-opacity="1"/>
<ellipse cx="239.27" cy="490.67" rx="2.13" ry="1.42" fill="#d82818" fill-opacity="1"/>
<ellipse cx="236.42" cy="498.5" rx="3.13" ry="2.56" fill="#d6b2c2" fill-opacity="1"/>
<ellipse cx="230.73" cy="502.06" rx="3.13" ry="2.13" fill="#dcc0cc" fill-opacity="1"/>
<ellipse cx="246.38" cy="506.33" rx="4.27" ry="3.56" fill="#c8aca8" fill-opacity="1"/>
<ellipse cx="254.92" cy="507.04" rx="6.4" ry="4.27" fill="#62b440" fill-opacity="1"/>
<ellipse cx="251.37" cy="508.75" rx="4.27" ry="3.13" fill="#78bc60" fill-opacity="1"/>
<ellipse cx="262.04" cy="512.02" rx="3.56" ry="2.13" fill="#90a880" fill-opacity="1"/>
<ellipse cx="208.67" cy="518.42" rx="5.12" ry="5.12" fill="#7a2048" fill-opacity="1"/>
<ellipse cx="206.54" cy="515.58" rx="2.13" ry="2.13" fill="#8a3a5a" fill-opacity="1"/>
<ellipse cx="211.52" cy="521.27" rx="3.56" ry="2.85" fill="#8a2a50" fill-opacity="1"/>
</g>
<ellipse cx="223.33" cy="491.1" rx="1.54" ry="1.28" fill="#e02828" fill-opacity="0.85"/>
<ellipse cx="251.37" cy="516.29" rx="0.64" ry="0.64" fill="#6a8a6a" fill-opacity="0.85"/>
<ellipse cx="221.48" cy="535.5" rx="1.54" ry="1.28" fill="#90c880" fill-opacity="0.85"/>
<path d="M220,506.5 C219.42,507.28 217.13,509.71 216.5,511.19 C215.87,512.68 216.38,512.97 216.2,515.41 C216.02,517.84 215.85,523.05 215.4,525.79 C214.95,528.54 213.12,530.37 213.5,531.9 C213.88,533.43 216.48,534.74 217.7,535 C218.91,535.27 220.03,534.66 220.8,533.49 C221.57,532.33 221.16,529.16 222.31,528 C223.46,526.84 226.1,527.39 227.7,526.51 C229.3,525.62 231.9,524.41 231.9,522.69 C231.9,520.98 229.18,518.07 227.7,516.2 C226.22,514.34 224.29,513.11 223,511.49 C221.72,509.88 220.5,507.33 220,506.5" fill="none" stroke="#2a1a36" stroke-width="1.35" stroke-dasharray="2.6 2.0"/>
</g>
<clipPath id="c03"><rect x="275.7" y="482.1" width="69.1" height="60.5"/></clipPath>
<g clip-path="url(#c03)"><g filter="url(#bl)">
<ellipse cx="315.27" cy="517" rx="24.19" ry="21.35" fill="#f4eef0" fill-opacity="0.6"/>
<ellipse cx="326.65" cy="512.73" rx="12.81" ry="9.96" fill="#cfe6c4" fill-opacity="1"/>
<ellipse cx="320.96" cy="525.54" rx="15.65" ry="7.12" fill="#d8ecd0" fill-opacity="1"/>
<ellipse cx="311.28" cy="488.54" rx="4.98" ry="3.13" fill="#e02010" fill-opacity="1"/>
<ellipse cx="306.73" cy="499.21" rx="6.4" ry="4.27" fill="#d4b4c8" fill-opacity="1"/>
<ellipse cx="309.58" cy="507.04" rx="7.12" ry="4.98" fill="#dcc0d0" fill-opacity="1"/>
<ellipse cx="309.58" cy="513.02" rx="8.54" ry="4.27" fill="#e0c0d4" fill-opacity="1"/>
<ellipse cx="328.08" cy="508.46" rx="7.12" ry="5.69" fill="#a8d490" fill-opacity="1"/>
<ellipse cx="306.73" cy="518.71" rx="5.69" ry="4.27" fill="#8ccf78" fill-opacity="1"/>
<ellipse cx="296.06" cy="533.37" rx="4.27" ry="2.85" fill="#5ab848" fill-opacity="1"/>
<ellipse cx="293.92" cy="526.96" rx="3.56" ry="2.85" fill="#a0b498" fill-opacity="1"/>
<ellipse cx="281.83" cy="514.87" rx="3.13" ry="2.56" fill="#b09aa8" fill-opacity="1"/>
<ellipse cx="285.38" cy="521.27" rx="2.85" ry="2.13" fill="#d07090" fill-opacity="1"/>
<ellipse cx="297.48" cy="504.19" rx="3.56" ry="3.56" fill="#c8b0c0" fill-opacity="1"/>
</g>
<ellipse cx="308.15" cy="486.4" rx="1.54" ry="1.28" fill="#e84030" fill-opacity="0.85"/>
<ellipse cx="298.19" cy="490.67" rx="1.54" ry="1.02" fill="#c86060" fill-opacity="0.85"/>
<ellipse cx="281.12" cy="522.69" rx="1.54" ry="1.28" fill="#c06080" fill-opacity="0.85"/>
<ellipse cx="292.5" cy="530.52" rx="1.28" ry="1.28" fill="#707870" fill-opacity="0.85"/>
<path d="M293.1,503.1 C293.88,502.82 296.35,500.57 297.8,501.4 C299.25,502.23 300.12,506.42 301.8,508.1 C303.48,509.78 306.05,510.1 307.9,511.5 C309.75,512.9 312.17,514.53 312.9,516.5 C313.63,518.47 313.58,522.17 312.3,523.3 C311.02,524.43 307.25,524.18 305.2,523.3 C303.15,522.42 301.53,520.22 300,518 C298.47,515.78 297.15,512.48 296,510 C294.85,507.52 293.58,504.25 293.1,503.1" fill="none" stroke="#2a1a36" stroke-width="1.35" stroke-dasharray="2.6 2.0"/>
<path d="M293.8,509.8 C292.9,510.7 288.75,513.57 288.4,515.2 C288.05,516.83 291.6,517.92 291.7,519.6 C291.8,521.28 289.5,523.28 289,525.3 C288.5,527.32 287.68,530.53 288.7,531.7 C289.72,532.87 293.13,533.25 295.1,532.3 C297.07,531.35 300.35,528.38 300.5,526 C300.65,523.62 297.12,520.7 296,518 C294.88,515.3 294.17,511.17 293.8,509.8" fill="none" stroke="#2a1a36" stroke-width="1.35" stroke-dasharray="2.6 2.0"/>
</g>
<clipPath id="c10"><rect x="50.8" y="544.6" width="72.2" height="64"/></clipPath>
<g clip-path="url(#c10)"><g filter="url(#bl)">
<ellipse cx="91.27" cy="578.58" rx="27.04" ry="22.77" fill="#f7f3f4" fill-opacity="0.6"/>
<ellipse cx="71.35" cy="562.92" rx="6.4" ry="4.27" fill="#6abf58" fill-opacity="1"/>
<ellipse cx="80.6" cy="566.48" rx="4.27" ry="4.98" fill="#88b078" fill-opacity="1"/>
<ellipse cx="69.92" cy="571.46" rx="5.69" ry="4.98" fill="#e6a0c4" fill-opacity="1"/>
<ellipse cx="82.73" cy="558.65" rx="2.13" ry="2.13" fill="#e0c0c8" fill-opacity="1"/>
<path d="M85.58,560.08 L92.69,557.94 L99.81,558.65 L104.79,562.92 L106.92,570.04 L106.21,577.15 L107.63,584.27 L104.79,591.38 L99.81,597.08 L92.69,597.79 L87,593.52 L84.87,585.69 L83.44,577.15 L84.15,568.62 Z" fill="#5cb848" fill-opacity="1" stroke-linejoin="round"/>
<ellipse cx="92.69" cy="585.69" rx="5.69" ry="7.12" fill="#6cc058" fill-opacity="1"/>
<ellipse cx="78.46" cy="581.42" rx="6.4" ry="4.98" fill="#c04ca0" fill-opacity="1"/>
<ellipse cx="76.33" cy="577.87" rx="3.56" ry="3.56" fill="#d070b0" fill-opacity="1"/>
<ellipse cx="103.79" cy="576.44" rx="4.98" ry="5.69" fill="#c0409a" fill-opacity="1"/>
<ellipse cx="106.21" cy="578.58" rx="2.85" ry="3.7" fill="#b03090" fill-opacity="1"/>
<ellipse cx="84.15" cy="575.02" rx="2.85" ry="3.56" fill="#c8a088" fill-opacity="0.8"/>
</g>
<path d="M77.04,569.33 C76.45,570.39 74.43,573.71 73.48,575.73 C72.53,577.75 71.58,579.64 71.35,581.42 C71.11,583.2 71.7,584.74 72.06,586.4 C72.41,588.06 73.24,590.55 73.48,591.38" fill="none" stroke="#2a1a36" stroke-width="1.35" stroke-dasharray="2.6 2.0"/>
<path d="M78.46,589.96 C79.17,589.25 81.26,586.83 82.73,585.69 C84.2,584.55 86.53,583.56 87.28,583.13" fill="none" stroke="#2a1a36" stroke-width="1.35" stroke-dasharray="2.6 2.0"/>
<path d="M78.46,572.17 C79.17,572.41 81.43,572.88 82.73,573.6 C84.04,574.31 85.7,575.97 86.29,576.44" fill="none" stroke="#2a1a36" stroke-width="1.35" stroke-dasharray="2.6 2.0"/>
<path d="M97.67,564.35 C97.91,565.29 99.45,568.14 99.1,570.04 C98.74,571.94 96.61,574.02 95.54,575.73 C94.47,577.44 93.17,579.53 92.69,580.28" fill="none" stroke="#2a1a36" stroke-width="1.35" stroke-dasharray="2.6 2.0"/>
<path d="M94.12,585.69 C94.83,585.93 96.91,587.35 98.38,587.12 C99.86,586.88 102.18,584.74 102.94,584.27" fill="none" stroke="#2a1a36" stroke-width="1.35" stroke-dasharray="2.6 2.0"/>
<path d="M104.79,564.35 C105.74,565.18 108.7,567.79 110.48,569.33 C112.26,570.87 114.51,572.05 115.46,573.6 C116.41,575.14 116.41,577.04 116.17,578.58 C115.94,580.12 114.63,581.42 114.04,582.85 C113.45,584.27 113.21,585.69 112.62,587.12 C112.02,588.54 110.84,590.67 110.48,591.38" fill="none" stroke="#2a1a36" stroke-width="1.35" stroke-dasharray="2.6 2.0"/>
</g>
<clipPath id="c11"><rect x="125.5" y="544.6" width="70.9" height="63.8"/></clipPath>
<g clip-path="url(#c11)"><g filter="url(#bl)">
<ellipse cx="164.85" cy="578.58" rx="27.04" ry="22.77" fill="#f7f3f4" fill-opacity="0.6"/>
<ellipse cx="144.92" cy="562.92" rx="6.4" ry="4.27" fill="#6abf58" fill-opacity="1"/>
<ellipse cx="154.17" cy="566.48" rx="4.27" ry="4.98" fill="#88b078" fill-opacity="1"/>
<ellipse cx="143.5" cy="571.46" rx="5.69" ry="4.98" fill="#e6a0c4" fill-opacity="1"/>
<ellipse cx="156.31" cy="558.65" rx="2.13" ry="2.13" fill="#e0c0c8" fill-opacity="1"/>
<path d="M159.15,560.08 L166.27,557.94 L173.38,558.65 L178.37,562.92 L180.5,570.04 L179.79,577.15 L181.21,584.27 L178.37,591.38 L173.38,597.08 L166.27,597.79 L160.58,593.52 L158.44,585.69 L157.02,577.15 L157.73,568.62 Z" fill="#5cb848" fill-opacity="1" stroke-linejoin="round"/>
<ellipse cx="166.27" cy="585.69" rx="5.69" ry="7.12" fill="#6cc058" fill-opacity="1"/>
<ellipse cx="152.04" cy="581.42" rx="6.4" ry="4.98" fill="#c04ca0" fill-opacity="1"/>
<ellipse cx="149.9" cy="577.87" rx="3.56" ry="3.56" fill="#d070b0" fill-opacity="1"/>
<ellipse cx="177.37" cy="576.44" rx="4.98" ry="5.69" fill="#c0409a" fill-opacity="1"/>
<ellipse cx="179.79" cy="578.58" rx="2.85" ry="3.7" fill="#b03090" fill-opacity="1"/>
<ellipse cx="157.73" cy="575.02" rx="2.85" ry="3.56" fill="#c8a088" fill-opacity="0.8"/>
</g>
<path d="M150.62,569.33 C150.02,570.39 148.01,573.71 147.06,575.73 C146.11,577.75 145.16,579.64 144.92,581.42 C144.69,583.2 145.28,584.74 145.63,586.4 C145.99,588.06 146.82,590.55 147.06,591.38" fill="none" stroke="#2a1a36" stroke-width="1.35" stroke-dasharray="2.6 2.0"/>
<path d="M152.04,589.96 C152.75,589.25 154.84,586.83 156.31,585.69 C157.78,584.55 160.1,583.56 160.86,583.13" fill="none" stroke="#2a1a36" stroke-width="1.35" stroke-dasharray="2.6 2.0"/>
<path d="M152.04,572.17 C152.75,572.41 155,572.88 156.31,573.6 C157.61,574.31 159.27,575.97 159.87,576.44" fill="none" stroke="#2a1a36" stroke-width="1.35" stroke-dasharray="2.6 2.0"/>
<path d="M171.25,564.35 C171.49,565.29 173.03,568.14 172.67,570.04 C172.32,571.94 170.18,574.02 169.12,575.73 C168.05,577.44 166.74,579.53 166.27,580.28" fill="none" stroke="#2a1a36" stroke-width="1.35" stroke-dasharray="2.6 2.0"/>
<path d="M167.69,585.69 C168.4,585.93 170.49,587.35 171.96,587.12 C173.43,586.88 175.76,584.74 176.52,584.27" fill="none" stroke="#2a1a36" stroke-width="1.35" stroke-dasharray="2.6 2.0"/>
<path d="M178.37,564.35 C179.31,565.18 182.28,567.79 184.06,569.33 C185.84,570.87 188.09,572.05 189.04,573.6 C189.99,575.14 189.99,577.04 189.75,578.58 C189.51,580.12 188.21,581.42 187.62,582.85 C187.02,584.27 186.79,585.69 186.19,587.12 C185.6,588.54 184.41,590.67 184.06,591.38" fill="none" stroke="#2a1a36" stroke-width="1.35" stroke-dasharray="2.6 2.0"/>
</g>
<clipPath id="c12"><rect x="199.5" y="544.8" width="72" height="64.4"/></clipPath>
<g clip-path="url(#c12)"><g filter="url(#bl)">
<ellipse cx="236.42" cy="585.69" rx="21.35" ry="18.5" fill="#f6f2f0" fill-opacity="0.5"/>
<ellipse cx="233.58" cy="571.46" rx="7.12" ry="5.69" fill="#eef6ea" fill-opacity="1"/>
<ellipse cx="247.81" cy="565.77" rx="9.96" ry="8.54" fill="#dcefd4" fill-opacity="1"/>
<ellipse cx="244.96" cy="562.92" rx="7.12" ry="4.27" fill="#d0e8c4" fill-opacity="1"/>
<ellipse cx="235" cy="588.54" rx="14.23" ry="10.67" fill="#8ccc7a" fill-opacity="1"/>
<ellipse cx="229.31" cy="557.23" rx="3.56" ry="2.56" fill="#c8a8a8" fill-opacity="1"/>
<ellipse cx="236.42" cy="583.13" rx="5.69" ry="7.12" fill="#66bb50" fill-opacity="1"/>
<ellipse cx="230.73" cy="594.23" rx="8.54" ry="6.4" fill="#78c068" fill-opacity="1"/>
<ellipse cx="243.54" cy="589.96" rx="4.98" ry="5.69" fill="#8cc87a" fill-opacity="1"/>
<ellipse cx="222.9" cy="591.38" rx="2.85" ry="4.27" fill="#e8a0b0" fill-opacity="1"/>
<ellipse cx="207.96" cy="582.85" rx="4.98" ry="4.27" fill="#e06040" fill-opacity="1"/>
<ellipse cx="211.52" cy="585.69" rx="2.85" ry="2.85" fill="#d05030" fill-opacity="1"/>
<ellipse cx="260.62" cy="567.9" rx="2.56" ry="2.56" fill="none" stroke="#a06050" stroke-width="1.3"/>
<ellipse cx="264.88" cy="572.17" rx="3.13" ry="3.13" fill="#803020" fill-opacity="1"/>
</g>
<path d="M219.35,567.19 C220.06,567.9 221.96,570.04 223.62,571.46 C225.28,572.88 227.88,574.07 229.31,575.73 C230.73,577.39 232.39,580.24 232.15,581.42 C231.92,582.61 229.66,582.13 227.88,582.85 C226.11,583.56 223.38,584.74 221.48,585.69 C219.58,586.64 217.57,588.78 216.5,588.54 C215.43,588.3 215.43,585.93 215.08,584.27 C214.72,582.61 214.01,580.59 214.37,578.58 C214.72,576.56 216.38,574.07 217.21,572.17 C218.04,570.28 218.99,568.02 219.35,567.19" fill="none" stroke="#2a1a36" stroke-width="1.35" stroke-dasharray="2.6 2.0"/>
<path d="M244.96,570.04 C245.91,570.51 248.76,571.82 250.65,572.88 C252.55,573.95 254.57,575.14 256.35,576.44 C258.12,577.75 260.85,579.17 261.33,580.71 C261.8,582.25 260.73,584.86 259.19,585.69 C257.65,586.52 254.09,584.98 252.08,585.69 C250.06,586.4 248.76,589.01 247.1,589.96 C245.44,590.91 243.18,592.1 242.12,591.38 C241.05,590.67 240.46,587.47 240.69,585.69 C240.93,583.91 242.95,582.25 243.54,580.71 C244.13,579.17 244.01,578.22 244.25,576.44 C244.49,574.66 244.84,571.11 244.96,570.04" fill="none" stroke="#2a1a36" stroke-width="1.35" stroke-dasharray="2.6 2.0"/>
</g>
<clipPath id="c13"><rect x="275.3" y="544.6" width="69.6" height="63.8"/></clipPath>
<g clip-path="url(#c13)"><g filter="url(#bl)">
<ellipse cx="312.42" cy="580" rx="24.19" ry="21.35" fill="#f6f2f2" fill-opacity="0.5"/>
<ellipse cx="316.69" cy="580" rx="17.08" ry="19.92" fill="#cde6c2" fill-opacity="0.9"/>
<ellipse cx="298.19" cy="592.81" rx="4.98" ry="5.69" fill="#cce6c0" fill-opacity="1"/>
<ellipse cx="305.31" cy="595.65" rx="7.12" ry="5.69" fill="#a8d898" fill-opacity="1"/>
<ellipse cx="305.31" cy="556.52" rx="4.27" ry="3.56" fill="#d890b8" fill-opacity="1"/>
<ellipse cx="295.35" cy="568.62" rx="3.56" ry="3.56" fill="#e8c0d0" fill-opacity="1"/>
<ellipse cx="298.19" cy="577.15" rx="4.27" ry="3.56" fill="#e890c0" fill-opacity="1"/>
<ellipse cx="318.12" cy="565.77" rx="8.54" ry="7.12" fill="#7cc468" fill-opacity="1"/>
<ellipse cx="322.38" cy="561.5" rx="4.27" ry="3.56" fill="#6ab858" fill-opacity="1"/>
<ellipse cx="315.27" cy="589.96" rx="9.96" ry="8.54" fill="#5cb848" fill-opacity="1"/>
<ellipse cx="284.67" cy="582.85" rx="4.98" ry="4.27" fill="#e07040" fill-opacity="1"/>
<ellipse cx="288.23" cy="585.69" rx="2.56" ry="2.56" fill="#d06030" fill-opacity="1"/>
<ellipse cx="336.62" cy="567.19" rx="2.13" ry="2.85" fill="#a07060" fill-opacity="1"/>
<ellipse cx="338.75" cy="572.88" rx="2.85" ry="2.56" fill="#7a3020" fill-opacity="1"/>
</g>
<ellipse cx="315.98" cy="601.35" rx="1.28" ry="1.02" fill="#2a5a5a" fill-opacity="0.85"/>
<path d="M302.46,553.67 C303.41,553.44 306.85,551.66 308.15,552.25 C309.46,552.84 310.88,555.81 310.29,557.23 C309.7,558.65 306.14,560.31 304.6,560.79 C303.05,561.26 301.39,561.26 301.04,560.08 C300.68,558.89 302.22,554.74 302.46,553.67" fill="none" stroke="#2a1a36" stroke-width="1.35" stroke-dasharray="2.6 2.0"/>
<path d="M295.35,562.92 C296.18,562.45 298.19,560.79 300.33,560.08 C302.46,559.37 306.14,557.94 308.15,558.65 C310.17,559.37 311,562.57 312.42,564.35 C313.85,566.12 315.74,567.43 316.69,569.33 C317.64,571.22 318.35,573.95 318.12,575.73 C317.88,577.51 316.69,579.41 315.27,580 C313.85,580.59 311.47,579.76 309.58,579.29 C307.68,578.81 305.31,577.04 303.88,577.15 C302.46,577.27 301.99,579.29 301.04,580 C300.09,580.71 299.38,581.42 298.19,581.42 C297.01,581.42 295.35,580.47 293.92,580 C292.5,579.53 289.89,579.76 289.65,578.58 C289.42,577.39 291.55,574.78 292.5,572.88 C293.45,570.99 294.87,568.85 295.35,567.19 C295.82,565.53 295.35,563.63 295.35,562.92" fill="none" stroke="#2a1a36" stroke-width="1.35" stroke-dasharray="2.6 2.0"/>
</g>
<linearGradient id="mg" x1="0" y1="0" x2="1" y2="0"><stop offset="0" stop-color="#9cb070"/><stop offset="0.3" stop-color="#d0a080"/><stop offset="0.55" stop-color="#c85aa0"/><stop offset="1" stop-color="#b8268a"/></linearGradient>
<clipPath id="c20"><rect x="50.6" y="611.2" width="72.1" height="66"/></clipPath>
<g clip-path="url(#c20)"><g filter="url(#bl)">
<path d="M72.77,634.62 L78.46,638.17 L87,640.31 L99.1,641.73 L97.67,647.42 L91.27,650.27 L84.15,653.12 L78.46,657.38 L73.48,658.81 L67.08,654.54 L62.1,650.27 L60.67,646 L63.52,641.02 L68.5,637.46 Z" fill="#5cb848" fill-opacity="1" stroke-linejoin="round"/>
<path d="M73.48,633.9 L82.73,627.5 L95.54,622.52 L99.1,623.23 L104.79,634.62 L99.1,641.02 L87,639.6 L77.04,636.75 Z" fill="url(#mg)" fill-opacity="1" stroke-linejoin="round"/>
<ellipse cx="84.87" cy="668.77" rx="3.98" ry="2.85" fill="#f0a0b8" fill-opacity="1"/>
</g>
<ellipse cx="72.77" cy="647.42" rx="1.54" ry="1.28" fill="#a8e098" fill-opacity="0.85"/>
<ellipse cx="76.33" cy="641.73" rx="1.02" ry="1.02" fill="#b0e0a0" fill-opacity="0.85"/>
<ellipse cx="81.02" cy="664.22" rx="1.54" ry="1.28" fill="#3a9a50" fill-opacity="0.85"/>
<ellipse cx="107.63" cy="661.65" rx="0.9" ry="0.9" fill="#2a2a3a" fill-opacity="0.85"/>
<ellipse cx="68.5" cy="623.23" rx="1.28" ry="0.77" fill="#2a3a3a" fill-opacity="0.85"/>
<ellipse cx="111.19" cy="639.6" rx="1.54" ry="1.54" fill="#2a6a4a" fill-opacity="0.85"/>
<ellipse cx="55.69" cy="642.02" rx="0.77" ry="0.77" fill="#e08060" fill-opacity="0.85"/>
<ellipse cx="60.67" cy="656.67" rx="1.02" ry="0.77" fill="#e08a60" fill-opacity="0.85"/>
<ellipse cx="106.21" cy="645.72" rx="1.02" ry="0.77" fill="#e07060" fill-opacity="0.85"/>
<ellipse cx="110.48" cy="645.29" rx="1.02" ry="1.02" fill="#e06050" fill-opacity="0.85"/>
<path d="M73.62,629.49 C75.14,628.8 79.79,626.65 82.73,625.37 C85.67,624.08 88.57,622.88 91.27,621.81 C93.97,620.74 97.25,618.96 98.95,618.96 C100.66,618.96 100.66,620.27 101.52,621.81 C102.37,623.35 103.27,625.84 104.08,628.21 C104.88,630.58 106.4,633.5 106.35,636.04 C106.31,638.58 105.36,642.35 103.79,643.44 C102.23,644.53 99.76,643.06 96.96,642.58 C94.16,642.11 90.08,641.45 87,640.59 C83.92,639.74 80.55,638.22 78.46,637.46 C76.37,636.7 75.28,637.37 74.48,636.04 C73.67,634.71 73.77,630.58 73.62,629.49" fill="none" stroke="#2a1a36" stroke-width="1.35" stroke-dasharray="2.6 2.0"/>
</g>
<clipPath id="c21"><rect x="125.5" y="610.9" width="71.8" height="66.3"/></clipPath>
<g clip-path="url(#c21)"><g filter="url(#bl)">
<path d="M147.06,634.62 L152.75,638.17 L161.29,640.31 L173.38,641.73 L171.96,647.42 L165.56,650.27 L158.44,653.12 L152.75,657.38 L147.77,658.81 L141.37,654.54 L136.38,650.27 L134.96,646 L137.81,641.02 L142.79,637.46 Z" fill="#5cb848" fill-opacity="1" stroke-linejoin="round"/>
<path d="M147.77,633.9 L157.02,627.5 L169.83,622.52 L173.38,623.23 L179.08,634.62 L173.38,641.02 L161.29,639.6 L151.33,636.75 Z" fill="url(#mg)" fill-opacity="1" stroke-linejoin="round"/>
<ellipse cx="159.15" cy="668.77" rx="3.98" ry="2.85" fill="#f0a0b8" fill-opacity="1"/>
</g>
<ellipse cx="147.06" cy="647.42" rx="1.54" ry="1.28" fill="#a8e098" fill-opacity="0.85"/>
<ellipse cx="150.62" cy="641.73" rx="1.02" ry="1.02" fill="#b0e0a0" fill-opacity="0.85"/>
<ellipse cx="155.31" cy="664.22" rx="1.54" ry="1.28" fill="#3a9a50" fill-opacity="0.85"/>
<ellipse cx="181.92" cy="661.65" rx="0.9" ry="0.9" fill="#2a2a3a" fill-opacity="0.85"/>
<ellipse cx="142.79" cy="623.23" rx="1.28" ry="0.77" fill="#2a3a3a" fill-opacity="0.85"/>
<ellipse cx="185.48" cy="639.6" rx="1.54" ry="1.54" fill="#2a6a4a" fill-opacity="0.85"/>
<ellipse cx="129.98" cy="642.02" rx="0.77" ry="0.77" fill="#e08060" fill-opacity="0.85"/>
<ellipse cx="134.96" cy="656.67" rx="1.02" ry="0.77" fill="#e08a60" fill-opacity="0.85"/>
<ellipse cx="180.5" cy="645.72" rx="1.02" ry="0.77" fill="#e07060" fill-opacity="0.85"/>
<ellipse cx="184.77" cy="645.29" rx="1.02" ry="1.02" fill="#e06050" fill-opacity="0.85"/>
<path d="M147.06,629.49 C148.84,628.57 154.53,625.58 157.73,623.94 C160.93,622.31 163.85,620.93 166.27,619.67 C168.69,618.42 170.82,616.4 172.25,616.4 C173.67,616.4 173.91,617.82 174.81,619.67 C175.71,621.52 176.85,624.77 177.65,627.5 C178.46,630.23 179.72,633.67 179.65,636.04 C179.57,638.41 178.74,640.83 177.23,641.73 C175.71,642.63 173.08,641.8 170.54,641.45 C168,641.09 164.85,640.38 162,639.6 C159.15,638.81 155.6,637.49 153.46,636.75 C151.33,636.01 150.26,636.39 149.19,635.18 C148.12,633.98 147.41,630.44 147.06,629.49" fill="none" stroke="#2a1a36" stroke-width="1.35" stroke-dasharray="2.6 2.0"/>
</g>
<clipPath id="c22"><rect x="199.6" y="611.4" width="72.8" height="66"/></clipPath>
<g clip-path="url(#c22)"><g filter="url(#bl)">
<ellipse cx="233.58" cy="644.58" rx="27.04" ry="24.19" fill="#f8f4f4" fill-opacity="0.5"/>
<ellipse cx="240.69" cy="631.77" rx="7.12" ry="5.69" fill="#f0ece8" fill-opacity="1"/>
<ellipse cx="232.15" cy="626.79" rx="7.83" ry="6.4" fill="#c8a0b8" fill-opacity="1"/>
<ellipse cx="233.58" cy="621.1" rx="4.27" ry="2.56" fill="#9a9a88" fill-opacity="1"/>
<ellipse cx="233.58" cy="646.28" rx="8.54" ry="5.69" fill="#b8dca8" fill-opacity="1"/>
<ellipse cx="222.19" cy="647.71" rx="14.23" ry="11.38" fill="#74be60" fill-opacity="1"/>
<ellipse cx="217.92" cy="648.85" rx="8.54" ry="7.83" fill="#5eb24a" fill-opacity="1"/>
<ellipse cx="214.37" cy="631.06" rx="2.56" ry="2.13" fill="#6a2020" fill-opacity="1"/>
<ellipse cx="236.71" cy="654.82" rx="3.84" ry="2.7" fill="none" stroke="#6a2a2a" stroke-width="1.8"/>
<ellipse cx="244.96" cy="661.65" rx="4.98" ry="4.27" fill="#f0a0b8" fill-opacity="1"/>
<ellipse cx="251.37" cy="652.4" rx="4.98" ry="3.56" fill="#e85020" fill-opacity="1"/>
<ellipse cx="259.19" cy="651.69" rx="4.27" ry="3.13" fill="#e86020" fill-opacity="1"/>
</g>
<ellipse cx="254.21" cy="641.73" rx="1.54" ry="1.54" fill="#e8a0a8" fill-opacity="0.85"/>
<ellipse cx="211.52" cy="659.52" rx="1.54" ry="1.02" fill="#907050" fill-opacity="0.85"/>
<ellipse cx="219.35" cy="665.21" rx="1.02" ry="0.77" fill="#806050" fill-opacity="0.85"/>
<path d="M219.35,626.08 C220.53,625.48 224.09,623.71 226.46,622.52 C228.83,621.33 231.21,620.15 233.58,618.96 C235.95,617.78 238.79,616.12 240.69,615.4 C242.59,614.69 243.89,613.98 244.96,614.69 C246.03,615.4 246.38,618.01 247.1,619.67 C247.81,621.33 248.52,622.88 249.23,624.65 C249.94,626.43 251.01,628.45 251.37,630.35 C251.72,632.24 251.96,634.62 251.37,636.04 C250.77,637.46 249.59,638.29 247.81,638.88 C246.03,639.48 243.06,639.6 240.69,639.6 C238.32,639.6 235.95,639.36 233.58,638.88 C231.21,638.41 228.48,637.7 226.46,636.75 C224.45,635.8 222.9,634.26 221.48,633.19 C220.06,632.12 218.28,631.53 217.92,630.35 C217.57,629.16 219.11,626.79 219.35,626.08" fill="none" stroke="#2a1a36" stroke-width="1.35" stroke-dasharray="2.6 2.0"/>
</g>
<clipPath id="c23"><rect x="274.7" y="610.4" width="70.3" height="66.8"/></clipPath>
<g clip-path="url(#c23)"><g filter="url(#bl)">
<ellipse cx="309.58" cy="644.58" rx="27.04" ry="24.19" fill="#f8f4f4" fill-opacity="0.5"/>
<ellipse cx="319.54" cy="630.35" rx="7.83" ry="5.69" fill="#d0a8c8" fill-opacity="1"/>
<ellipse cx="309.58" cy="624.65" rx="6.4" ry="5.69" fill="#c050a8" fill-opacity="1"/>
<ellipse cx="308.15" cy="619.67" rx="3.56" ry="2.13" fill="#a08090" fill-opacity="1"/>
<ellipse cx="313.85" cy="643.15" rx="7.12" ry="4.98" fill="#a8d498" fill-opacity="1"/>
<ellipse cx="301.04" cy="646.28" rx="15.65" ry="9.96" fill="#72bf60" fill-opacity="1"/>
<ellipse cx="295.35" cy="647.71" rx="8.54" ry="7.83" fill="#60b450" fill-opacity="1"/>
<ellipse cx="288.94" cy="631.06" rx="3.13" ry="2.13" fill="#804030" fill-opacity="1"/>
<ellipse cx="312.14" cy="654.82" rx="3.98" ry="2.85" fill="none" stroke="#5a2a1a" stroke-width="1.8"/>
<ellipse cx="318.12" cy="663.79" rx="4.98" ry="4.27" fill="#f4b0c8" fill-opacity="1"/>
<ellipse cx="324.52" cy="651.69" rx="3.98" ry="3.42" fill="#f05018" fill-opacity="1"/>
<ellipse cx="333.06" cy="651.69" rx="4.55" ry="3.56" fill="#f05a18" fill-opacity="1"/>
</g>
<ellipse cx="286.81" cy="658.81" rx="1.54" ry="1.02" fill="#906040" fill-opacity="0.85"/>
<ellipse cx="293.92" cy="663.79" rx="1.28" ry="0.77" fill="#906040" fill-opacity="0.85"/>
<path d="M295.35,623.23 C296.53,622.76 300.09,621.45 302.46,620.38 C304.83,619.32 307.21,617.89 309.58,616.83 C311.95,615.76 314.56,614.93 316.69,613.98 C318.83,613.03 320.96,610.78 322.38,611.13 C323.81,611.49 324.16,614.1 325.23,616.12 C326.3,618.13 327.72,620.86 328.79,623.23 C329.86,625.6 331.04,627.97 331.63,630.35 C332.23,632.72 332.94,635.92 332.35,637.46 C331.75,639 330.21,639.24 328.08,639.6 C325.94,639.95 322.62,639.71 319.54,639.6 C316.46,639.48 312.42,639.36 309.58,638.88 C306.73,638.41 304.36,637.94 302.46,636.75 C300.56,635.56 299.38,633.55 298.19,631.77 C297.01,629.99 295.82,627.5 295.35,626.08 C294.87,624.65 295.35,623.71 295.35,623.23" fill="none" stroke="#2a1a36" stroke-width="1.35" stroke-dasharray="2.6 2.0"/>
</g>
<rect x="51.5" y="481.8" width="71.2" height="60.5" fill="none" stroke="#5a6f98" stroke-width="1.1"/>
<rect x="126.4" y="481.9" width="70.1" height="60.6" fill="none" stroke="#5a6f98" stroke-width="1.1"/>
<rect x="199.8" y="482.2" width="71.3" height="59.7" fill="none" stroke="#5a6f98" stroke-width="1.1"/>
<rect x="275.7" y="482.1" width="69.1" height="60.5" fill="none" stroke="#5a6f98" stroke-width="1.1"/>
<rect x="50.8" y="544.6" width="72.2" height="64" fill="none" stroke="#5a6f98" stroke-width="1.1"/>
<rect x="125.5" y="544.6" width="70.9" height="63.8" fill="none" stroke="#5a6f98" stroke-width="1.1"/>
<rect x="199.5" y="544.8" width="72" height="64.4" fill="none" stroke="#5a6f98" stroke-width="1.1"/>
<rect x="275.3" y="544.6" width="69.6" height="63.8" fill="none" stroke="#5a6f98" stroke-width="1.1"/>
<rect x="50.6" y="611.2" width="72.1" height="66" fill="none" stroke="#5a6f98" stroke-width="1.1"/>
<rect x="125.5" y="610.9" width="71.8" height="66.3" fill="none" stroke="#5a6f98" stroke-width="1.1"/>
<rect x="199.6" y="611.4" width="72.8" height="66" fill="none" stroke="#5a6f98" stroke-width="1.1"/>
<rect x="274.7" y="610.4" width="70.3" height="66.8" fill="none" stroke="#5a6f98" stroke-width="1.1"/>
<rect x="0.5" y="0.5" width="519" height="696" fill="none" stroke="#575757" stroke-width="1"/>
</svg>
</body></html>
